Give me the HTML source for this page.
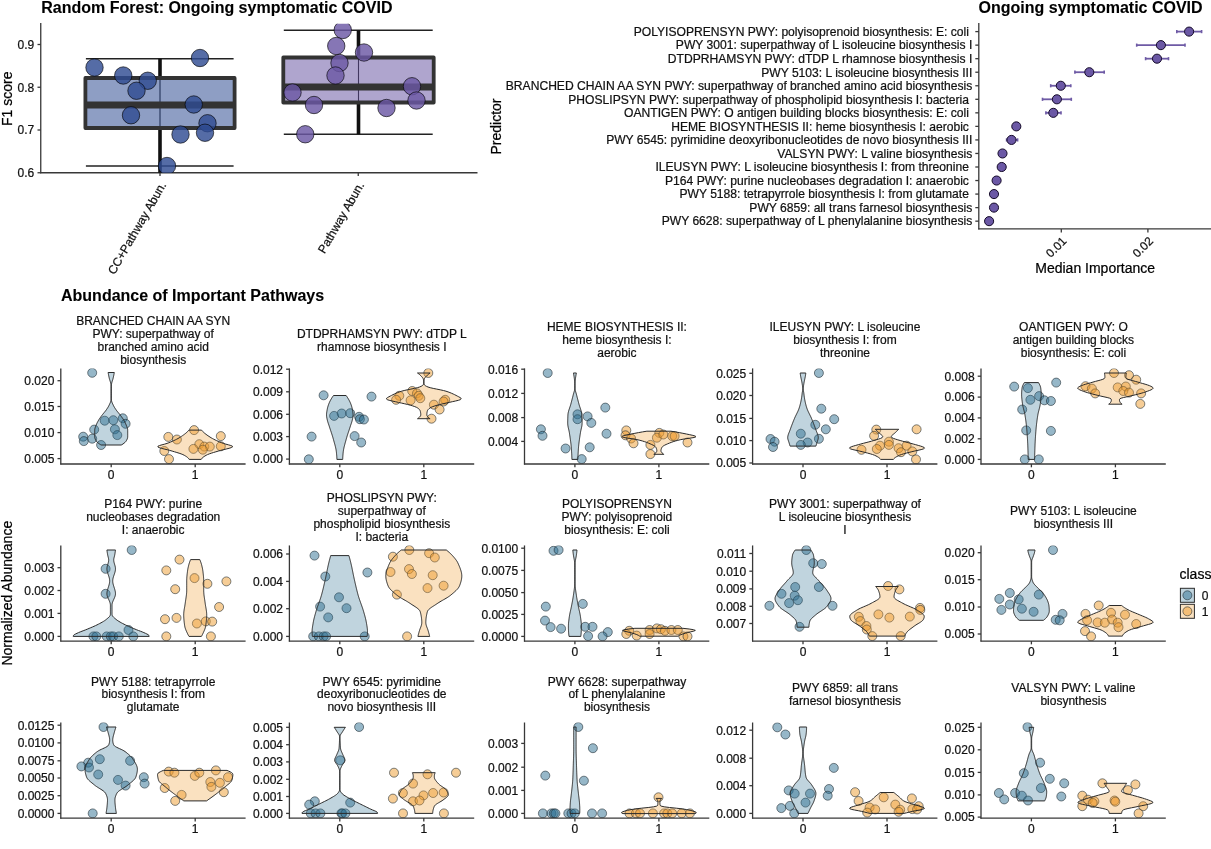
<!DOCTYPE html>
<html><head><meta charset="utf-8"><title>Random Forest: Ongoing symptomatic COVID</title>
<style>html,body{margin:0;padding:0;background:#fff;overflow:hidden}svg{display:block}text{font-family:'Liberation Sans', Arial, sans-serif;stroke:currentColor;stroke-width:0.22px}</style>
</head><body>
<svg width="1211" height="849" viewBox="0 0 1211 849">
<rect width="1211" height="849" fill="#fff"/>
<text x="41.3" y="13.2" font-size="16" font-weight="bold" fill="#000" color="#000" style="stroke-width:0.1px">Random Forest: Ongoing symptomatic COVID</text>
<line x1="40.75" y1="23" x2="40.75" y2="173.3" stroke="#383838" stroke-width="1.3"/>
<line x1="37.5" y1="44.5" x2="40.75" y2="44.5" stroke="#383838" stroke-width="1.3"/>
<text x="34.3" y="48.80" font-size="12" text-anchor="end" fill="#111" color="#111">0.9</text>
<line x1="37.5" y1="87.25" x2="40.75" y2="87.25" stroke="#383838" stroke-width="1.3"/>
<text x="34.3" y="91.55" font-size="12" text-anchor="end" fill="#111" color="#111">0.8</text>
<line x1="37.5" y1="130.0" x2="40.75" y2="130.0" stroke="#383838" stroke-width="1.3"/>
<text x="34.3" y="134.30" font-size="12" text-anchor="end" fill="#111" color="#111">0.7</text>
<line x1="37.5" y1="172.75" x2="40.75" y2="172.75" stroke="#383838" stroke-width="1.3"/>
<text x="34.3" y="177.05" font-size="12" text-anchor="end" fill="#111" color="#111">0.6</text>
<text transform="translate(11.8,98.8) rotate(-90)" font-size="14" text-anchor="middle" fill="#000" color="#000">F1 score</text>
<line x1="40.2" y1="172.75" x2="477.5" y2="172.75" stroke="#383838" stroke-width="1.3"/>
<line x1="160.0" y1="172.75" x2="160.0" y2="176" stroke="#383838" stroke-width="1.3"/>
<line x1="358.25" y1="172.75" x2="358.25" y2="176" stroke="#383838" stroke-width="1.3"/>
<text transform="translate(159,180.5) rotate(-60)" font-size="12" text-anchor="end" dominant-baseline="hanging" fill="#111" color="#111">CC+Pathway Abun.</text>
<text transform="translate(357,180.5) rotate(-60)" font-size="12" text-anchor="end" dominant-baseline="hanging" fill="#111" color="#111">Pathway Abun.</text>
<defs><clipPath id="cpTL"><rect x="40.75" y="23.75" width="440" height="149"/></clipPath></defs>
<g clip-path="url(#cpTL)">
<line x1="160.0" y1="58.7" x2="160.0" y2="166" stroke="#111" stroke-width="1.1"/>
<line x1="85.9" y1="58.7" x2="233.6" y2="58.7" stroke="#222" stroke-width="1.6"/>
<line x1="85.9" y1="166" x2="233.6" y2="166" stroke="#222" stroke-width="1.6"/>
<line x1="160.0" y1="58.7" x2="160.0" y2="78" stroke="#111" stroke-width="3.6"/>
<line x1="160.0" y1="128" x2="160.0" y2="175" stroke="#111" stroke-width="3.6"/>
<rect x="85.4" y="78" width="149.2" height="50" fill="#2F4C92" fill-opacity="0.54" stroke="#333" stroke-width="3.8" stroke-linejoin="round"/>
<line x1="85.4" y1="105" x2="234.6" y2="105" stroke="#333" stroke-width="7.2"/>
<circle cx="94.5" cy="67.5" r="8.7" fill="#2F4C92" fill-opacity="0.82" stroke="#000" stroke-opacity="0.7" stroke-width="0.9"/>
<circle cx="123.25" cy="75.5" r="8.7" fill="#2F4C92" fill-opacity="0.82" stroke="#000" stroke-opacity="0.7" stroke-width="0.9"/>
<circle cx="147.75" cy="80.75" r="8.7" fill="#2F4C92" fill-opacity="0.82" stroke="#000" stroke-opacity="0.7" stroke-width="0.9"/>
<circle cx="136.5" cy="90.75" r="8.7" fill="#2F4C92" fill-opacity="0.82" stroke="#000" stroke-opacity="0.7" stroke-width="0.9"/>
<circle cx="131" cy="115.25" r="8.7" fill="#2F4C92" fill-opacity="0.82" stroke="#000" stroke-opacity="0.7" stroke-width="0.9"/>
<circle cx="200" cy="58" r="8.7" fill="#2F4C92" fill-opacity="0.82" stroke="#000" stroke-opacity="0.7" stroke-width="0.9"/>
<circle cx="193.75" cy="104.5" r="8.7" fill="#2F4C92" fill-opacity="0.82" stroke="#000" stroke-opacity="0.7" stroke-width="0.9"/>
<circle cx="207.5" cy="123.25" r="8.7" fill="#2F4C92" fill-opacity="0.82" stroke="#000" stroke-opacity="0.7" stroke-width="0.9"/>
<circle cx="205" cy="132.75" r="8.7" fill="#2F4C92" fill-opacity="0.82" stroke="#000" stroke-opacity="0.7" stroke-width="0.9"/>
<circle cx="180.5" cy="134.5" r="8.7" fill="#2F4C92" fill-opacity="0.82" stroke="#000" stroke-opacity="0.7" stroke-width="0.9"/>
<circle cx="167" cy="166" r="8.7" fill="#2F4C92" fill-opacity="0.82" stroke="#000" stroke-opacity="0.7" stroke-width="0.9"/>
<line x1="358.5" y1="30.25" x2="358.5" y2="134.25" stroke="#111" stroke-width="1.1"/>
<line x1="283.8" y1="30.25" x2="432.7" y2="30.25" stroke="#222" stroke-width="1.6"/>
<line x1="283.8" y1="134.25" x2="432.7" y2="134.25" stroke="#222" stroke-width="1.6"/>
<line x1="358.5" y1="30.25" x2="358.5" y2="57.5" stroke="#111" stroke-width="3.6"/>
<line x1="358.5" y1="102.5" x2="358.5" y2="134.25" stroke="#111" stroke-width="3.6"/>
<rect x="283.3" y="57.5" width="150.4" height="45.0" fill="#6B58A5" fill-opacity="0.54" stroke="#333" stroke-width="3.8" stroke-linejoin="round"/>
<line x1="283.3" y1="87" x2="433.7" y2="87" stroke="#333" stroke-width="7.2"/>
<circle cx="342.75" cy="30" r="8.7" fill="#6B58A5" fill-opacity="0.82" stroke="#000" stroke-opacity="0.7" stroke-width="0.9"/>
<circle cx="336.25" cy="46" r="8.7" fill="#6B58A5" fill-opacity="0.82" stroke="#000" stroke-opacity="0.7" stroke-width="0.9"/>
<circle cx="364" cy="52.5" r="8.7" fill="#6B58A5" fill-opacity="0.82" stroke="#000" stroke-opacity="0.7" stroke-width="0.9"/>
<circle cx="339.5" cy="63" r="8.7" fill="#6B58A5" fill-opacity="0.82" stroke="#000" stroke-opacity="0.7" stroke-width="0.9"/>
<circle cx="335.5" cy="75.5" r="8.7" fill="#6B58A5" fill-opacity="0.82" stroke="#000" stroke-opacity="0.7" stroke-width="0.9"/>
<circle cx="292.5" cy="92.5" r="8.7" fill="#6B58A5" fill-opacity="0.82" stroke="#000" stroke-opacity="0.7" stroke-width="0.9"/>
<circle cx="314" cy="105" r="8.7" fill="#6B58A5" fill-opacity="0.82" stroke="#000" stroke-opacity="0.7" stroke-width="0.9"/>
<circle cx="412" cy="86.25" r="8.7" fill="#6B58A5" fill-opacity="0.82" stroke="#000" stroke-opacity="0.7" stroke-width="0.9"/>
<circle cx="416.5" cy="100.5" r="8.7" fill="#6B58A5" fill-opacity="0.82" stroke="#000" stroke-opacity="0.7" stroke-width="0.9"/>
<circle cx="386.5" cy="108" r="8.7" fill="#6B58A5" fill-opacity="0.82" stroke="#000" stroke-opacity="0.7" stroke-width="0.9"/>
<circle cx="305.25" cy="134.25" r="8.7" fill="#6B58A5" fill-opacity="0.82" stroke="#000" stroke-opacity="0.7" stroke-width="0.9"/>
</g>
<text x="978.6" y="13.2" font-size="16" font-weight="bold" fill="#000" color="#000" style="stroke-width:0.1px">Ongoing symptomatic COVID</text>
<line x1="978.8" y1="23" x2="978.8" y2="229.4" stroke="#383838" stroke-width="1.3"/>
<line x1="978.3" y1="228.9" x2="1211" y2="228.9" stroke="#383838" stroke-width="1.3"/>
<line x1="975.3" y1="31.60" x2="978.8" y2="31.60" stroke="#383838" stroke-width="1.3"/>
<text x="972.3" y="35.90" font-size="12.1" text-anchor="end" fill="#111" color="#111">POLYISOPRENSYN PWY: polyisoprenoid biosynthesis: E: coli </text>
<line x1="1176.8" y1="31.60" x2="1201.6" y2="31.60" stroke="#6E5AA5" stroke-width="1.8"/>
<line x1="1176.8" y1="30.00" x2="1176.8" y2="33.20" stroke="#6E5AA5" stroke-width="1.6"/>
<line x1="1201.6" y1="30.00" x2="1201.6" y2="33.20" stroke="#6E5AA5" stroke-width="1.6"/>
<circle cx="1189.1" cy="31.60" r="4.55" fill="#6B58A5" stroke="#140a28" stroke-width="1.0"/>
<line x1="975.3" y1="45.14" x2="978.8" y2="45.14" stroke="#383838" stroke-width="1.3"/>
<text x="972.3" y="49.44" font-size="12.1" text-anchor="end" fill="#111" color="#111">PWY 3001: superpathway of L isoleucine biosynthesis I</text>
<line x1="1136.7" y1="45.14" x2="1185.0" y2="45.14" stroke="#6E5AA5" stroke-width="1.8"/>
<line x1="1136.7" y1="43.54" x2="1136.7" y2="46.74" stroke="#6E5AA5" stroke-width="1.6"/>
<line x1="1185.0" y1="43.54" x2="1185.0" y2="46.74" stroke="#6E5AA5" stroke-width="1.6"/>
<circle cx="1160.9" cy="45.14" r="4.55" fill="#6B58A5" stroke="#140a28" stroke-width="1.0"/>
<line x1="975.3" y1="58.68" x2="978.8" y2="58.68" stroke="#383838" stroke-width="1.3"/>
<text x="972.3" y="62.98" font-size="12.1" text-anchor="end" fill="#111" color="#111">DTDPRHAMSYN PWY: dTDP L rhamnose biosynthesis I</text>
<line x1="1145.6" y1="58.68" x2="1168.5" y2="58.68" stroke="#6E5AA5" stroke-width="1.8"/>
<line x1="1145.6" y1="57.08" x2="1145.6" y2="60.28" stroke="#6E5AA5" stroke-width="1.6"/>
<line x1="1168.5" y1="57.08" x2="1168.5" y2="60.28" stroke="#6E5AA5" stroke-width="1.6"/>
<circle cx="1157.0" cy="58.68" r="4.55" fill="#6B58A5" stroke="#140a28" stroke-width="1.0"/>
<line x1="975.3" y1="72.22" x2="978.8" y2="72.22" stroke="#383838" stroke-width="1.3"/>
<text x="972.3" y="76.52" font-size="12.1" text-anchor="end" fill="#111" color="#111">PWY 5103: L isoleucine biosynthesis III</text>
<line x1="1074.9" y1="72.22" x2="1104.2" y2="72.22" stroke="#6E5AA5" stroke-width="1.8"/>
<line x1="1074.9" y1="70.62" x2="1074.9" y2="73.82" stroke="#6E5AA5" stroke-width="1.6"/>
<line x1="1104.2" y1="70.62" x2="1104.2" y2="73.82" stroke="#6E5AA5" stroke-width="1.6"/>
<circle cx="1089.3" cy="72.22" r="4.55" fill="#6B58A5" stroke="#140a28" stroke-width="1.0"/>
<line x1="975.3" y1="85.76" x2="978.8" y2="85.76" stroke="#383838" stroke-width="1.3"/>
<text x="972.3" y="90.06" font-size="12.1" text-anchor="end" fill="#111" color="#111">BRANCHED CHAIN AA SYN PWY: superpathway of branched amino acid biosynthesis</text>
<line x1="1050.7" y1="85.76" x2="1070.8" y2="85.76" stroke="#6E5AA5" stroke-width="1.8"/>
<line x1="1050.7" y1="84.16" x2="1050.7" y2="87.36" stroke="#6E5AA5" stroke-width="1.6"/>
<line x1="1070.8" y1="84.16" x2="1070.8" y2="87.36" stroke="#6E5AA5" stroke-width="1.6"/>
<circle cx="1060.8" cy="85.76" r="4.55" fill="#6B58A5" stroke="#140a28" stroke-width="1.0"/>
<line x1="975.3" y1="99.30" x2="978.8" y2="99.30" stroke="#383838" stroke-width="1.3"/>
<text x="972.3" y="103.60" font-size="12.1" text-anchor="end" fill="#111" color="#111">PHOSLIPSYN PWY: superpathway of phospholipid biosynthesis I: bacteria </text>
<line x1="1042.5" y1="99.30" x2="1071.3" y2="99.30" stroke="#6E5AA5" stroke-width="1.8"/>
<line x1="1042.5" y1="97.70" x2="1042.5" y2="100.90" stroke="#6E5AA5" stroke-width="1.6"/>
<line x1="1071.3" y1="97.70" x2="1071.3" y2="100.90" stroke="#6E5AA5" stroke-width="1.6"/>
<circle cx="1056.9" cy="99.30" r="4.55" fill="#6B58A5" stroke="#140a28" stroke-width="1.0"/>
<line x1="975.3" y1="112.84" x2="978.8" y2="112.84" stroke="#383838" stroke-width="1.3"/>
<text x="972.3" y="117.14" font-size="12.1" text-anchor="end" fill="#111" color="#111">OANTIGEN PWY: O antigen building blocks biosynthesis: E: coli </text>
<line x1="1045.9" y1="112.84" x2="1061.0" y2="112.84" stroke="#6E5AA5" stroke-width="1.8"/>
<line x1="1045.9" y1="111.24" x2="1045.9" y2="114.44" stroke="#6E5AA5" stroke-width="1.6"/>
<line x1="1061.0" y1="111.24" x2="1061.0" y2="114.44" stroke="#6E5AA5" stroke-width="1.6"/>
<circle cx="1053.3" cy="112.84" r="4.55" fill="#6B58A5" stroke="#140a28" stroke-width="1.0"/>
<line x1="975.3" y1="126.38" x2="978.8" y2="126.38" stroke="#383838" stroke-width="1.3"/>
<text x="972.3" y="130.68" font-size="12.1" text-anchor="end" fill="#111" color="#111">HEME BIOSYNTHESIS II: heme biosynthesis I: aerobic </text>
<circle cx="1016.3" cy="126.38" r="4.55" fill="#6B58A5" stroke="#140a28" stroke-width="1.0"/>
<line x1="975.3" y1="139.92" x2="978.8" y2="139.92" stroke="#383838" stroke-width="1.3"/>
<text x="972.3" y="144.22" font-size="12.1" text-anchor="end" fill="#111" color="#111">PWY 6545: pyrimidine deoxyribonucleotides de novo biosynthesis III</text>
<line x1="1006.6" y1="139.92" x2="1017.6" y2="139.92" stroke="#6E5AA5" stroke-width="1.8"/>
<line x1="1006.6" y1="138.32" x2="1006.6" y2="141.52" stroke="#6E5AA5" stroke-width="1.6"/>
<line x1="1017.6" y1="138.32" x2="1017.6" y2="141.52" stroke="#6E5AA5" stroke-width="1.6"/>
<circle cx="1011.5" cy="139.92" r="4.55" fill="#6B58A5" stroke="#140a28" stroke-width="1.0"/>
<line x1="975.3" y1="153.46" x2="978.8" y2="153.46" stroke="#383838" stroke-width="1.3"/>
<text x="972.3" y="157.76" font-size="12.1" text-anchor="end" fill="#111" color="#111">VALSYN PWY: L valine biosynthesis</text>
<circle cx="1002.5" cy="153.46" r="4.55" fill="#6B58A5" stroke="#140a28" stroke-width="1.0"/>
<line x1="975.3" y1="167.00" x2="978.8" y2="167.00" stroke="#383838" stroke-width="1.3"/>
<text x="972.3" y="171.30" font-size="12.1" text-anchor="end" fill="#111" color="#111">ILEUSYN PWY: L isoleucine biosynthesis I: from threonine </text>
<circle cx="1001.7" cy="167.00" r="4.55" fill="#6B58A5" stroke="#140a28" stroke-width="1.0"/>
<line x1="975.3" y1="180.54" x2="978.8" y2="180.54" stroke="#383838" stroke-width="1.3"/>
<text x="972.3" y="184.84" font-size="12.1" text-anchor="end" fill="#111" color="#111">P164 PWY: purine nucleobases degradation I: anaerobic </text>
<circle cx="996.6" cy="180.54" r="4.55" fill="#6B58A5" stroke="#140a28" stroke-width="1.0"/>
<line x1="975.3" y1="194.08" x2="978.8" y2="194.08" stroke="#383838" stroke-width="1.3"/>
<text x="972.3" y="198.38" font-size="12.1" text-anchor="end" fill="#111" color="#111">PWY 5188: tetrapyrrole biosynthesis I: from glutamate </text>
<circle cx="994.0" cy="194.08" r="4.55" fill="#6B58A5" stroke="#140a28" stroke-width="1.0"/>
<line x1="975.3" y1="207.62" x2="978.8" y2="207.62" stroke="#383838" stroke-width="1.3"/>
<text x="972.3" y="211.92" font-size="12.1" text-anchor="end" fill="#111" color="#111">PWY 6859: all trans farnesol biosynthesis</text>
<circle cx="994.0" cy="207.62" r="4.55" fill="#6B58A5" stroke="#140a28" stroke-width="1.0"/>
<line x1="975.3" y1="221.16" x2="978.8" y2="221.16" stroke="#383838" stroke-width="1.3"/>
<text x="972.3" y="225.46" font-size="12.1" text-anchor="end" fill="#111" color="#111">PWY 6628: superpathway of L phenylalanine biosynthesis</text>
<circle cx="989.1" cy="221.16" r="4.55" fill="#6B58A5" stroke="#140a28" stroke-width="1.0"/>
<line x1="1061.3" y1="228.9" x2="1061.3" y2="232.4" stroke="#383838" stroke-width="1.3"/>
<text transform="translate(1061.10,235.5) rotate(-45)" font-size="12" text-anchor="end" dominant-baseline="hanging" fill="#111" color="#111">0.01</text>
<line x1="1147.9" y1="228.9" x2="1147.9" y2="232.4" stroke="#383838" stroke-width="1.3"/>
<text transform="translate(1147.70,235.5) rotate(-45)" font-size="12" text-anchor="end" dominant-baseline="hanging" fill="#111" color="#111">0.02</text>
<text x="1095.2" y="273" font-size="14" text-anchor="middle" fill="#000" color="#000">Median Importance</text>
<text transform="translate(501.3,126.5) rotate(-90)" font-size="14" text-anchor="middle" fill="#000" color="#000">Predictor</text>
<text x="61.0" y="301.3" font-size="16" font-weight="bold" fill="#000" color="#000" style="stroke-width:0.1px">Abundance of Important Pathways</text>
<text transform="translate(11.8,593.2) rotate(-90)" font-size="14" text-anchor="middle" fill="#000" color="#000">Normalized Abundance</text>
<text x="153.20" y="325.00" font-size="12" text-anchor="middle" fill="#111" color="#111">BRANCHED CHAIN AA SYN</text>
<text x="153.20" y="337.83" font-size="12" text-anchor="middle" fill="#111" color="#111">PWY: superpathway of</text>
<text x="153.20" y="350.67" font-size="12" text-anchor="middle" fill="#111" color="#111">branched amino acid</text>
<text x="153.20" y="363.50" font-size="12" text-anchor="middle" fill="#111" color="#111">biosynthesis</text>
<clipPath id="cp0"><rect x="60.80" y="368.40" width="184.80" height="95.60"/></clipPath>
<g clip-path="url(#cp0)">
<circle cx="92.20" cy="372.80" r="4.5" fill="#2D7091" fill-opacity="0.5" stroke="#1c2830" stroke-opacity="0.6" stroke-width="0.95"/>
<circle cx="104.70" cy="420.70" r="4.5" fill="#2D7091" fill-opacity="0.5" stroke="#1c2830" stroke-opacity="0.6" stroke-width="0.95"/>
<circle cx="113.30" cy="420.20" r="4.5" fill="#2D7091" fill-opacity="0.5" stroke="#1c2830" stroke-opacity="0.6" stroke-width="0.95"/>
<circle cx="122.80" cy="418.30" r="4.5" fill="#2D7091" fill-opacity="0.5" stroke="#1c2830" stroke-opacity="0.6" stroke-width="0.95"/>
<circle cx="125.60" cy="423.80" r="4.5" fill="#2D7091" fill-opacity="0.5" stroke="#1c2830" stroke-opacity="0.6" stroke-width="0.95"/>
<circle cx="94.20" cy="429.60" r="4.5" fill="#2D7091" fill-opacity="0.5" stroke="#1c2830" stroke-opacity="0.6" stroke-width="0.95"/>
<circle cx="114.90" cy="429.30" r="4.5" fill="#2D7091" fill-opacity="0.5" stroke="#1c2830" stroke-opacity="0.6" stroke-width="0.95"/>
<circle cx="117.30" cy="435.10" r="4.5" fill="#2D7091" fill-opacity="0.5" stroke="#1c2830" stroke-opacity="0.6" stroke-width="0.95"/>
<circle cx="83.20" cy="436.70" r="4.5" fill="#2D7091" fill-opacity="0.5" stroke="#1c2830" stroke-opacity="0.6" stroke-width="0.95"/>
<circle cx="83.80" cy="441.10" r="4.5" fill="#2D7091" fill-opacity="0.5" stroke="#1c2830" stroke-opacity="0.6" stroke-width="0.95"/>
<circle cx="92.20" cy="438.70" r="4.5" fill="#2D7091" fill-opacity="0.5" stroke="#1c2830" stroke-opacity="0.6" stroke-width="0.95"/>
<circle cx="101.10" cy="445.00" r="4.5" fill="#2D7091" fill-opacity="0.5" stroke="#1c2830" stroke-opacity="0.6" stroke-width="0.95"/>
<circle cx="194.10" cy="430.10" r="4.5" fill="#ED9B2D" fill-opacity="0.5" stroke="#1c2830" stroke-opacity="0.6" stroke-width="0.95"/>
<circle cx="168.30" cy="436.90" r="4.5" fill="#ED9B2D" fill-opacity="0.5" stroke="#1c2830" stroke-opacity="0.6" stroke-width="0.95"/>
<circle cx="176.90" cy="439.50" r="4.5" fill="#ED9B2D" fill-opacity="0.5" stroke="#1c2830" stroke-opacity="0.6" stroke-width="0.95"/>
<circle cx="220.80" cy="436.10" r="4.5" fill="#ED9B2D" fill-opacity="0.5" stroke="#1c2830" stroke-opacity="0.6" stroke-width="0.95"/>
<circle cx="199.30" cy="444.20" r="4.5" fill="#ED9B2D" fill-opacity="0.5" stroke="#1c2830" stroke-opacity="0.6" stroke-width="0.95"/>
<circle cx="193.40" cy="448.90" r="4.5" fill="#ED9B2D" fill-opacity="0.5" stroke="#1c2830" stroke-opacity="0.6" stroke-width="0.95"/>
<circle cx="204.30" cy="446.60" r="4.5" fill="#ED9B2D" fill-opacity="0.5" stroke="#1c2830" stroke-opacity="0.6" stroke-width="0.95"/>
<circle cx="209.80" cy="446.60" r="4.5" fill="#ED9B2D" fill-opacity="0.5" stroke="#1c2830" stroke-opacity="0.6" stroke-width="0.95"/>
<circle cx="220.80" cy="446.30" r="4.5" fill="#ED9B2D" fill-opacity="0.5" stroke="#1c2830" stroke-opacity="0.6" stroke-width="0.95"/>
<circle cx="164.30" cy="451.00" r="4.5" fill="#ED9B2D" fill-opacity="0.5" stroke="#1c2830" stroke-opacity="0.6" stroke-width="0.95"/>
<circle cx="169.00" cy="459.10" r="4.5" fill="#ED9B2D" fill-opacity="0.5" stroke="#1c2830" stroke-opacity="0.6" stroke-width="0.95"/>
<circle cx="202.80" cy="449.70" r="4.5" fill="#ED9B2D" fill-opacity="0.5" stroke="#1c2830" stroke-opacity="0.6" stroke-width="0.95"/>
<path d="M108.10,372.50 L108.23,373.20 L108.36,373.90 L108.49,374.60 L108.63,375.30 L108.77,376.00 L108.92,376.70 L109.07,377.40 L109.23,378.10 L109.41,378.80 L109.62,379.50 L109.84,380.20 L110.07,380.90 L110.29,381.60 L110.50,382.30 L110.68,383.00 L110.82,383.70 L110.91,384.40 L110.94,385.10 L110.95,385.80 L110.95,386.50 L110.95,387.20 L110.95,387.90 L110.95,388.60 L110.95,389.30 L110.95,390.00 L110.95,390.70 L110.95,391.40 L110.95,392.10 L110.95,392.80 L110.95,393.50 L110.95,394.20 L110.95,394.90 L110.95,395.60 L110.95,396.30 L110.95,397.00 L110.95,397.70 L110.95,398.40 L110.95,399.10 L110.94,399.80 L110.89,400.50 L110.77,401.20 L110.56,401.90 L110.30,402.60 L109.99,403.30 L109.67,404.00 L109.34,404.70 L109.01,405.40 L108.65,406.10 L108.26,406.80 L107.84,407.50 L107.40,408.20 L106.94,408.90 L106.47,409.60 L105.98,410.30 L105.45,411.00 L104.90,411.70 L104.32,412.40 L103.73,413.10 L103.15,413.80 L102.59,414.50 L102.05,415.20 L101.53,415.90 L101.01,416.60 L100.50,417.30 L100.00,418.00 L99.52,418.70 L99.07,419.40 L98.65,420.10 L98.24,420.80 L97.85,421.50 L97.48,422.20 L97.13,422.90 L96.79,423.60 L96.49,424.30 L96.20,425.00 L95.92,425.70 L95.64,426.40 L95.37,427.10 L95.13,427.80 L94.93,428.50 L94.79,429.20 L94.72,429.90 L94.70,430.60 L94.70,431.30 L94.70,432.00 L94.70,432.70 L94.70,433.40 L94.70,434.10 L94.70,434.80 L94.70,435.50 L94.70,436.20 L94.72,436.90 L94.78,437.60 L94.94,438.30 L95.19,439.00 L95.51,439.70 L95.88,440.40 L96.30,441.10 L96.84,441.80 L97.54,442.50 L98.36,443.20 L99.33,443.90 L100.35,444.60 L101.20,445.00 L121.20,445.00 L122.05,444.60 L123.07,443.90 L124.04,443.20 L124.86,442.50 L125.56,441.80 L126.10,441.10 L126.52,440.40 L126.89,439.70 L127.21,439.00 L127.46,438.30 L127.62,437.60 L127.68,436.90 L127.70,436.20 L127.70,435.50 L127.70,434.80 L127.70,434.10 L127.70,433.40 L127.70,432.70 L127.70,432.00 L127.70,431.30 L127.70,430.60 L127.68,429.90 L127.61,429.20 L127.47,428.50 L127.27,427.80 L127.03,427.10 L126.76,426.40 L126.48,425.70 L126.20,425.00 L125.91,424.30 L125.61,423.60 L125.27,422.90 L124.92,422.20 L124.55,421.50 L124.16,420.80 L123.75,420.10 L123.33,419.40 L122.88,418.70 L122.40,418.00 L121.90,417.30 L121.39,416.60 L120.87,415.90 L120.35,415.20 L119.81,414.50 L119.25,413.80 L118.67,413.10 L118.08,412.40 L117.50,411.70 L116.95,411.00 L116.42,410.30 L115.93,409.60 L115.46,408.90 L115.00,408.20 L114.56,407.50 L114.14,406.80 L113.75,406.10 L113.39,405.40 L113.06,404.70 L112.73,404.00 L112.41,403.30 L112.10,402.60 L111.84,401.90 L111.63,401.20 L111.51,400.50 L111.46,399.80 L111.45,399.10 L111.45,398.40 L111.45,397.70 L111.45,397.00 L111.45,396.30 L111.45,395.60 L111.45,394.90 L111.45,394.20 L111.45,393.50 L111.45,392.80 L111.45,392.10 L111.45,391.40 L111.45,390.70 L111.45,390.00 L111.45,389.30 L111.45,388.60 L111.45,387.90 L111.45,387.20 L111.45,386.50 L111.45,385.80 L111.46,385.10 L111.49,384.40 L111.58,383.70 L111.72,383.00 L111.90,382.30 L112.11,381.60 L112.33,380.90 L112.56,380.20 L112.78,379.50 L112.99,378.80 L113.17,378.10 L113.33,377.40 L113.48,376.70 L113.63,376.00 L113.77,375.30 L113.91,374.60 L114.04,373.90 L114.17,373.20 L114.30,372.50 Z" fill="#2D7091" fill-opacity="0.3" stroke="#2a2a2a" stroke-width="1.0" stroke-linejoin="round"/>
<path d="M188.90,430.10 L188.28,430.80 L187.65,431.50 L186.93,432.20 L186.15,432.90 L185.30,433.60 L184.40,434.30 L183.45,435.00 L182.45,435.70 L181.41,436.40 L180.34,437.10 L179.20,437.80 L177.99,438.50 L176.68,439.20 L175.29,439.90 L173.81,440.60 L172.26,441.30 L170.64,442.00 L168.93,442.70 L167.03,443.40 L164.72,444.10 L162.06,444.80 L159.59,445.50 L158.01,446.20 L157.83,446.90 L159.06,447.60 L161.32,448.30 L164.15,449.00 L167.08,449.70 L169.75,450.40 L172.17,451.10 L174.53,451.80 L176.87,452.50 L179.11,453.20 L181.15,453.90 L182.89,454.60 L184.30,455.30 L185.49,456.00 L186.55,456.70 L187.48,457.40 L188.25,458.10 L188.81,458.80 L189.20,459.40 L201.20,459.40 L201.59,458.80 L202.15,458.10 L202.92,457.40 L203.85,456.70 L204.91,456.00 L206.10,455.30 L207.51,454.60 L209.25,453.90 L211.29,453.20 L213.53,452.50 L215.87,451.80 L218.23,451.10 L220.65,450.40 L223.32,449.70 L226.25,449.00 L229.08,448.30 L231.34,447.60 L232.57,446.90 L232.39,446.20 L230.81,445.50 L228.34,444.80 L225.68,444.10 L223.37,443.40 L221.47,442.70 L219.76,442.00 L218.14,441.30 L216.59,440.60 L215.11,439.90 L213.72,439.20 L212.41,438.50 L211.20,437.80 L210.06,437.10 L208.99,436.40 L207.95,435.70 L206.95,435.00 L206.00,434.30 L205.10,433.60 L204.25,432.90 L203.47,432.20 L202.75,431.50 L202.12,430.80 L201.50,430.10 Z" fill="#ED9B2D" fill-opacity="0.3" stroke="#2a2a2a" stroke-width="1.0" stroke-linejoin="round"/>
</g>
<line x1="60.80" y1="368.40" x2="60.80" y2="464.55" stroke="#383838" stroke-width="1.3"/>
<line x1="60.25" y1="464.00" x2="245.60" y2="464.00" stroke="#383838" stroke-width="1.3"/>
<line x1="57.50" y1="380.70" x2="60.80" y2="380.70" stroke="#383838" stroke-width="1.3"/>
<text x="54.40" y="385.00" font-size="12" text-anchor="end" fill="#111" color="#111">0.020</text>
<line x1="57.50" y1="406.50" x2="60.80" y2="406.50" stroke="#383838" stroke-width="1.3"/>
<text x="54.40" y="410.80" font-size="12" text-anchor="end" fill="#111" color="#111">0.015</text>
<line x1="57.50" y1="432.60" x2="60.80" y2="432.60" stroke="#383838" stroke-width="1.3"/>
<text x="54.40" y="436.90" font-size="12" text-anchor="end" fill="#111" color="#111">0.010</text>
<line x1="57.50" y1="458.60" x2="60.80" y2="458.60" stroke="#383838" stroke-width="1.3"/>
<text x="54.40" y="462.90" font-size="12" text-anchor="end" fill="#111" color="#111">0.005</text>
<line x1="111.20" y1="464.00" x2="111.20" y2="467.30" stroke="#383838" stroke-width="1.3"/>
<text x="111.20" y="478.60" font-size="12" text-anchor="middle" fill="#111" color="#111">0</text>
<line x1="195.20" y1="464.00" x2="195.20" y2="467.30" stroke="#383838" stroke-width="1.3"/>
<text x="195.20" y="478.60" font-size="12" text-anchor="middle" fill="#111" color="#111">1</text>
<text x="381.80" y="337.83" font-size="12" text-anchor="middle" fill="#111" color="#111">DTDPRHAMSYN PWY: dTDP L</text>
<text x="381.80" y="350.67" font-size="12" text-anchor="middle" fill="#111" color="#111">rhamnose biosynthesis I</text>
<clipPath id="cp1"><rect x="289.40" y="368.40" width="184.80" height="95.60"/></clipPath>
<g clip-path="url(#cp1)">
<circle cx="323.60" cy="395.30" r="4.5" fill="#2D7091" fill-opacity="0.5" stroke="#1c2830" stroke-opacity="0.6" stroke-width="0.95"/>
<circle cx="371.50" cy="396.60" r="4.5" fill="#2D7091" fill-opacity="0.5" stroke="#1c2830" stroke-opacity="0.6" stroke-width="0.95"/>
<circle cx="334.10" cy="415.90" r="4.5" fill="#2D7091" fill-opacity="0.5" stroke="#1c2830" stroke-opacity="0.6" stroke-width="0.95"/>
<circle cx="341.70" cy="413.50" r="4.5" fill="#2D7091" fill-opacity="0.5" stroke="#1c2830" stroke-opacity="0.6" stroke-width="0.95"/>
<circle cx="350.20" cy="413.20" r="4.5" fill="#2D7091" fill-opacity="0.5" stroke="#1c2830" stroke-opacity="0.6" stroke-width="0.95"/>
<circle cx="359.10" cy="416.80" r="4.5" fill="#2D7091" fill-opacity="0.5" stroke="#1c2830" stroke-opacity="0.6" stroke-width="0.95"/>
<circle cx="359.90" cy="419.20" r="4.5" fill="#2D7091" fill-opacity="0.5" stroke="#1c2830" stroke-opacity="0.6" stroke-width="0.95"/>
<circle cx="363.90" cy="419.50" r="4.5" fill="#2D7091" fill-opacity="0.5" stroke="#1c2830" stroke-opacity="0.6" stroke-width="0.95"/>
<circle cx="311.60" cy="436.60" r="4.5" fill="#2D7091" fill-opacity="0.5" stroke="#1c2830" stroke-opacity="0.6" stroke-width="0.95"/>
<circle cx="354.60" cy="436.10" r="4.5" fill="#2D7091" fill-opacity="0.5" stroke="#1c2830" stroke-opacity="0.6" stroke-width="0.95"/>
<circle cx="361.20" cy="442.50" r="4.5" fill="#2D7091" fill-opacity="0.5" stroke="#1c2830" stroke-opacity="0.6" stroke-width="0.95"/>
<circle cx="308.80" cy="459.30" r="4.5" fill="#2D7091" fill-opacity="0.5" stroke="#1c2830" stroke-opacity="0.6" stroke-width="0.95"/>
<circle cx="428.30" cy="373.00" r="4.5" fill="#ED9B2D" fill-opacity="0.5" stroke="#1c2830" stroke-opacity="0.6" stroke-width="0.95"/>
<circle cx="399.30" cy="395.80" r="4.5" fill="#ED9B2D" fill-opacity="0.5" stroke="#1c2830" stroke-opacity="0.6" stroke-width="0.95"/>
<circle cx="396.10" cy="399.80" r="4.5" fill="#ED9B2D" fill-opacity="0.5" stroke="#1c2830" stroke-opacity="0.6" stroke-width="0.95"/>
<circle cx="412.20" cy="391.00" r="4.5" fill="#ED9B2D" fill-opacity="0.5" stroke="#1c2830" stroke-opacity="0.6" stroke-width="0.95"/>
<circle cx="417.00" cy="393.40" r="4.5" fill="#ED9B2D" fill-opacity="0.5" stroke="#1c2830" stroke-opacity="0.6" stroke-width="0.95"/>
<circle cx="418.70" cy="395.80" r="4.5" fill="#ED9B2D" fill-opacity="0.5" stroke="#1c2830" stroke-opacity="0.6" stroke-width="0.95"/>
<circle cx="420.30" cy="398.20" r="4.5" fill="#ED9B2D" fill-opacity="0.5" stroke="#1c2830" stroke-opacity="0.6" stroke-width="0.95"/>
<circle cx="410.60" cy="400.30" r="4.5" fill="#ED9B2D" fill-opacity="0.5" stroke="#1c2830" stroke-opacity="0.6" stroke-width="0.95"/>
<circle cx="445.20" cy="399.80" r="4.5" fill="#ED9B2D" fill-opacity="0.5" stroke="#1c2830" stroke-opacity="0.6" stroke-width="0.95"/>
<circle cx="443.60" cy="401.50" r="4.5" fill="#ED9B2D" fill-opacity="0.5" stroke="#1c2830" stroke-opacity="0.6" stroke-width="0.95"/>
<circle cx="433.90" cy="404.70" r="4.5" fill="#ED9B2D" fill-opacity="0.5" stroke="#1c2830" stroke-opacity="0.6" stroke-width="0.95"/>
<circle cx="439.60" cy="409.50" r="4.5" fill="#ED9B2D" fill-opacity="0.5" stroke="#1c2830" stroke-opacity="0.6" stroke-width="0.95"/>
<circle cx="431.50" cy="418.70" r="4.5" fill="#ED9B2D" fill-opacity="0.5" stroke="#1c2830" stroke-opacity="0.6" stroke-width="0.95"/>
<path d="M333.50,395.50 L332.99,396.20 L332.53,396.90 L332.06,397.60 L331.62,398.30 L331.20,399.00 L330.79,399.70 L330.41,400.40 L330.04,401.10 L329.70,401.80 L329.38,402.50 L329.08,403.20 L328.81,403.90 L328.55,404.60 L328.30,405.30 L328.07,406.00 L327.86,406.70 L327.67,407.40 L327.49,408.10 L327.34,408.80 L327.21,409.50 L327.08,410.20 L326.95,410.90 L326.83,411.60 L326.73,412.30 L326.64,413.00 L326.57,413.70 L326.53,414.40 L326.51,415.10 L326.54,415.80 L326.61,416.50 L326.71,417.20 L326.85,417.90 L326.99,418.60 L327.15,419.30 L327.30,420.00 L327.47,420.70 L327.66,421.40 L327.86,422.10 L328.09,422.80 L328.32,423.50 L328.56,424.20 L328.80,424.90 L329.04,425.60 L329.27,426.30 L329.49,427.00 L329.72,427.70 L329.95,428.40 L330.18,429.10 L330.41,429.80 L330.64,430.50 L330.88,431.20 L331.11,431.90 L331.34,432.60 L331.57,433.30 L331.80,434.00 L332.03,434.70 L332.25,435.40 L332.47,436.10 L332.68,436.80 L332.89,437.50 L333.09,438.20 L333.29,438.90 L333.48,439.60 L333.67,440.30 L333.87,441.00 L334.06,441.70 L334.26,442.40 L334.45,443.10 L334.65,443.80 L334.84,444.50 L335.02,445.20 L335.21,445.90 L335.38,446.60 L335.55,447.30 L335.70,448.00 L335.85,448.70 L335.99,449.40 L336.11,450.10 L336.22,450.80 L336.32,451.50 L336.40,452.20 L336.47,452.90 L336.54,453.60 L336.60,454.30 L336.67,455.00 L336.72,455.70 L336.77,456.40 L336.82,457.10 L336.85,457.80 L336.88,458.50 L336.89,459.20 L336.90,459.40 L342.70,459.40 L342.71,459.20 L342.72,458.50 L342.75,457.80 L342.78,457.10 L342.83,456.40 L342.88,455.70 L342.93,455.00 L343.00,454.30 L343.06,453.60 L343.13,452.90 L343.20,452.20 L343.28,451.50 L343.38,450.80 L343.49,450.10 L343.61,449.40 L343.75,448.70 L343.90,448.00 L344.05,447.30 L344.22,446.60 L344.39,445.90 L344.58,445.20 L344.76,444.50 L344.95,443.80 L345.15,443.10 L345.34,442.40 L345.54,441.70 L345.73,441.00 L345.93,440.30 L346.12,439.60 L346.31,438.90 L346.51,438.20 L346.71,437.50 L346.92,436.80 L347.13,436.10 L347.35,435.40 L347.57,434.70 L347.80,434.00 L348.03,433.30 L348.26,432.60 L348.49,431.90 L348.72,431.20 L348.96,430.50 L349.19,429.80 L349.42,429.10 L349.65,428.40 L349.88,427.70 L350.11,427.00 L350.33,426.30 L350.56,425.60 L350.80,424.90 L351.04,424.20 L351.28,423.50 L351.51,422.80 L351.74,422.10 L351.94,421.40 L352.13,420.70 L352.30,420.00 L352.45,419.30 L352.61,418.60 L352.75,417.90 L352.89,417.20 L352.99,416.50 L353.06,415.80 L353.09,415.10 L353.07,414.40 L353.03,413.70 L352.96,413.00 L352.87,412.30 L352.77,411.60 L352.65,410.90 L352.52,410.20 L352.39,409.50 L352.26,408.80 L352.11,408.10 L351.93,407.40 L351.74,406.70 L351.53,406.00 L351.30,405.30 L351.05,404.60 L350.79,403.90 L350.52,403.20 L350.22,402.50 L349.90,401.80 L349.56,401.10 L349.19,400.40 L348.81,399.70 L348.40,399.00 L347.98,398.30 L347.54,397.60 L347.07,396.90 L346.61,396.20 L346.10,395.50 Z" fill="#2D7091" fill-opacity="0.3" stroke="#2a2a2a" stroke-width="1.0" stroke-linejoin="round"/>
<path d="M417.50,373.00 L418.50,373.70 L419.37,374.40 L420.17,375.10 L420.88,375.80 L421.53,376.50 L422.15,377.20 L422.71,377.90 L423.14,378.60 L423.39,379.30 L423.48,380.00 L423.50,380.70 L423.50,381.40 L423.50,382.10 L423.50,382.80 L423.50,383.50 L423.45,384.20 L423.17,384.90 L422.41,385.60 L421.20,386.30 L419.59,387.00 L417.37,387.70 L414.37,388.40 L410.88,389.10 L407.34,389.80 L404.18,390.50 L401.62,391.20 L399.52,391.90 L397.66,392.60 L395.95,393.30 L394.37,394.00 L392.92,394.70 L391.55,395.40 L390.21,396.10 L388.86,396.80 L387.60,397.50 L386.66,398.20 L386.37,398.90 L387.15,399.60 L389.17,400.30 L392.07,401.00 L395.28,401.70 L398.42,402.40 L401.57,403.10 L404.76,403.80 L407.77,404.50 L410.39,405.20 L412.69,405.90 L414.74,406.60 L416.43,407.30 L417.68,408.00 L418.59,408.70 L419.30,409.40 L419.84,410.10 L420.19,410.80 L420.39,411.50 L420.53,412.20 L420.64,412.90 L420.72,413.60 L420.77,414.30 L420.75,415.00 L420.58,415.70 L420.16,416.40 L419.51,417.10 L418.71,417.80 L417.97,418.50 L417.50,418.70 L430.10,418.70 L429.63,418.50 L428.89,417.80 L428.09,417.10 L427.44,416.40 L427.02,415.70 L426.85,415.00 L426.83,414.30 L426.88,413.60 L426.96,412.90 L427.07,412.20 L427.21,411.50 L427.41,410.80 L427.76,410.10 L428.30,409.40 L429.01,408.70 L429.92,408.00 L431.17,407.30 L432.86,406.60 L434.91,405.90 L437.21,405.20 L439.83,404.50 L442.84,403.80 L446.03,403.10 L449.18,402.40 L452.32,401.70 L455.53,401.00 L458.43,400.30 L460.45,399.60 L461.23,398.90 L460.94,398.20 L460.00,397.50 L458.74,396.80 L457.39,396.10 L456.05,395.40 L454.68,394.70 L453.23,394.00 L451.65,393.30 L449.94,392.60 L448.08,391.90 L445.98,391.20 L443.42,390.50 L440.26,389.80 L436.72,389.10 L433.23,388.40 L430.23,387.70 L428.01,387.00 L426.40,386.30 L425.19,385.60 L424.43,384.90 L424.15,384.20 L424.10,383.50 L424.10,382.80 L424.10,382.10 L424.10,381.40 L424.10,380.70 L424.12,380.00 L424.21,379.30 L424.46,378.60 L424.89,377.90 L425.45,377.20 L426.07,376.50 L426.72,375.80 L427.43,375.10 L428.23,374.40 L429.10,373.70 L430.10,373.00 Z" fill="#ED9B2D" fill-opacity="0.3" stroke="#2a2a2a" stroke-width="1.0" stroke-linejoin="round"/>
</g>
<line x1="289.40" y1="368.40" x2="289.40" y2="464.55" stroke="#383838" stroke-width="1.3"/>
<line x1="288.85" y1="464.00" x2="474.20" y2="464.00" stroke="#383838" stroke-width="1.3"/>
<line x1="286.10" y1="369.20" x2="289.40" y2="369.20" stroke="#383838" stroke-width="1.3"/>
<text x="283.00" y="373.50" font-size="12" text-anchor="end" fill="#111" color="#111">0.012</text>
<line x1="286.10" y1="391.80" x2="289.40" y2="391.80" stroke="#383838" stroke-width="1.3"/>
<text x="283.00" y="396.10" font-size="12" text-anchor="end" fill="#111" color="#111">0.009</text>
<line x1="286.10" y1="414.30" x2="289.40" y2="414.30" stroke="#383838" stroke-width="1.3"/>
<text x="283.00" y="418.60" font-size="12" text-anchor="end" fill="#111" color="#111">0.006</text>
<line x1="286.10" y1="436.60" x2="289.40" y2="436.60" stroke="#383838" stroke-width="1.3"/>
<text x="283.00" y="440.90" font-size="12" text-anchor="end" fill="#111" color="#111">0.003</text>
<line x1="286.10" y1="459.10" x2="289.40" y2="459.10" stroke="#383838" stroke-width="1.3"/>
<text x="283.00" y="463.40" font-size="12" text-anchor="end" fill="#111" color="#111">0.000</text>
<line x1="339.80" y1="464.00" x2="339.80" y2="467.30" stroke="#383838" stroke-width="1.3"/>
<text x="339.80" y="478.60" font-size="12" text-anchor="middle" fill="#111" color="#111">0</text>
<line x1="423.80" y1="464.00" x2="423.80" y2="467.30" stroke="#383838" stroke-width="1.3"/>
<text x="423.80" y="478.60" font-size="12" text-anchor="middle" fill="#111" color="#111">1</text>
<text x="616.90" y="331.42" font-size="12" text-anchor="middle" fill="#111" color="#111">HEME BIOSYNTHESIS II:</text>
<text x="616.90" y="344.25" font-size="12" text-anchor="middle" fill="#111" color="#111">heme biosynthesis I:</text>
<text x="616.90" y="357.08" font-size="12" text-anchor="middle" fill="#111" color="#111">aerobic</text>
<clipPath id="cp2"><rect x="524.50" y="368.40" width="184.80" height="95.60"/></clipPath>
<g clip-path="url(#cp2)">
<circle cx="547.70" cy="373.00" r="4.5" fill="#2D7091" fill-opacity="0.5" stroke="#1c2830" stroke-opacity="0.6" stroke-width="0.95"/>
<circle cx="577.50" cy="414.30" r="4.5" fill="#2D7091" fill-opacity="0.5" stroke="#1c2830" stroke-opacity="0.6" stroke-width="0.95"/>
<circle cx="577.50" cy="419.20" r="4.5" fill="#2D7091" fill-opacity="0.5" stroke="#1c2830" stroke-opacity="0.6" stroke-width="0.95"/>
<circle cx="587.60" cy="416.40" r="4.5" fill="#2D7091" fill-opacity="0.5" stroke="#1c2830" stroke-opacity="0.6" stroke-width="0.95"/>
<circle cx="591.30" cy="422.90" r="4.5" fill="#2D7091" fill-opacity="0.5" stroke="#1c2830" stroke-opacity="0.6" stroke-width="0.95"/>
<circle cx="605.30" cy="407.60" r="4.5" fill="#2D7091" fill-opacity="0.5" stroke="#1c2830" stroke-opacity="0.6" stroke-width="0.95"/>
<circle cx="540.90" cy="429.30" r="4.5" fill="#2D7091" fill-opacity="0.5" stroke="#1c2830" stroke-opacity="0.6" stroke-width="0.95"/>
<circle cx="542.50" cy="435.80" r="4.5" fill="#2D7091" fill-opacity="0.5" stroke="#1c2830" stroke-opacity="0.6" stroke-width="0.95"/>
<circle cx="606.50" cy="433.70" r="4.5" fill="#2D7091" fill-opacity="0.5" stroke="#1c2830" stroke-opacity="0.6" stroke-width="0.95"/>
<circle cx="565.60" cy="448.50" r="4.5" fill="#2D7091" fill-opacity="0.5" stroke="#1c2830" stroke-opacity="0.6" stroke-width="0.95"/>
<circle cx="589.70" cy="447.30" r="4.5" fill="#2D7091" fill-opacity="0.5" stroke="#1c2830" stroke-opacity="0.6" stroke-width="0.95"/>
<circle cx="581.70" cy="459.10" r="4.5" fill="#2D7091" fill-opacity="0.5" stroke="#1c2830" stroke-opacity="0.6" stroke-width="0.95"/>
<circle cx="626.30" cy="430.40" r="4.5" fill="#ED9B2D" fill-opacity="0.5" stroke="#1c2830" stroke-opacity="0.6" stroke-width="0.95"/>
<circle cx="625.50" cy="435.30" r="4.5" fill="#ED9B2D" fill-opacity="0.5" stroke="#1c2830" stroke-opacity="0.6" stroke-width="0.95"/>
<circle cx="631.10" cy="438.50" r="4.5" fill="#ED9B2D" fill-opacity="0.5" stroke="#1c2830" stroke-opacity="0.6" stroke-width="0.95"/>
<circle cx="633.50" cy="443.30" r="4.5" fill="#ED9B2D" fill-opacity="0.5" stroke="#1c2830" stroke-opacity="0.6" stroke-width="0.95"/>
<circle cx="659.30" cy="432.90" r="4.5" fill="#ED9B2D" fill-opacity="0.5" stroke="#1c2830" stroke-opacity="0.6" stroke-width="0.95"/>
<circle cx="656.90" cy="437.70" r="4.5" fill="#ED9B2D" fill-opacity="0.5" stroke="#1c2830" stroke-opacity="0.6" stroke-width="0.95"/>
<circle cx="663.30" cy="434.50" r="4.5" fill="#ED9B2D" fill-opacity="0.5" stroke="#1c2830" stroke-opacity="0.6" stroke-width="0.95"/>
<circle cx="672.20" cy="436.10" r="4.5" fill="#ED9B2D" fill-opacity="0.5" stroke="#1c2830" stroke-opacity="0.6" stroke-width="0.95"/>
<circle cx="674.60" cy="436.10" r="4.5" fill="#ED9B2D" fill-opacity="0.5" stroke="#1c2830" stroke-opacity="0.6" stroke-width="0.95"/>
<circle cx="687.50" cy="442.50" r="4.5" fill="#ED9B2D" fill-opacity="0.5" stroke="#1c2830" stroke-opacity="0.6" stroke-width="0.95"/>
<circle cx="650.40" cy="444.90" r="4.5" fill="#ED9B2D" fill-opacity="0.5" stroke="#1c2830" stroke-opacity="0.6" stroke-width="0.95"/>
<circle cx="650.40" cy="454.10" r="4.5" fill="#ED9B2D" fill-opacity="0.5" stroke="#1c2830" stroke-opacity="0.6" stroke-width="0.95"/>
<path d="M573.40,373.00 L573.54,373.70 L573.68,374.40 L573.81,375.10 L573.93,375.80 L574.05,376.50 L574.16,377.20 L574.26,377.90 L574.35,378.60 L574.43,379.30 L574.50,380.00 L574.56,380.70 L574.60,381.40 L574.63,382.10 L574.65,382.80 L574.65,383.50 L574.65,384.20 L574.65,384.90 L574.65,385.60 L574.65,386.30 L574.65,387.00 L574.65,387.70 L574.65,388.40 L574.63,389.10 L574.57,389.80 L574.46,390.50 L574.29,391.20 L574.09,391.90 L573.87,392.60 L573.66,393.30 L573.46,394.00 L573.28,394.70 L573.10,395.40 L572.92,396.10 L572.75,396.80 L572.57,397.50 L572.39,398.20 L572.21,398.90 L572.02,399.60 L571.84,400.30 L571.66,401.00 L571.48,401.70 L571.29,402.40 L571.11,403.10 L570.92,403.80 L570.73,404.50 L570.52,405.20 L570.30,405.90 L570.07,406.60 L569.84,407.30 L569.60,408.00 L569.36,408.70 L569.13,409.40 L568.91,410.10 L568.70,410.80 L568.50,411.50 L568.33,412.20 L568.18,412.90 L568.06,413.60 L567.97,414.30 L567.91,415.00 L567.88,415.70 L567.85,416.40 L567.82,417.10 L567.80,417.80 L567.78,418.50 L567.76,419.20 L567.74,419.90 L567.73,420.60 L567.71,421.30 L567.71,422.00 L567.70,422.70 L567.71,423.40 L567.74,424.10 L567.80,424.80 L567.89,425.50 L568.00,426.20 L568.13,426.90 L568.27,427.60 L568.43,428.30 L568.59,429.00 L568.75,429.70 L568.91,430.40 L569.07,431.10 L569.21,431.80 L569.33,432.50 L569.44,433.20 L569.55,433.90 L569.65,434.60 L569.76,435.30 L569.86,436.00 L569.97,436.70 L570.07,437.40 L570.17,438.10 L570.27,438.80 L570.37,439.50 L570.47,440.20 L570.56,440.90 L570.65,441.60 L570.74,442.30 L570.83,443.00 L570.91,443.70 L570.99,444.40 L571.07,445.10 L571.14,445.80 L571.21,446.50 L571.27,447.20 L571.33,447.90 L571.38,448.60 L571.43,449.30 L571.47,450.00 L571.52,450.70 L571.56,451.40 L571.60,452.10 L571.64,452.80 L571.68,453.50 L571.72,454.20 L571.75,454.90 L571.78,455.60 L571.81,456.30 L571.84,457.00 L571.86,457.70 L571.88,458.40 L571.89,459.10 L571.90,459.40 L577.90,459.40 L577.91,459.10 L577.92,458.40 L577.94,457.70 L577.96,457.00 L577.99,456.30 L578.02,455.60 L578.05,454.90 L578.08,454.20 L578.12,453.50 L578.16,452.80 L578.20,452.10 L578.24,451.40 L578.28,450.70 L578.33,450.00 L578.37,449.30 L578.42,448.60 L578.47,447.90 L578.53,447.20 L578.59,446.50 L578.66,445.80 L578.73,445.10 L578.81,444.40 L578.89,443.70 L578.97,443.00 L579.06,442.30 L579.15,441.60 L579.24,440.90 L579.33,440.20 L579.43,439.50 L579.53,438.80 L579.63,438.10 L579.73,437.40 L579.83,436.70 L579.94,436.00 L580.04,435.30 L580.15,434.60 L580.25,433.90 L580.36,433.20 L580.47,432.50 L580.59,431.80 L580.73,431.10 L580.89,430.40 L581.05,429.70 L581.21,429.00 L581.37,428.30 L581.53,427.60 L581.67,426.90 L581.80,426.20 L581.91,425.50 L582.00,424.80 L582.06,424.10 L582.09,423.40 L582.10,422.70 L582.09,422.00 L582.09,421.30 L582.07,420.60 L582.06,419.90 L582.04,419.20 L582.02,418.50 L582.00,417.80 L581.98,417.10 L581.95,416.40 L581.92,415.70 L581.89,415.00 L581.83,414.30 L581.74,413.60 L581.62,412.90 L581.47,412.20 L581.30,411.50 L581.10,410.80 L580.89,410.10 L580.67,409.40 L580.44,408.70 L580.20,408.00 L579.96,407.30 L579.73,406.60 L579.50,405.90 L579.28,405.20 L579.07,404.50 L578.88,403.80 L578.69,403.10 L578.51,402.40 L578.32,401.70 L578.14,401.00 L577.96,400.30 L577.78,399.60 L577.59,398.90 L577.41,398.20 L577.23,397.50 L577.05,396.80 L576.88,396.10 L576.70,395.40 L576.52,394.70 L576.34,394.00 L576.14,393.30 L575.93,392.60 L575.71,391.90 L575.51,391.20 L575.34,390.50 L575.23,389.80 L575.17,389.10 L575.15,388.40 L575.15,387.70 L575.15,387.00 L575.15,386.30 L575.15,385.60 L575.15,384.90 L575.15,384.20 L575.15,383.50 L575.15,382.80 L575.17,382.10 L575.20,381.40 L575.24,380.70 L575.30,380.00 L575.37,379.30 L575.45,378.60 L575.54,377.90 L575.64,377.20 L575.75,376.50 L575.87,375.80 L575.99,375.10 L576.12,374.40 L576.26,373.70 L576.40,373.00 Z" fill="#2D7091" fill-opacity="0.3" stroke="#2a2a2a" stroke-width="1.0" stroke-linejoin="round"/>
<path d="M646.90,431.20 L642.47,431.90 L638.59,432.60 L634.90,433.30 L631.44,434.00 L628.04,434.70 L624.90,435.40 L622.56,436.10 L621.84,436.80 L623.72,437.50 L628.05,438.20 L632.99,438.90 L636.95,439.60 L639.93,440.30 L642.45,441.00 L644.65,441.70 L646.60,442.40 L648.38,443.10 L650.09,443.80 L651.69,444.50 L653.14,445.20 L654.35,445.90 L655.25,446.60 L655.83,447.30 L656.19,448.00 L656.45,448.70 L656.66,449.40 L656.80,450.10 L656.85,450.80 L656.71,451.50 L656.32,452.20 L655.68,452.90 L654.88,453.60 L654.20,454.30 L653.90,454.30 L663.90,454.30 L663.60,454.30 L662.92,453.60 L662.12,452.90 L661.48,452.20 L661.09,451.50 L660.95,450.80 L661.00,450.10 L661.14,449.40 L661.35,448.70 L661.61,448.00 L661.97,447.30 L662.55,446.60 L663.45,445.90 L664.66,445.20 L666.11,444.50 L667.71,443.80 L669.42,443.10 L671.20,442.40 L673.15,441.70 L675.35,441.00 L677.87,440.30 L680.85,439.60 L684.81,438.90 L689.75,438.20 L694.08,437.50 L695.96,436.80 L695.24,436.10 L692.90,435.40 L689.76,434.70 L686.36,434.00 L682.90,433.30 L679.21,432.60 L675.33,431.90 L670.90,431.20 Z" fill="#ED9B2D" fill-opacity="0.3" stroke="#2a2a2a" stroke-width="1.0" stroke-linejoin="round"/>
</g>
<line x1="524.50" y1="368.40" x2="524.50" y2="464.55" stroke="#383838" stroke-width="1.3"/>
<line x1="523.95" y1="464.00" x2="709.30" y2="464.00" stroke="#383838" stroke-width="1.3"/>
<line x1="521.20" y1="369.20" x2="524.50" y2="369.20" stroke="#383838" stroke-width="1.3"/>
<text x="518.10" y="373.50" font-size="12" text-anchor="end" fill="#111" color="#111">0.016</text>
<line x1="521.20" y1="393.40" x2="524.50" y2="393.40" stroke="#383838" stroke-width="1.3"/>
<text x="518.10" y="397.70" font-size="12" text-anchor="end" fill="#111" color="#111">0.012</text>
<line x1="521.20" y1="417.60" x2="524.50" y2="417.60" stroke="#383838" stroke-width="1.3"/>
<text x="518.10" y="421.90" font-size="12" text-anchor="end" fill="#111" color="#111">0.008</text>
<line x1="521.20" y1="441.40" x2="524.50" y2="441.40" stroke="#383838" stroke-width="1.3"/>
<text x="518.10" y="445.70" font-size="12" text-anchor="end" fill="#111" color="#111">0.004</text>
<line x1="574.90" y1="464.00" x2="574.90" y2="467.30" stroke="#383838" stroke-width="1.3"/>
<text x="574.90" y="478.60" font-size="12" text-anchor="middle" fill="#111" color="#111">0</text>
<line x1="658.90" y1="464.00" x2="658.90" y2="467.30" stroke="#383838" stroke-width="1.3"/>
<text x="658.90" y="478.60" font-size="12" text-anchor="middle" fill="#111" color="#111">1</text>
<text x="845.00" y="331.42" font-size="12" text-anchor="middle" fill="#111" color="#111">ILEUSYN PWY: L isoleucine</text>
<text x="845.00" y="344.25" font-size="12" text-anchor="middle" fill="#111" color="#111">biosynthesis I: from</text>
<text x="845.00" y="357.08" font-size="12" text-anchor="middle" fill="#111" color="#111">threonine</text>
<clipPath id="cp3"><rect x="752.60" y="368.40" width="184.80" height="95.60"/></clipPath>
<g clip-path="url(#cp3)">
<circle cx="818.90" cy="373.00" r="4.5" fill="#2D7091" fill-opacity="0.5" stroke="#1c2830" stroke-opacity="0.6" stroke-width="0.95"/>
<circle cx="821.30" cy="408.70" r="4.5" fill="#2D7091" fill-opacity="0.5" stroke="#1c2830" stroke-opacity="0.6" stroke-width="0.95"/>
<circle cx="834.20" cy="419.20" r="4.5" fill="#2D7091" fill-opacity="0.5" stroke="#1c2830" stroke-opacity="0.6" stroke-width="0.95"/>
<circle cx="815.30" cy="424.80" r="4.5" fill="#2D7091" fill-opacity="0.5" stroke="#1c2830" stroke-opacity="0.6" stroke-width="0.95"/>
<circle cx="825.80" cy="429.30" r="4.5" fill="#2D7091" fill-opacity="0.5" stroke="#1c2830" stroke-opacity="0.6" stroke-width="0.95"/>
<circle cx="800.80" cy="433.70" r="4.5" fill="#2D7091" fill-opacity="0.5" stroke="#1c2830" stroke-opacity="0.6" stroke-width="0.95"/>
<circle cx="818.90" cy="438.80" r="4.5" fill="#2D7091" fill-opacity="0.5" stroke="#1c2830" stroke-opacity="0.6" stroke-width="0.95"/>
<circle cx="807.60" cy="442.50" r="4.5" fill="#2D7091" fill-opacity="0.5" stroke="#1c2830" stroke-opacity="0.6" stroke-width="0.95"/>
<circle cx="800.80" cy="444.90" r="4.5" fill="#2D7091" fill-opacity="0.5" stroke="#1c2830" stroke-opacity="0.6" stroke-width="0.95"/>
<circle cx="770.50" cy="439.00" r="4.5" fill="#2D7091" fill-opacity="0.5" stroke="#1c2830" stroke-opacity="0.6" stroke-width="0.95"/>
<circle cx="774.60" cy="441.70" r="4.5" fill="#2D7091" fill-opacity="0.5" stroke="#1c2830" stroke-opacity="0.6" stroke-width="0.95"/>
<circle cx="773.00" cy="447.00" r="4.5" fill="#2D7091" fill-opacity="0.5" stroke="#1c2830" stroke-opacity="0.6" stroke-width="0.95"/>
<circle cx="876.30" cy="429.60" r="4.5" fill="#ED9B2D" fill-opacity="0.5" stroke="#1c2830" stroke-opacity="0.6" stroke-width="0.95"/>
<circle cx="874.10" cy="435.80" r="4.5" fill="#ED9B2D" fill-opacity="0.5" stroke="#1c2830" stroke-opacity="0.6" stroke-width="0.95"/>
<circle cx="916.60" cy="429.30" r="4.5" fill="#ED9B2D" fill-opacity="0.5" stroke="#1c2830" stroke-opacity="0.6" stroke-width="0.95"/>
<circle cx="888.90" cy="441.70" r="4.5" fill="#ED9B2D" fill-opacity="0.5" stroke="#1c2830" stroke-opacity="0.6" stroke-width="0.95"/>
<circle cx="888.90" cy="444.90" r="4.5" fill="#ED9B2D" fill-opacity="0.5" stroke="#1c2830" stroke-opacity="0.6" stroke-width="0.95"/>
<circle cx="880.00" cy="445.70" r="4.5" fill="#ED9B2D" fill-opacity="0.5" stroke="#1c2830" stroke-opacity="0.6" stroke-width="0.95"/>
<circle cx="876.80" cy="449.00" r="4.5" fill="#ED9B2D" fill-opacity="0.5" stroke="#1c2830" stroke-opacity="0.6" stroke-width="0.95"/>
<circle cx="861.50" cy="449.80" r="4.5" fill="#ED9B2D" fill-opacity="0.5" stroke="#1c2830" stroke-opacity="0.6" stroke-width="0.95"/>
<circle cx="898.60" cy="448.20" r="4.5" fill="#ED9B2D" fill-opacity="0.5" stroke="#1c2830" stroke-opacity="0.6" stroke-width="0.95"/>
<circle cx="901.00" cy="452.20" r="4.5" fill="#ED9B2D" fill-opacity="0.5" stroke="#1c2830" stroke-opacity="0.6" stroke-width="0.95"/>
<circle cx="906.60" cy="445.70" r="4.5" fill="#ED9B2D" fill-opacity="0.5" stroke="#1c2830" stroke-opacity="0.6" stroke-width="0.95"/>
<circle cx="912.30" cy="451.40" r="4.5" fill="#ED9B2D" fill-opacity="0.5" stroke="#1c2830" stroke-opacity="0.6" stroke-width="0.95"/>
<circle cx="916.00" cy="459.40" r="4.5" fill="#ED9B2D" fill-opacity="0.5" stroke="#1c2830" stroke-opacity="0.6" stroke-width="0.95"/>
<path d="M800.20,373.00 L800.28,373.70 L800.37,374.40 L800.46,375.10 L800.57,375.80 L800.69,376.50 L800.83,377.20 L800.98,377.90 L801.14,378.60 L801.29,379.30 L801.44,380.00 L801.58,380.70 L801.73,381.40 L801.87,382.10 L802.00,382.80 L802.12,383.50 L802.23,384.20 L802.33,384.90 L802.44,385.60 L802.53,386.30 L802.62,387.00 L802.68,387.70 L802.73,388.40 L802.73,389.10 L802.69,389.80 L802.61,390.50 L802.50,391.20 L802.38,391.90 L802.26,392.60 L802.17,393.30 L802.08,394.00 L802.00,394.70 L801.91,395.40 L801.82,396.10 L801.73,396.80 L801.62,397.50 L801.51,398.20 L801.39,398.90 L801.27,399.60 L801.14,400.30 L801.00,401.00 L800.85,401.70 L800.70,402.40 L800.54,403.10 L800.38,403.80 L800.20,404.50 L800.02,405.20 L799.83,405.90 L799.63,406.60 L799.42,407.30 L799.19,408.00 L798.95,408.70 L798.69,409.40 L798.41,410.10 L798.10,410.80 L797.79,411.50 L797.46,412.20 L797.12,412.90 L796.77,413.60 L796.43,414.30 L796.08,415.00 L795.74,415.70 L795.40,416.40 L795.07,417.10 L794.76,417.80 L794.46,418.50 L794.17,419.20 L793.88,419.90 L793.60,420.60 L793.31,421.30 L793.03,422.00 L792.75,422.70 L792.48,423.40 L792.21,424.10 L791.94,424.80 L791.67,425.50 L791.41,426.20 L791.15,426.90 L790.90,427.60 L790.65,428.30 L790.41,429.00 L790.16,429.70 L789.90,430.40 L789.63,431.10 L789.35,431.80 L789.06,432.50 L788.78,433.20 L788.52,433.90 L788.28,434.60 L788.07,435.30 L787.90,436.00 L787.79,436.70 L787.73,437.40 L787.74,438.10 L787.84,438.80 L788.01,439.50 L788.22,440.20 L788.46,440.90 L788.70,441.60 L788.93,442.30 L789.15,443.00 L789.35,443.70 L789.57,444.40 L789.78,445.10 L789.97,445.80 L790.10,446.10 L815.90,446.10 L816.03,445.80 L816.22,445.10 L816.43,444.40 L816.65,443.70 L816.85,443.00 L817.07,442.30 L817.30,441.60 L817.54,440.90 L817.78,440.20 L817.99,439.50 L818.16,438.80 L818.26,438.10 L818.27,437.40 L818.21,436.70 L818.10,436.00 L817.93,435.30 L817.72,434.60 L817.48,433.90 L817.22,433.20 L816.94,432.50 L816.65,431.80 L816.37,431.10 L816.10,430.40 L815.84,429.70 L815.59,429.00 L815.35,428.30 L815.10,427.60 L814.85,426.90 L814.59,426.20 L814.33,425.50 L814.06,424.80 L813.79,424.10 L813.52,423.40 L813.25,422.70 L812.97,422.00 L812.69,421.30 L812.40,420.60 L812.12,419.90 L811.83,419.20 L811.54,418.50 L811.24,417.80 L810.93,417.10 L810.60,416.40 L810.26,415.70 L809.92,415.00 L809.57,414.30 L809.23,413.60 L808.88,412.90 L808.54,412.20 L808.21,411.50 L807.90,410.80 L807.59,410.10 L807.31,409.40 L807.05,408.70 L806.81,408.00 L806.58,407.30 L806.37,406.60 L806.17,405.90 L805.98,405.20 L805.80,404.50 L805.62,403.80 L805.46,403.10 L805.30,402.40 L805.15,401.70 L805.00,401.00 L804.86,400.30 L804.73,399.60 L804.61,398.90 L804.49,398.20 L804.38,397.50 L804.27,396.80 L804.18,396.10 L804.09,395.40 L804.00,394.70 L803.92,394.00 L803.83,393.30 L803.74,392.60 L803.62,391.90 L803.50,391.20 L803.39,390.50 L803.31,389.80 L803.27,389.10 L803.27,388.40 L803.32,387.70 L803.38,387.00 L803.47,386.30 L803.56,385.60 L803.67,384.90 L803.77,384.20 L803.88,383.50 L804.00,382.80 L804.13,382.10 L804.27,381.40 L804.42,380.70 L804.56,380.00 L804.71,379.30 L804.86,378.60 L805.02,377.90 L805.17,377.20 L805.31,376.50 L805.43,375.80 L805.54,375.10 L805.63,374.40 L805.72,373.70 L805.80,373.00 Z" fill="#2D7091" fill-opacity="0.3" stroke="#2a2a2a" stroke-width="1.0" stroke-linejoin="round"/>
<path d="M875.30,429.30 L876.05,430.00 L876.75,430.70 L877.47,431.40 L878.19,432.10 L878.92,432.80 L879.72,433.50 L880.59,434.20 L881.47,434.90 L882.22,435.60 L882.70,436.30 L882.73,437.00 L882.04,437.70 L880.59,438.40 L878.57,439.10 L876.24,439.80 L873.84,440.50 L871.42,441.20 L868.84,441.90 L866.09,442.60 L863.35,443.30 L860.77,444.00 L858.28,444.70 L855.76,445.40 L853.33,446.10 L851.27,446.80 L849.87,447.50 L849.50,448.20 L850.52,448.90 L852.88,449.60 L856.01,450.30 L859.20,451.00 L862.11,451.70 L864.86,452.40 L867.60,453.10 L870.22,453.80 L872.53,454.50 L874.42,455.20 L875.94,455.90 L877.25,456.60 L878.41,457.30 L879.37,458.00 L880.08,458.70 L880.60,459.40 L893.40,459.40 L893.92,458.70 L894.63,458.00 L895.59,457.30 L896.75,456.60 L898.06,455.90 L899.58,455.20 L901.47,454.50 L903.78,453.80 L906.40,453.10 L909.14,452.40 L911.89,451.70 L914.80,451.00 L917.99,450.30 L921.12,449.60 L923.48,448.90 L924.50,448.20 L924.13,447.50 L922.73,446.80 L920.67,446.10 L918.24,445.40 L915.72,444.70 L913.23,444.00 L910.65,443.30 L907.91,442.60 L905.16,441.90 L902.58,441.20 L900.16,440.50 L897.76,439.80 L895.43,439.10 L893.41,438.40 L891.96,437.70 L891.27,437.00 L891.30,436.30 L891.78,435.60 L892.53,434.90 L893.41,434.20 L894.28,433.50 L895.08,432.80 L895.81,432.10 L896.53,431.40 L897.25,430.70 L897.95,430.00 L898.70,429.30 Z" fill="#ED9B2D" fill-opacity="0.3" stroke="#2a2a2a" stroke-width="1.0" stroke-linejoin="round"/>
</g>
<line x1="752.60" y1="368.40" x2="752.60" y2="464.55" stroke="#383838" stroke-width="1.3"/>
<line x1="752.05" y1="464.00" x2="937.40" y2="464.00" stroke="#383838" stroke-width="1.3"/>
<line x1="749.30" y1="373.30" x2="752.60" y2="373.30" stroke="#383838" stroke-width="1.3"/>
<text x="746.20" y="377.60" font-size="12" text-anchor="end" fill="#111" color="#111">0.025</text>
<line x1="749.30" y1="395.50" x2="752.60" y2="395.50" stroke="#383838" stroke-width="1.3"/>
<text x="746.20" y="399.80" font-size="12" text-anchor="end" fill="#111" color="#111">0.020</text>
<line x1="749.30" y1="418.40" x2="752.60" y2="418.40" stroke="#383838" stroke-width="1.3"/>
<text x="746.20" y="422.70" font-size="12" text-anchor="end" fill="#111" color="#111">0.015</text>
<line x1="749.30" y1="440.60" x2="752.60" y2="440.60" stroke="#383838" stroke-width="1.3"/>
<text x="746.20" y="444.90" font-size="12" text-anchor="end" fill="#111" color="#111">0.010</text>
<line x1="749.30" y1="463.00" x2="752.60" y2="463.00" stroke="#383838" stroke-width="1.3"/>
<text x="746.20" y="467.30" font-size="12" text-anchor="end" fill="#111" color="#111">0.005</text>
<line x1="803.00" y1="464.00" x2="803.00" y2="467.30" stroke="#383838" stroke-width="1.3"/>
<text x="803.00" y="478.60" font-size="12" text-anchor="middle" fill="#111" color="#111">0</text>
<line x1="887.00" y1="464.00" x2="887.00" y2="467.30" stroke="#383838" stroke-width="1.3"/>
<text x="887.00" y="478.60" font-size="12" text-anchor="middle" fill="#111" color="#111">1</text>
<text x="1073.40" y="331.42" font-size="12" text-anchor="middle" fill="#111" color="#111">OANTIGEN PWY: O</text>
<text x="1073.40" y="344.25" font-size="12" text-anchor="middle" fill="#111" color="#111">antigen building blocks</text>
<text x="1073.40" y="357.08" font-size="12" text-anchor="middle" fill="#111" color="#111">biosynthesis: E: coli</text>
<clipPath id="cp4"><rect x="981.00" y="368.40" width="184.80" height="95.60"/></clipPath>
<g clip-path="url(#cp4)">
<circle cx="1014.20" cy="386.60" r="4.5" fill="#2D7091" fill-opacity="0.5" stroke="#1c2830" stroke-opacity="0.6" stroke-width="0.95"/>
<circle cx="1056.20" cy="382.60" r="4.5" fill="#2D7091" fill-opacity="0.5" stroke="#1c2830" stroke-opacity="0.6" stroke-width="0.95"/>
<circle cx="1027.90" cy="388.10" r="4.5" fill="#2D7091" fill-opacity="0.5" stroke="#1c2830" stroke-opacity="0.6" stroke-width="0.95"/>
<circle cx="1039.10" cy="396.10" r="4.5" fill="#2D7091" fill-opacity="0.5" stroke="#1c2830" stroke-opacity="0.6" stroke-width="0.95"/>
<circle cx="1030.40" cy="399.80" r="4.5" fill="#2D7091" fill-opacity="0.5" stroke="#1c2830" stroke-opacity="0.6" stroke-width="0.95"/>
<circle cx="1044.40" cy="400.30" r="4.5" fill="#2D7091" fill-opacity="0.5" stroke="#1c2830" stroke-opacity="0.6" stroke-width="0.95"/>
<circle cx="1050.90" cy="401.00" r="4.5" fill="#2D7091" fill-opacity="0.5" stroke="#1c2830" stroke-opacity="0.6" stroke-width="0.95"/>
<circle cx="1022.20" cy="409.50" r="4.5" fill="#2D7091" fill-opacity="0.5" stroke="#1c2830" stroke-opacity="0.6" stroke-width="0.95"/>
<circle cx="1026.20" cy="430.40" r="4.5" fill="#2D7091" fill-opacity="0.5" stroke="#1c2830" stroke-opacity="0.6" stroke-width="0.95"/>
<circle cx="1050.90" cy="430.90" r="4.5" fill="#2D7091" fill-opacity="0.5" stroke="#1c2830" stroke-opacity="0.6" stroke-width="0.95"/>
<circle cx="1024.80" cy="459.40" r="4.5" fill="#2D7091" fill-opacity="0.5" stroke="#1c2830" stroke-opacity="0.6" stroke-width="0.95"/>
<circle cx="1038.80" cy="459.40" r="4.5" fill="#2D7091" fill-opacity="0.5" stroke="#1c2830" stroke-opacity="0.6" stroke-width="0.95"/>
<circle cx="1114.00" cy="373.00" r="4.5" fill="#ED9B2D" fill-opacity="0.5" stroke="#1c2830" stroke-opacity="0.6" stroke-width="0.95"/>
<circle cx="1129.00" cy="375.20" r="4.5" fill="#ED9B2D" fill-opacity="0.5" stroke="#1c2830" stroke-opacity="0.6" stroke-width="0.95"/>
<circle cx="1136.20" cy="379.70" r="4.5" fill="#ED9B2D" fill-opacity="0.5" stroke="#1c2830" stroke-opacity="0.6" stroke-width="0.95"/>
<circle cx="1085.50" cy="386.20" r="4.5" fill="#ED9B2D" fill-opacity="0.5" stroke="#1c2830" stroke-opacity="0.6" stroke-width="0.95"/>
<circle cx="1091.90" cy="388.60" r="4.5" fill="#ED9B2D" fill-opacity="0.5" stroke="#1c2830" stroke-opacity="0.6" stroke-width="0.95"/>
<circle cx="1095.20" cy="393.40" r="4.5" fill="#ED9B2D" fill-opacity="0.5" stroke="#1c2830" stroke-opacity="0.6" stroke-width="0.95"/>
<circle cx="1117.70" cy="387.40" r="4.5" fill="#ED9B2D" fill-opacity="0.5" stroke="#1c2830" stroke-opacity="0.6" stroke-width="0.95"/>
<circle cx="1125.80" cy="386.50" r="4.5" fill="#ED9B2D" fill-opacity="0.5" stroke="#1c2830" stroke-opacity="0.6" stroke-width="0.95"/>
<circle cx="1123.30" cy="391.00" r="4.5" fill="#ED9B2D" fill-opacity="0.5" stroke="#1c2830" stroke-opacity="0.6" stroke-width="0.95"/>
<circle cx="1129.00" cy="392.60" r="4.5" fill="#ED9B2D" fill-opacity="0.5" stroke="#1c2830" stroke-opacity="0.6" stroke-width="0.95"/>
<circle cx="1141.10" cy="393.40" r="4.5" fill="#ED9B2D" fill-opacity="0.5" stroke="#1c2830" stroke-opacity="0.6" stroke-width="0.95"/>
<circle cx="1140.30" cy="403.90" r="4.5" fill="#ED9B2D" fill-opacity="0.5" stroke="#1c2830" stroke-opacity="0.6" stroke-width="0.95"/>
<path d="M1024.30,382.60 L1023.89,383.30 L1023.52,384.00 L1023.16,384.70 L1022.84,385.40 L1022.56,386.10 L1022.33,386.80 L1022.17,387.50 L1022.05,388.20 L1021.96,388.90 L1021.88,389.60 L1021.81,390.30 L1021.75,391.00 L1021.69,391.70 L1021.65,392.40 L1021.62,393.10 L1021.61,393.80 L1021.61,394.50 L1021.62,395.20 L1021.65,395.90 L1021.68,396.60 L1021.73,397.30 L1021.79,398.00 L1021.86,398.70 L1021.93,399.40 L1022.01,400.10 L1022.10,400.80 L1022.19,401.50 L1022.28,402.20 L1022.37,402.90 L1022.46,403.60 L1022.56,404.30 L1022.67,405.00 L1022.80,405.70 L1022.95,406.40 L1023.11,407.10 L1023.27,407.80 L1023.45,408.50 L1023.63,409.20 L1023.81,409.90 L1023.99,410.60 L1024.17,411.30 L1024.35,412.00 L1024.51,412.70 L1024.67,413.40 L1024.82,414.10 L1024.95,414.80 L1025.06,415.50 L1025.17,416.20 L1025.28,416.90 L1025.39,417.60 L1025.49,418.30 L1025.59,419.00 L1025.69,419.70 L1025.79,420.40 L1025.88,421.10 L1025.97,421.80 L1026.06,422.50 L1026.15,423.20 L1026.23,423.90 L1026.31,424.60 L1026.39,425.30 L1026.46,426.00 L1026.53,426.70 L1026.60,427.40 L1026.67,428.10 L1026.73,428.80 L1026.79,429.50 L1026.85,430.20 L1026.91,430.90 L1026.96,431.60 L1027.02,432.30 L1027.07,433.00 L1027.12,433.70 L1027.17,434.40 L1027.22,435.10 L1027.27,435.80 L1027.31,436.50 L1027.36,437.20 L1027.40,437.90 L1027.45,438.60 L1027.49,439.30 L1027.53,440.00 L1027.57,440.70 L1027.60,441.40 L1027.64,442.10 L1027.67,442.80 L1027.71,443.50 L1027.74,444.20 L1027.77,444.90 L1027.80,445.60 L1027.82,446.30 L1027.85,447.00 L1027.88,447.70 L1027.90,448.40 L1027.93,449.10 L1027.95,449.80 L1027.98,450.50 L1028.00,451.20 L1028.02,451.90 L1028.04,452.60 L1028.07,453.30 L1028.09,454.00 L1028.10,454.70 L1028.12,455.40 L1028.14,456.10 L1028.15,456.80 L1028.17,457.50 L1028.18,458.20 L1028.19,458.90 L1028.20,459.40 L1034.60,459.40 L1034.61,458.90 L1034.62,458.20 L1034.63,457.50 L1034.65,456.80 L1034.66,456.10 L1034.68,455.40 L1034.70,454.70 L1034.71,454.00 L1034.73,453.30 L1034.76,452.60 L1034.78,451.90 L1034.80,451.20 L1034.82,450.50 L1034.85,449.80 L1034.87,449.10 L1034.90,448.40 L1034.92,447.70 L1034.95,447.00 L1034.98,446.30 L1035.00,445.60 L1035.03,444.90 L1035.06,444.20 L1035.09,443.50 L1035.13,442.80 L1035.16,442.10 L1035.20,441.40 L1035.23,440.70 L1035.27,440.00 L1035.31,439.30 L1035.35,438.60 L1035.40,437.90 L1035.44,437.20 L1035.49,436.50 L1035.53,435.80 L1035.58,435.10 L1035.63,434.40 L1035.68,433.70 L1035.73,433.00 L1035.78,432.30 L1035.84,431.60 L1035.89,430.90 L1035.95,430.20 L1036.01,429.50 L1036.07,428.80 L1036.13,428.10 L1036.20,427.40 L1036.27,426.70 L1036.34,426.00 L1036.41,425.30 L1036.49,424.60 L1036.57,423.90 L1036.65,423.20 L1036.74,422.50 L1036.83,421.80 L1036.92,421.10 L1037.01,420.40 L1037.11,419.70 L1037.21,419.00 L1037.31,418.30 L1037.41,417.60 L1037.52,416.90 L1037.63,416.20 L1037.74,415.50 L1037.85,414.80 L1037.98,414.10 L1038.13,413.40 L1038.29,412.70 L1038.45,412.00 L1038.63,411.30 L1038.81,410.60 L1038.99,409.90 L1039.17,409.20 L1039.35,408.50 L1039.53,407.80 L1039.69,407.10 L1039.85,406.40 L1040.00,405.70 L1040.13,405.00 L1040.24,404.30 L1040.34,403.60 L1040.43,402.90 L1040.52,402.20 L1040.61,401.50 L1040.70,400.80 L1040.79,400.10 L1040.87,399.40 L1040.94,398.70 L1041.01,398.00 L1041.07,397.30 L1041.12,396.60 L1041.15,395.90 L1041.18,395.20 L1041.19,394.50 L1041.19,393.80 L1041.18,393.10 L1041.15,392.40 L1041.11,391.70 L1041.05,391.00 L1040.99,390.30 L1040.92,389.60 L1040.84,388.90 L1040.75,388.20 L1040.63,387.50 L1040.47,386.80 L1040.24,386.10 L1039.96,385.40 L1039.64,384.70 L1039.28,384.00 L1038.91,383.30 L1038.50,382.60 Z" fill="#2D7091" fill-opacity="0.3" stroke="#2a2a2a" stroke-width="1.0" stroke-linejoin="round"/>
<path d="M1104.40,373.00 L1104.57,373.70 L1104.70,374.40 L1104.79,375.10 L1104.85,375.80 L1104.88,376.50 L1104.89,377.20 L1104.79,377.90 L1104.22,378.60 L1102.83,379.30 L1100.67,380.00 L1098.08,380.70 L1095.43,381.40 L1092.94,382.10 L1090.56,382.80 L1088.12,383.50 L1085.69,384.20 L1083.41,384.90 L1081.46,385.60 L1079.89,386.30 L1078.64,387.00 L1077.83,387.70 L1077.74,388.40 L1078.41,389.10 L1079.69,389.80 L1081.35,390.50 L1083.20,391.20 L1085.14,391.90 L1087.27,392.60 L1089.70,393.30 L1092.36,394.00 L1095.11,394.70 L1097.89,395.40 L1100.78,396.10 L1103.96,396.80 L1107.13,397.50 L1109.64,398.20 L1110.98,398.90 L1111.34,399.60 L1111.33,400.30 L1111.21,401.00 L1110.97,401.70 L1110.58,402.40 L1110.01,403.10 L1109.32,403.80 L1108.70,404.20 L1122.10,404.20 L1121.48,403.80 L1120.79,403.10 L1120.22,402.40 L1119.83,401.70 L1119.59,401.00 L1119.47,400.30 L1119.46,399.60 L1119.82,398.90 L1121.16,398.20 L1123.67,397.50 L1126.84,396.80 L1130.02,396.10 L1132.91,395.40 L1135.69,394.70 L1138.44,394.00 L1141.10,393.30 L1143.53,392.60 L1145.66,391.90 L1147.60,391.20 L1149.45,390.50 L1151.11,389.80 L1152.39,389.10 L1153.06,388.40 L1152.97,387.70 L1152.16,387.00 L1150.91,386.30 L1149.34,385.60 L1147.39,384.90 L1145.11,384.20 L1142.68,383.50 L1140.24,382.80 L1137.86,382.10 L1135.37,381.40 L1132.72,380.70 L1130.13,380.00 L1127.97,379.30 L1126.58,378.60 L1126.01,377.90 L1125.91,377.20 L1125.92,376.50 L1125.95,375.80 L1126.01,375.10 L1126.10,374.40 L1126.23,373.70 L1126.40,373.00 Z" fill="#ED9B2D" fill-opacity="0.3" stroke="#2a2a2a" stroke-width="1.0" stroke-linejoin="round"/>
</g>
<line x1="981.00" y1="368.40" x2="981.00" y2="464.55" stroke="#383838" stroke-width="1.3"/>
<line x1="980.45" y1="464.00" x2="1165.80" y2="464.00" stroke="#383838" stroke-width="1.3"/>
<line x1="977.70" y1="376.20" x2="981.00" y2="376.20" stroke="#383838" stroke-width="1.3"/>
<text x="974.60" y="380.50" font-size="12" text-anchor="end" fill="#111" color="#111">0.008</text>
<line x1="977.70" y1="397.10" x2="981.00" y2="397.10" stroke="#383838" stroke-width="1.3"/>
<text x="974.60" y="401.40" font-size="12" text-anchor="end" fill="#111" color="#111">0.006</text>
<line x1="977.70" y1="417.90" x2="981.00" y2="417.90" stroke="#383838" stroke-width="1.3"/>
<text x="974.60" y="422.20" font-size="12" text-anchor="end" fill="#111" color="#111">0.004</text>
<line x1="977.70" y1="438.80" x2="981.00" y2="438.80" stroke="#383838" stroke-width="1.3"/>
<text x="974.60" y="443.10" font-size="12" text-anchor="end" fill="#111" color="#111">0.002</text>
<line x1="977.70" y1="459.40" x2="981.00" y2="459.40" stroke="#383838" stroke-width="1.3"/>
<text x="974.60" y="463.70" font-size="12" text-anchor="end" fill="#111" color="#111">0.000</text>
<line x1="1031.40" y1="464.00" x2="1031.40" y2="467.30" stroke="#383838" stroke-width="1.3"/>
<text x="1031.40" y="478.60" font-size="12" text-anchor="middle" fill="#111" color="#111">0</text>
<line x1="1115.40" y1="464.00" x2="1115.40" y2="467.30" stroke="#383838" stroke-width="1.3"/>
<text x="1115.40" y="478.60" font-size="12" text-anchor="middle" fill="#111" color="#111">1</text>
<text x="153.20" y="508.47" font-size="12" text-anchor="middle" fill="#111" color="#111">P164 PWY: purine</text>
<text x="153.20" y="521.30" font-size="12" text-anchor="middle" fill="#111" color="#111">nucleobases degradation</text>
<text x="153.20" y="534.13" font-size="12" text-anchor="middle" fill="#111" color="#111">I: anaerobic</text>
<clipPath id="cp5"><rect x="60.80" y="545.45" width="184.80" height="95.60"/></clipPath>
<g clip-path="url(#cp5)">
<circle cx="131.70" cy="550.00" r="4.5" fill="#2D7091" fill-opacity="0.5" stroke="#1c2830" stroke-opacity="0.6" stroke-width="0.95"/>
<circle cx="105.60" cy="568.80" r="4.5" fill="#2D7091" fill-opacity="0.5" stroke="#1c2830" stroke-opacity="0.6" stroke-width="0.95"/>
<circle cx="105.60" cy="593.80" r="4.5" fill="#2D7091" fill-opacity="0.5" stroke="#1c2830" stroke-opacity="0.6" stroke-width="0.95"/>
<circle cx="128.50" cy="630.00" r="4.5" fill="#2D7091" fill-opacity="0.5" stroke="#1c2830" stroke-opacity="0.6" stroke-width="0.95"/>
<circle cx="93.40" cy="636.40" r="4.5" fill="#2D7091" fill-opacity="0.5" stroke="#1c2830" stroke-opacity="0.6" stroke-width="0.95"/>
<circle cx="96.30" cy="636.40" r="4.5" fill="#2D7091" fill-opacity="0.5" stroke="#1c2830" stroke-opacity="0.6" stroke-width="0.95"/>
<circle cx="106.70" cy="636.40" r="4.5" fill="#2D7091" fill-opacity="0.5" stroke="#1c2830" stroke-opacity="0.6" stroke-width="0.95"/>
<circle cx="110.80" cy="636.40" r="4.5" fill="#2D7091" fill-opacity="0.5" stroke="#1c2830" stroke-opacity="0.6" stroke-width="0.95"/>
<circle cx="113.20" cy="636.40" r="4.5" fill="#2D7091" fill-opacity="0.5" stroke="#1c2830" stroke-opacity="0.6" stroke-width="0.95"/>
<circle cx="118.80" cy="636.40" r="4.5" fill="#2D7091" fill-opacity="0.5" stroke="#1c2830" stroke-opacity="0.6" stroke-width="0.95"/>
<circle cx="133.30" cy="636.40" r="4.5" fill="#2D7091" fill-opacity="0.5" stroke="#1c2830" stroke-opacity="0.6" stroke-width="0.95"/>
<circle cx="179.50" cy="559.60" r="4.5" fill="#ED9B2D" fill-opacity="0.5" stroke="#1c2830" stroke-opacity="0.6" stroke-width="0.95"/>
<circle cx="166.30" cy="570.40" r="4.5" fill="#ED9B2D" fill-opacity="0.5" stroke="#1c2830" stroke-opacity="0.6" stroke-width="0.95"/>
<circle cx="194.50" cy="578.10" r="4.5" fill="#ED9B2D" fill-opacity="0.5" stroke="#1c2830" stroke-opacity="0.6" stroke-width="0.95"/>
<circle cx="207.40" cy="583.80" r="4.5" fill="#ED9B2D" fill-opacity="0.5" stroke="#1c2830" stroke-opacity="0.6" stroke-width="0.95"/>
<circle cx="226.40" cy="581.40" r="4.5" fill="#ED9B2D" fill-opacity="0.5" stroke="#1c2830" stroke-opacity="0.6" stroke-width="0.95"/>
<circle cx="175.20" cy="589.20" r="4.5" fill="#ED9B2D" fill-opacity="0.5" stroke="#1c2830" stroke-opacity="0.6" stroke-width="0.95"/>
<circle cx="219.10" cy="607.00" r="4.5" fill="#ED9B2D" fill-opacity="0.5" stroke="#1c2830" stroke-opacity="0.6" stroke-width="0.95"/>
<circle cx="165.00" cy="619.20" r="4.5" fill="#ED9B2D" fill-opacity="0.5" stroke="#1c2830" stroke-opacity="0.6" stroke-width="0.95"/>
<circle cx="176.50" cy="617.90" r="4.5" fill="#ED9B2D" fill-opacity="0.5" stroke="#1c2830" stroke-opacity="0.6" stroke-width="0.95"/>
<circle cx="196.90" cy="623.50" r="4.5" fill="#ED9B2D" fill-opacity="0.5" stroke="#1c2830" stroke-opacity="0.6" stroke-width="0.95"/>
<circle cx="205.80" cy="621.40" r="4.5" fill="#ED9B2D" fill-opacity="0.5" stroke="#1c2830" stroke-opacity="0.6" stroke-width="0.95"/>
<circle cx="212.20" cy="621.60" r="4.5" fill="#ED9B2D" fill-opacity="0.5" stroke="#1c2830" stroke-opacity="0.6" stroke-width="0.95"/>
<circle cx="166.30" cy="636.40" r="4.5" fill="#ED9B2D" fill-opacity="0.5" stroke="#1c2830" stroke-opacity="0.6" stroke-width="0.95"/>
<circle cx="210.90" cy="636.40" r="4.5" fill="#ED9B2D" fill-opacity="0.5" stroke="#1c2830" stroke-opacity="0.6" stroke-width="0.95"/>
<path d="M106.90,550.00 L107.00,550.70 L107.10,551.40 L107.20,552.10 L107.31,552.80 L107.42,553.50 L107.54,554.20 L107.67,554.90 L107.81,555.60 L107.98,556.30 L108.17,557.00 L108.35,557.70 L108.51,558.40 L108.62,559.10 L108.68,559.80 L108.66,560.50 L108.58,561.20 L108.46,561.90 L108.30,562.60 L108.11,563.30 L107.90,564.00 L107.70,564.70 L107.49,565.40 L107.30,566.10 L107.14,566.80 L107.02,567.50 L106.94,568.20 L106.92,568.90 L106.95,569.60 L107.03,570.30 L107.16,571.00 L107.31,571.70 L107.50,572.40 L107.71,573.10 L107.94,573.80 L108.18,574.50 L108.42,575.20 L108.66,575.90 L108.89,576.60 L109.10,577.30 L109.29,578.00 L109.44,578.70 L109.57,579.40 L109.65,580.10 L109.68,580.80 L109.67,581.50 L109.61,582.20 L109.51,582.90 L109.37,583.60 L109.21,584.30 L109.03,585.00 L108.82,585.70 L108.60,586.40 L108.38,587.10 L108.15,587.80 L107.93,588.50 L107.72,589.20 L107.52,589.90 L107.34,590.60 L107.18,591.30 L107.06,592.00 L106.97,592.70 L106.92,593.40 L106.93,594.10 L107.00,594.80 L107.14,595.50 L107.33,596.20 L107.57,596.90 L107.84,597.60 L108.15,598.30 L108.46,599.00 L108.79,599.70 L109.11,600.40 L109.41,601.10 L109.69,601.80 L109.94,602.50 L110.14,603.20 L110.28,603.90 L110.37,604.60 L110.40,605.30 L110.40,606.00 L110.40,606.70 L110.40,607.40 L110.40,608.10 L110.40,608.80 L110.40,609.50 L110.40,610.20 L110.40,610.90 L110.40,611.60 L110.40,612.30 L110.40,613.00 L110.40,613.70 L110.38,614.40 L110.28,615.10 L109.99,615.80 L109.50,616.50 L108.85,617.20 L108.09,617.90 L107.27,618.60 L106.43,619.30 L105.55,620.00 L104.57,620.70 L103.47,621.40 L102.29,622.10 L101.03,622.80 L99.72,623.50 L98.38,624.20 L96.99,624.90 L95.52,625.60 L93.99,626.30 L92.39,627.00 L90.76,627.70 L89.10,628.40 L87.42,629.10 L85.68,629.80 L83.86,630.50 L82.01,631.20 L80.21,631.90 L78.54,632.60 L76.99,633.30 L75.51,634.00 L74.24,634.70 L73.48,635.40 L73.23,636.10 L73.20,636.40 L149.20,636.40 L149.17,636.10 L148.92,635.40 L148.16,634.70 L146.89,634.00 L145.41,633.30 L143.86,632.60 L142.19,631.90 L140.39,631.20 L138.54,630.50 L136.72,629.80 L134.98,629.10 L133.30,628.40 L131.64,627.70 L130.01,627.00 L128.41,626.30 L126.88,625.60 L125.41,624.90 L124.02,624.20 L122.68,623.50 L121.37,622.80 L120.11,622.10 L118.93,621.40 L117.83,620.70 L116.85,620.00 L115.97,619.30 L115.13,618.60 L114.31,617.90 L113.55,617.20 L112.90,616.50 L112.41,615.80 L112.12,615.10 L112.02,614.40 L112.00,613.70 L112.00,613.00 L112.00,612.30 L112.00,611.60 L112.00,610.90 L112.00,610.20 L112.00,609.50 L112.00,608.80 L112.00,608.10 L112.00,607.40 L112.00,606.70 L112.00,606.00 L112.00,605.30 L112.03,604.60 L112.12,603.90 L112.26,603.20 L112.46,602.50 L112.71,601.80 L112.99,601.10 L113.29,600.40 L113.61,599.70 L113.94,599.00 L114.25,598.30 L114.56,597.60 L114.83,596.90 L115.07,596.20 L115.26,595.50 L115.40,594.80 L115.47,594.10 L115.48,593.40 L115.43,592.70 L115.34,592.00 L115.22,591.30 L115.06,590.60 L114.88,589.90 L114.68,589.20 L114.47,588.50 L114.25,587.80 L114.02,587.10 L113.80,586.40 L113.58,585.70 L113.37,585.00 L113.19,584.30 L113.03,583.60 L112.89,582.90 L112.79,582.20 L112.73,581.50 L112.72,580.80 L112.75,580.10 L112.83,579.40 L112.96,578.70 L113.11,578.00 L113.30,577.30 L113.51,576.60 L113.74,575.90 L113.98,575.20 L114.22,574.50 L114.46,573.80 L114.69,573.10 L114.90,572.40 L115.09,571.70 L115.24,571.00 L115.37,570.30 L115.45,569.60 L115.48,568.90 L115.46,568.20 L115.38,567.50 L115.26,566.80 L115.10,566.10 L114.91,565.40 L114.70,564.70 L114.50,564.00 L114.29,563.30 L114.10,562.60 L113.94,561.90 L113.82,561.20 L113.74,560.50 L113.72,559.80 L113.78,559.10 L113.89,558.40 L114.05,557.70 L114.23,557.00 L114.42,556.30 L114.59,555.60 L114.73,554.90 L114.86,554.20 L114.98,553.50 L115.09,552.80 L115.20,552.10 L115.30,551.40 L115.40,550.70 L115.50,550.00 Z" fill="#2D7091" fill-opacity="0.3" stroke="#2a2a2a" stroke-width="1.0" stroke-linejoin="round"/>
<path d="M190.60,559.60 L190.31,560.30 L190.05,561.00 L189.78,561.70 L189.54,562.40 L189.30,563.10 L189.08,563.80 L188.88,564.50 L188.70,565.20 L188.52,565.90 L188.36,566.60 L188.19,567.30 L188.04,568.00 L187.90,568.70 L187.77,569.40 L187.66,570.10 L187.56,570.80 L187.46,571.50 L187.38,572.20 L187.30,572.90 L187.21,573.60 L187.13,574.30 L187.06,575.00 L186.99,575.70 L186.92,576.40 L186.87,577.10 L186.81,577.80 L186.77,578.50 L186.74,579.20 L186.72,579.90 L186.70,580.60 L186.70,581.30 L186.70,582.00 L186.70,582.70 L186.70,583.40 L186.70,584.10 L186.70,584.80 L186.70,585.50 L186.70,586.20 L186.70,586.90 L186.70,587.60 L186.70,588.30 L186.70,589.00 L186.70,589.70 L186.70,590.40 L186.69,591.10 L186.67,591.80 L186.63,592.50 L186.58,593.20 L186.52,593.90 L186.45,594.60 L186.37,595.30 L186.28,596.00 L186.18,596.70 L186.08,597.40 L185.98,598.10 L185.87,598.80 L185.76,599.50 L185.66,600.20 L185.55,600.90 L185.45,601.60 L185.35,602.30 L185.25,603.00 L185.16,603.70 L185.06,604.40 L184.95,605.10 L184.84,605.80 L184.72,606.50 L184.60,607.20 L184.47,607.90 L184.35,608.60 L184.23,609.30 L184.12,610.00 L184.02,610.70 L183.93,611.40 L183.85,612.10 L183.79,612.80 L183.74,613.50 L183.71,614.20 L183.70,614.90 L183.71,615.60 L183.73,616.30 L183.75,617.00 L183.79,617.70 L183.83,618.40 L183.88,619.10 L183.94,619.80 L184.01,620.50 L184.08,621.20 L184.16,621.90 L184.24,622.60 L184.33,623.30 L184.42,624.00 L184.51,624.70 L184.61,625.40 L184.72,626.10 L184.86,626.80 L185.03,627.50 L185.24,628.20 L185.47,628.90 L185.74,629.60 L186.02,630.30 L186.32,631.00 L186.64,631.70 L186.96,632.40 L187.28,633.10 L187.61,633.80 L187.95,634.50 L188.32,635.20 L188.68,635.90 L189.00,636.40 L201.40,636.40 L201.72,635.90 L202.08,635.20 L202.45,634.50 L202.79,633.80 L203.12,633.10 L203.44,632.40 L203.76,631.70 L204.08,631.00 L204.38,630.30 L204.66,629.60 L204.93,628.90 L205.16,628.20 L205.37,627.50 L205.54,626.80 L205.68,626.10 L205.79,625.40 L205.89,624.70 L205.98,624.00 L206.07,623.30 L206.16,622.60 L206.24,621.90 L206.32,621.20 L206.39,620.50 L206.46,619.80 L206.52,619.10 L206.57,618.40 L206.61,617.70 L206.65,617.00 L206.67,616.30 L206.69,615.60 L206.70,614.90 L206.69,614.20 L206.66,613.50 L206.61,612.80 L206.55,612.10 L206.47,611.40 L206.38,610.70 L206.28,610.00 L206.17,609.30 L206.05,608.60 L205.93,607.90 L205.80,607.20 L205.68,606.50 L205.56,605.80 L205.45,605.10 L205.34,604.40 L205.24,603.70 L205.15,603.00 L205.05,602.30 L204.95,601.60 L204.85,600.90 L204.74,600.20 L204.64,599.50 L204.53,598.80 L204.42,598.10 L204.32,597.40 L204.22,596.70 L204.12,596.00 L204.03,595.30 L203.95,594.60 L203.88,593.90 L203.82,593.20 L203.77,592.50 L203.73,591.80 L203.71,591.10 L203.70,590.40 L203.70,589.70 L203.70,589.00 L203.70,588.30 L203.70,587.60 L203.70,586.90 L203.70,586.20 L203.70,585.50 L203.70,584.80 L203.70,584.10 L203.70,583.40 L203.70,582.70 L203.70,582.00 L203.70,581.30 L203.70,580.60 L203.68,579.90 L203.66,579.20 L203.63,578.50 L203.59,577.80 L203.53,577.10 L203.48,576.40 L203.41,575.70 L203.34,575.00 L203.27,574.30 L203.19,573.60 L203.10,572.90 L203.02,572.20 L202.94,571.50 L202.84,570.80 L202.74,570.10 L202.63,569.40 L202.50,568.70 L202.36,568.00 L202.21,567.30 L202.04,566.60 L201.88,565.90 L201.70,565.20 L201.52,564.50 L201.32,563.80 L201.10,563.10 L200.86,562.40 L200.62,561.70 L200.35,561.00 L200.09,560.30 L199.80,559.60 Z" fill="#ED9B2D" fill-opacity="0.3" stroke="#2a2a2a" stroke-width="1.0" stroke-linejoin="round"/>
</g>
<line x1="60.80" y1="545.45" x2="60.80" y2="641.60" stroke="#383838" stroke-width="1.3"/>
<line x1="60.25" y1="641.05" x2="245.60" y2="641.05" stroke="#383838" stroke-width="1.3"/>
<line x1="57.50" y1="567.70" x2="60.80" y2="567.70" stroke="#383838" stroke-width="1.3"/>
<text x="54.40" y="572.00" font-size="12" text-anchor="end" fill="#111" color="#111">0.003</text>
<line x1="57.50" y1="590.50" x2="60.80" y2="590.50" stroke="#383838" stroke-width="1.3"/>
<text x="54.40" y="594.80" font-size="12" text-anchor="end" fill="#111" color="#111">0.002</text>
<line x1="57.50" y1="613.40" x2="60.80" y2="613.40" stroke="#383838" stroke-width="1.3"/>
<text x="54.40" y="617.70" font-size="12" text-anchor="end" fill="#111" color="#111">0.001</text>
<line x1="57.50" y1="636.40" x2="60.80" y2="636.40" stroke="#383838" stroke-width="1.3"/>
<text x="54.40" y="640.70" font-size="12" text-anchor="end" fill="#111" color="#111">0.000</text>
<line x1="111.20" y1="641.05" x2="111.20" y2="644.35" stroke="#383838" stroke-width="1.3"/>
<text x="111.20" y="655.65" font-size="12" text-anchor="middle" fill="#111" color="#111">0</text>
<line x1="195.20" y1="641.05" x2="195.20" y2="644.35" stroke="#383838" stroke-width="1.3"/>
<text x="195.20" y="655.65" font-size="12" text-anchor="middle" fill="#111" color="#111">1</text>
<text x="381.80" y="502.06" font-size="12" text-anchor="middle" fill="#111" color="#111">PHOSLIPSYN PWY:</text>
<text x="381.80" y="514.89" font-size="12" text-anchor="middle" fill="#111" color="#111">superpathway of</text>
<text x="381.80" y="527.72" font-size="12" text-anchor="middle" fill="#111" color="#111">phospholipid biosynthesis</text>
<text x="381.80" y="540.55" font-size="12" text-anchor="middle" fill="#111" color="#111">I: bacteria</text>
<clipPath id="cp6"><rect x="289.40" y="545.45" width="184.80" height="95.60"/></clipPath>
<g clip-path="url(#cp6)">
<circle cx="314.50" cy="555.60" r="4.5" fill="#2D7091" fill-opacity="0.5" stroke="#1c2830" stroke-opacity="0.6" stroke-width="0.95"/>
<circle cx="367.40" cy="572.50" r="4.5" fill="#2D7091" fill-opacity="0.5" stroke="#1c2830" stroke-opacity="0.6" stroke-width="0.95"/>
<circle cx="325.30" cy="576.50" r="4.5" fill="#2D7091" fill-opacity="0.5" stroke="#1c2830" stroke-opacity="0.6" stroke-width="0.95"/>
<circle cx="339.00" cy="597.30" r="4.5" fill="#2D7091" fill-opacity="0.5" stroke="#1c2830" stroke-opacity="0.6" stroke-width="0.95"/>
<circle cx="320.10" cy="606.60" r="4.5" fill="#2D7091" fill-opacity="0.5" stroke="#1c2830" stroke-opacity="0.6" stroke-width="0.95"/>
<circle cx="346.50" cy="608.20" r="4.5" fill="#2D7091" fill-opacity="0.5" stroke="#1c2830" stroke-opacity="0.6" stroke-width="0.95"/>
<circle cx="328.20" cy="617.40" r="4.5" fill="#2D7091" fill-opacity="0.5" stroke="#1c2830" stroke-opacity="0.6" stroke-width="0.95"/>
<circle cx="313.20" cy="636.40" r="4.5" fill="#2D7091" fill-opacity="0.5" stroke="#1c2830" stroke-opacity="0.6" stroke-width="0.95"/>
<circle cx="318.80" cy="636.40" r="4.5" fill="#2D7091" fill-opacity="0.5" stroke="#1c2830" stroke-opacity="0.6" stroke-width="0.95"/>
<circle cx="323.60" cy="636.40" r="4.5" fill="#2D7091" fill-opacity="0.5" stroke="#1c2830" stroke-opacity="0.6" stroke-width="0.95"/>
<circle cx="326.10" cy="636.40" r="4.5" fill="#2D7091" fill-opacity="0.5" stroke="#1c2830" stroke-opacity="0.6" stroke-width="0.95"/>
<circle cx="364.70" cy="636.40" r="4.5" fill="#2D7091" fill-opacity="0.5" stroke="#1c2830" stroke-opacity="0.6" stroke-width="0.95"/>
<circle cx="409.30" cy="550.00" r="4.5" fill="#ED9B2D" fill-opacity="0.5" stroke="#1c2830" stroke-opacity="0.6" stroke-width="0.95"/>
<circle cx="429.10" cy="553.20" r="4.5" fill="#ED9B2D" fill-opacity="0.5" stroke="#1c2830" stroke-opacity="0.6" stroke-width="0.95"/>
<circle cx="434.80" cy="557.50" r="4.5" fill="#ED9B2D" fill-opacity="0.5" stroke="#1c2830" stroke-opacity="0.6" stroke-width="0.95"/>
<circle cx="392.90" cy="556.70" r="4.5" fill="#ED9B2D" fill-opacity="0.5" stroke="#1c2830" stroke-opacity="0.6" stroke-width="0.95"/>
<circle cx="390.50" cy="572.00" r="4.5" fill="#ED9B2D" fill-opacity="0.5" stroke="#1c2830" stroke-opacity="0.6" stroke-width="0.95"/>
<circle cx="409.00" cy="569.10" r="4.5" fill="#ED9B2D" fill-opacity="0.5" stroke="#1c2830" stroke-opacity="0.6" stroke-width="0.95"/>
<circle cx="411.90" cy="574.00" r="4.5" fill="#ED9B2D" fill-opacity="0.5" stroke="#1c2830" stroke-opacity="0.6" stroke-width="0.95"/>
<circle cx="432.70" cy="575.20" r="4.5" fill="#ED9B2D" fill-opacity="0.5" stroke="#1c2830" stroke-opacity="0.6" stroke-width="0.95"/>
<circle cx="427.50" cy="588.10" r="4.5" fill="#ED9B2D" fill-opacity="0.5" stroke="#1c2830" stroke-opacity="0.6" stroke-width="0.95"/>
<circle cx="443.60" cy="585.70" r="4.5" fill="#ED9B2D" fill-opacity="0.5" stroke="#1c2830" stroke-opacity="0.6" stroke-width="0.95"/>
<circle cx="396.90" cy="594.60" r="4.5" fill="#ED9B2D" fill-opacity="0.5" stroke="#1c2830" stroke-opacity="0.6" stroke-width="0.95"/>
<circle cx="407.10" cy="636.40" r="4.5" fill="#ED9B2D" fill-opacity="0.5" stroke="#1c2830" stroke-opacity="0.6" stroke-width="0.95"/>
<path d="M330.70,555.60 L330.50,556.30 L330.31,557.00 L330.12,557.70 L329.93,558.40 L329.74,559.10 L329.55,559.80 L329.37,560.50 L329.19,561.20 L329.02,561.90 L328.85,562.60 L328.68,563.30 L328.51,564.00 L328.35,564.70 L328.20,565.40 L328.04,566.10 L327.89,566.80 L327.74,567.50 L327.60,568.20 L327.45,568.90 L327.31,569.60 L327.17,570.30 L327.03,571.00 L326.89,571.70 L326.75,572.40 L326.60,573.10 L326.46,573.80 L326.32,574.50 L326.18,575.20 L326.03,575.90 L325.89,576.60 L325.74,577.30 L325.59,578.00 L325.43,578.70 L325.28,579.40 L325.12,580.10 L324.96,580.80 L324.80,581.50 L324.65,582.20 L324.49,582.90 L324.33,583.60 L324.17,584.30 L324.01,585.00 L323.85,585.70 L323.68,586.40 L323.52,587.10 L323.35,587.80 L323.19,588.50 L323.02,589.20 L322.85,589.90 L322.67,590.60 L322.49,591.30 L322.31,592.00 L322.13,592.70 L321.95,593.40 L321.76,594.10 L321.57,594.80 L321.37,595.50 L321.17,596.20 L320.95,596.90 L320.74,597.60 L320.51,598.30 L320.28,599.00 L320.04,599.70 L319.80,600.40 L319.55,601.10 L319.30,601.80 L319.05,602.50 L318.80,603.20 L318.54,603.90 L318.29,604.60 L318.04,605.30 L317.79,606.00 L317.54,606.70 L317.30,607.40 L317.06,608.10 L316.83,608.80 L316.61,609.50 L316.39,610.20 L316.18,610.90 L315.97,611.60 L315.77,612.30 L315.57,613.00 L315.37,613.70 L315.17,614.40 L314.98,615.10 L314.78,615.80 L314.59,616.50 L314.41,617.20 L314.23,617.90 L314.05,618.60 L313.89,619.30 L313.73,620.00 L313.58,620.70 L313.44,621.40 L313.31,622.10 L313.18,622.80 L313.07,623.50 L312.95,624.20 L312.83,624.90 L312.71,625.60 L312.60,626.30 L312.49,627.00 L312.40,627.70 L312.31,628.40 L312.23,629.10 L312.17,629.80 L312.13,630.50 L312.11,631.20 L312.11,631.90 L312.12,632.60 L312.14,633.30 L312.18,634.00 L312.23,634.70 L312.29,635.40 L312.35,636.10 L312.40,636.40 L367.20,636.40 L367.25,636.10 L367.31,635.40 L367.37,634.70 L367.42,634.00 L367.46,633.30 L367.48,632.60 L367.49,631.90 L367.49,631.20 L367.47,630.50 L367.43,629.80 L367.37,629.10 L367.29,628.40 L367.20,627.70 L367.11,627.00 L367.00,626.30 L366.89,625.60 L366.77,624.90 L366.65,624.20 L366.53,623.50 L366.42,622.80 L366.29,622.10 L366.16,621.40 L366.02,620.70 L365.87,620.00 L365.71,619.30 L365.55,618.60 L365.37,617.90 L365.19,617.20 L365.01,616.50 L364.82,615.80 L364.62,615.10 L364.43,614.40 L364.23,613.70 L364.03,613.00 L363.83,612.30 L363.63,611.60 L363.42,610.90 L363.21,610.20 L362.99,609.50 L362.77,608.80 L362.54,608.10 L362.30,607.40 L362.06,606.70 L361.81,606.00 L361.56,605.30 L361.31,604.60 L361.06,603.90 L360.80,603.20 L360.55,602.50 L360.30,601.80 L360.05,601.10 L359.80,600.40 L359.56,599.70 L359.32,599.00 L359.09,598.30 L358.86,597.60 L358.65,596.90 L358.43,596.20 L358.23,595.50 L358.03,594.80 L357.84,594.10 L357.65,593.40 L357.47,592.70 L357.29,592.00 L357.11,591.30 L356.93,590.60 L356.75,589.90 L356.58,589.20 L356.41,588.50 L356.25,587.80 L356.08,587.10 L355.92,586.40 L355.75,585.70 L355.59,585.00 L355.43,584.30 L355.27,583.60 L355.11,582.90 L354.95,582.20 L354.80,581.50 L354.64,580.80 L354.48,580.10 L354.32,579.40 L354.17,578.70 L354.01,578.00 L353.86,577.30 L353.71,576.60 L353.57,575.90 L353.42,575.20 L353.28,574.50 L353.14,573.80 L353.00,573.10 L352.85,572.40 L352.71,571.70 L352.57,571.00 L352.43,570.30 L352.29,569.60 L352.15,568.90 L352.00,568.20 L351.86,567.50 L351.71,566.80 L351.56,566.10 L351.40,565.40 L351.25,564.70 L351.09,564.00 L350.92,563.30 L350.75,562.60 L350.58,561.90 L350.41,561.20 L350.23,560.50 L350.05,559.80 L349.86,559.10 L349.67,558.40 L349.48,557.70 L349.29,557.00 L349.10,556.30 L348.90,555.60 Z" fill="#2D7091" fill-opacity="0.3" stroke="#2a2a2a" stroke-width="1.0" stroke-linejoin="round"/>
<path d="M401.30,550.00 L400.40,550.70 L399.58,551.40 L398.75,552.10 L397.95,552.80 L397.19,553.50 L396.47,554.20 L395.80,554.90 L395.15,555.60 L394.53,556.30 L393.91,557.00 L393.31,557.70 L392.73,558.40 L392.17,559.10 L391.65,559.80 L391.15,560.50 L390.69,561.20 L390.27,561.90 L389.90,562.60 L389.56,563.30 L389.25,564.00 L388.94,564.70 L388.64,565.40 L388.35,566.10 L388.06,566.80 L387.77,567.50 L387.50,568.20 L387.25,568.90 L387.00,569.60 L386.78,570.30 L386.57,571.00 L386.39,571.70 L386.22,572.40 L386.08,573.10 L385.97,573.80 L385.89,574.50 L385.83,575.20 L385.81,575.90 L385.82,576.60 L385.86,577.30 L385.93,578.00 L386.03,578.70 L386.15,579.40 L386.29,580.10 L386.45,580.80 L386.63,581.50 L386.83,582.20 L387.04,582.90 L387.27,583.60 L387.50,584.30 L387.75,585.00 L388.02,585.70 L388.33,586.40 L388.71,587.10 L389.17,587.80 L389.70,588.50 L390.30,589.20 L390.95,589.90 L391.65,590.60 L392.39,591.30 L393.17,592.00 L393.97,592.70 L394.79,593.40 L395.63,594.10 L396.48,594.80 L397.34,595.50 L398.27,596.20 L399.29,596.90 L400.39,597.60 L401.55,598.30 L402.75,599.00 L403.98,599.70 L405.21,600.40 L406.43,601.10 L407.61,601.80 L408.73,602.50 L409.80,603.20 L410.84,603.90 L411.89,604.60 L412.98,605.30 L414.08,606.00 L415.17,606.70 L416.21,607.40 L417.18,608.10 L418.07,608.80 L418.83,609.50 L419.45,610.20 L419.90,610.90 L420.20,611.60 L420.40,612.30 L420.58,613.00 L420.74,613.70 L420.89,614.40 L421.03,615.10 L421.16,615.80 L421.28,616.50 L421.39,617.20 L421.48,617.90 L421.56,618.60 L421.64,619.30 L421.69,620.00 L421.74,620.70 L421.77,621.40 L421.79,622.10 L421.78,622.80 L421.73,623.50 L421.63,624.20 L421.47,624.90 L421.27,625.60 L421.04,626.30 L420.79,627.00 L420.52,627.70 L420.24,628.40 L419.98,629.10 L419.72,629.80 L419.50,630.50 L419.29,631.20 L419.10,631.90 L418.90,632.60 L418.71,633.30 L418.53,634.00 L418.34,634.70 L418.16,635.40 L418.00,636.10 L417.90,636.40 L429.70,636.40 L429.60,636.10 L429.44,635.40 L429.26,634.70 L429.07,634.00 L428.89,633.30 L428.70,632.60 L428.50,631.90 L428.31,631.20 L428.10,630.50 L427.88,629.80 L427.62,629.10 L427.36,628.40 L427.08,627.70 L426.81,627.00 L426.56,626.30 L426.33,625.60 L426.13,624.90 L425.97,624.20 L425.87,623.50 L425.82,622.80 L425.81,622.10 L425.83,621.40 L425.86,620.70 L425.91,620.00 L425.96,619.30 L426.04,618.60 L426.12,617.90 L426.21,617.20 L426.32,616.50 L426.44,615.80 L426.57,615.10 L426.71,614.40 L426.86,613.70 L427.02,613.00 L427.20,612.30 L427.40,611.60 L427.70,610.90 L428.15,610.20 L428.77,609.50 L429.53,608.80 L430.42,608.10 L431.39,607.40 L432.43,606.70 L433.52,606.00 L434.62,605.30 L435.71,604.60 L436.76,603.90 L437.80,603.20 L438.87,602.50 L439.99,601.80 L441.17,601.10 L442.39,600.40 L443.62,599.70 L444.85,599.00 L446.05,598.30 L447.21,597.60 L448.31,596.90 L449.33,596.20 L450.26,595.50 L451.12,594.80 L451.97,594.10 L452.81,593.40 L453.63,592.70 L454.43,592.00 L455.21,591.30 L455.95,590.60 L456.65,589.90 L457.30,589.20 L457.90,588.50 L458.43,587.80 L458.89,587.10 L459.27,586.40 L459.58,585.70 L459.85,585.00 L460.10,584.30 L460.33,583.60 L460.56,582.90 L460.77,582.20 L460.97,581.50 L461.15,580.80 L461.31,580.10 L461.45,579.40 L461.57,578.70 L461.67,578.00 L461.74,577.30 L461.78,576.60 L461.79,575.90 L461.77,575.20 L461.71,574.50 L461.63,573.80 L461.52,573.10 L461.38,572.40 L461.21,571.70 L461.03,571.00 L460.82,570.30 L460.60,569.60 L460.35,568.90 L460.10,568.20 L459.83,567.50 L459.54,566.80 L459.25,566.10 L458.96,565.40 L458.66,564.70 L458.35,564.00 L458.04,563.30 L457.70,562.60 L457.33,561.90 L456.91,561.20 L456.45,560.50 L455.95,559.80 L455.43,559.10 L454.87,558.40 L454.29,557.70 L453.69,557.00 L453.07,556.30 L452.45,555.60 L451.80,554.90 L451.13,554.20 L450.41,553.50 L449.65,552.80 L448.85,552.10 L448.02,551.40 L447.20,550.70 L446.30,550.00 Z" fill="#ED9B2D" fill-opacity="0.3" stroke="#2a2a2a" stroke-width="1.0" stroke-linejoin="round"/>
</g>
<line x1="289.40" y1="545.45" x2="289.40" y2="641.60" stroke="#383838" stroke-width="1.3"/>
<line x1="288.85" y1="641.05" x2="474.20" y2="641.05" stroke="#383838" stroke-width="1.3"/>
<line x1="286.10" y1="554.00" x2="289.40" y2="554.00" stroke="#383838" stroke-width="1.3"/>
<text x="283.00" y="558.30" font-size="12" text-anchor="end" fill="#111" color="#111">0.006</text>
<line x1="286.10" y1="581.40" x2="289.40" y2="581.40" stroke="#383838" stroke-width="1.3"/>
<text x="283.00" y="585.70" font-size="12" text-anchor="end" fill="#111" color="#111">0.004</text>
<line x1="286.10" y1="608.70" x2="289.40" y2="608.70" stroke="#383838" stroke-width="1.3"/>
<text x="283.00" y="613.00" font-size="12" text-anchor="end" fill="#111" color="#111">0.002</text>
<line x1="286.10" y1="636.40" x2="289.40" y2="636.40" stroke="#383838" stroke-width="1.3"/>
<text x="283.00" y="640.70" font-size="12" text-anchor="end" fill="#111" color="#111">0.000</text>
<line x1="339.80" y1="641.05" x2="339.80" y2="644.35" stroke="#383838" stroke-width="1.3"/>
<text x="339.80" y="655.65" font-size="12" text-anchor="middle" fill="#111" color="#111">0</text>
<line x1="423.80" y1="641.05" x2="423.80" y2="644.35" stroke="#383838" stroke-width="1.3"/>
<text x="423.80" y="655.65" font-size="12" text-anchor="middle" fill="#111" color="#111">1</text>
<text x="616.90" y="508.47" font-size="12" text-anchor="middle" fill="#111" color="#111">POLYISOPRENSYN</text>
<text x="616.90" y="521.30" font-size="12" text-anchor="middle" fill="#111" color="#111">PWY: polyisoprenoid</text>
<text x="616.90" y="534.13" font-size="12" text-anchor="middle" fill="#111" color="#111">biosynthesis: E: coli</text>
<clipPath id="cp7"><rect x="524.50" y="545.45" width="184.80" height="95.60"/></clipPath>
<g clip-path="url(#cp7)">
<circle cx="553.50" cy="550.80" r="4.5" fill="#2D7091" fill-opacity="0.5" stroke="#1c2830" stroke-opacity="0.6" stroke-width="0.95"/>
<circle cx="558.60" cy="550.00" r="4.5" fill="#2D7091" fill-opacity="0.5" stroke="#1c2830" stroke-opacity="0.6" stroke-width="0.95"/>
<circle cx="545.80" cy="606.60" r="4.5" fill="#2D7091" fill-opacity="0.5" stroke="#1c2830" stroke-opacity="0.6" stroke-width="0.95"/>
<circle cx="582.80" cy="603.90" r="4.5" fill="#2D7091" fill-opacity="0.5" stroke="#1c2830" stroke-opacity="0.6" stroke-width="0.95"/>
<circle cx="545.00" cy="620.60" r="4.5" fill="#2D7091" fill-opacity="0.5" stroke="#1c2830" stroke-opacity="0.6" stroke-width="0.95"/>
<circle cx="550.60" cy="627.10" r="4.5" fill="#2D7091" fill-opacity="0.5" stroke="#1c2830" stroke-opacity="0.6" stroke-width="0.95"/>
<circle cx="561.10" cy="628.70" r="4.5" fill="#2D7091" fill-opacity="0.5" stroke="#1c2830" stroke-opacity="0.6" stroke-width="0.95"/>
<circle cx="585.20" cy="626.80" r="4.5" fill="#2D7091" fill-opacity="0.5" stroke="#1c2830" stroke-opacity="0.6" stroke-width="0.95"/>
<circle cx="592.50" cy="626.80" r="4.5" fill="#2D7091" fill-opacity="0.5" stroke="#1c2830" stroke-opacity="0.6" stroke-width="0.95"/>
<circle cx="588.10" cy="636.10" r="4.5" fill="#2D7091" fill-opacity="0.5" stroke="#1c2830" stroke-opacity="0.6" stroke-width="0.95"/>
<circle cx="607.80" cy="632.10" r="4.5" fill="#2D7091" fill-opacity="0.5" stroke="#1c2830" stroke-opacity="0.6" stroke-width="0.95"/>
<circle cx="602.60" cy="636.40" r="4.5" fill="#2D7091" fill-opacity="0.5" stroke="#1c2830" stroke-opacity="0.6" stroke-width="0.95"/>
<circle cx="629.20" cy="630.80" r="4.5" fill="#ED9B2D" fill-opacity="0.5" stroke="#1c2830" stroke-opacity="0.6" stroke-width="0.95"/>
<circle cx="626.30" cy="634.00" r="4.5" fill="#ED9B2D" fill-opacity="0.5" stroke="#1c2830" stroke-opacity="0.6" stroke-width="0.95"/>
<circle cx="636.70" cy="635.60" r="4.5" fill="#ED9B2D" fill-opacity="0.5" stroke="#1c2830" stroke-opacity="0.6" stroke-width="0.95"/>
<circle cx="649.60" cy="630.00" r="4.5" fill="#ED9B2D" fill-opacity="0.5" stroke="#1c2830" stroke-opacity="0.6" stroke-width="0.95"/>
<circle cx="649.60" cy="634.00" r="4.5" fill="#ED9B2D" fill-opacity="0.5" stroke="#1c2830" stroke-opacity="0.6" stroke-width="0.95"/>
<circle cx="656.90" cy="628.40" r="4.5" fill="#ED9B2D" fill-opacity="0.5" stroke="#1c2830" stroke-opacity="0.6" stroke-width="0.95"/>
<circle cx="660.90" cy="629.20" r="4.5" fill="#ED9B2D" fill-opacity="0.5" stroke="#1c2830" stroke-opacity="0.6" stroke-width="0.95"/>
<circle cx="664.90" cy="630.80" r="4.5" fill="#ED9B2D" fill-opacity="0.5" stroke="#1c2830" stroke-opacity="0.6" stroke-width="0.95"/>
<circle cx="671.40" cy="630.00" r="4.5" fill="#ED9B2D" fill-opacity="0.5" stroke="#1c2830" stroke-opacity="0.6" stroke-width="0.95"/>
<circle cx="677.80" cy="630.00" r="4.5" fill="#ED9B2D" fill-opacity="0.5" stroke="#1c2830" stroke-opacity="0.6" stroke-width="0.95"/>
<circle cx="683.40" cy="636.40" r="4.5" fill="#ED9B2D" fill-opacity="0.5" stroke="#1c2830" stroke-opacity="0.6" stroke-width="0.95"/>
<circle cx="687.50" cy="636.40" r="4.5" fill="#ED9B2D" fill-opacity="0.5" stroke="#1c2830" stroke-opacity="0.6" stroke-width="0.95"/>
<path d="M572.80,550.00 L572.88,550.70 L572.95,551.40 L573.03,552.10 L573.11,552.80 L573.20,553.50 L573.28,554.20 L573.38,554.90 L573.48,555.60 L573.59,556.30 L573.72,557.00 L573.86,557.70 L574.01,558.40 L574.15,559.10 L574.28,559.80 L574.40,560.50 L574.50,561.20 L574.58,561.90 L574.63,562.60 L574.65,563.30 L574.65,564.00 L574.65,564.70 L574.65,565.40 L574.65,566.10 L574.65,566.80 L574.65,567.50 L574.65,568.20 L574.65,568.90 L574.65,569.60 L574.65,570.30 L574.65,571.00 L574.65,571.70 L574.65,572.40 L574.65,573.10 L574.65,573.80 L574.65,574.50 L574.65,575.20 L574.65,575.90 L574.65,576.60 L574.65,577.30 L574.65,578.00 L574.65,578.70 L574.65,579.40 L574.65,580.10 L574.65,580.80 L574.65,581.50 L574.65,582.20 L574.65,582.90 L574.65,583.60 L574.65,584.30 L574.63,585.00 L574.60,585.70 L574.56,586.40 L574.51,587.10 L574.44,587.80 L574.37,588.50 L574.29,589.20 L574.20,589.90 L574.10,590.60 L574.00,591.30 L573.90,592.00 L573.79,592.70 L573.69,593.40 L573.59,594.10 L573.48,594.80 L573.39,595.50 L573.29,596.20 L573.18,596.90 L573.07,597.60 L572.95,598.30 L572.84,599.00 L572.71,599.70 L572.59,600.40 L572.46,601.10 L572.33,601.80 L572.19,602.50 L572.06,603.20 L571.92,603.90 L571.79,604.60 L571.65,605.30 L571.52,606.00 L571.38,606.70 L571.24,607.40 L571.09,608.10 L570.94,608.80 L570.78,609.50 L570.62,610.20 L570.46,610.90 L570.30,611.60 L570.15,612.30 L569.99,613.00 L569.85,613.70 L569.71,614.40 L569.59,615.10 L569.48,615.80 L569.37,616.50 L569.27,617.20 L569.17,617.90 L569.07,618.60 L568.98,619.30 L568.88,620.00 L568.79,620.70 L568.71,621.40 L568.63,622.10 L568.56,622.80 L568.50,623.50 L568.46,624.20 L568.43,624.90 L568.41,625.60 L568.40,626.30 L568.40,627.00 L568.41,627.70 L568.42,628.40 L568.44,629.10 L568.46,629.80 L568.49,630.50 L568.52,631.20 L568.56,631.90 L568.61,632.60 L568.66,633.30 L568.72,634.00 L568.79,634.70 L568.87,635.40 L568.95,636.10 L569.00,636.40 L580.80,636.40 L580.85,636.10 L580.93,635.40 L581.01,634.70 L581.08,634.00 L581.14,633.30 L581.19,632.60 L581.24,631.90 L581.28,631.20 L581.31,630.50 L581.34,629.80 L581.36,629.10 L581.38,628.40 L581.39,627.70 L581.40,627.00 L581.40,626.30 L581.39,625.60 L581.37,624.90 L581.34,624.20 L581.30,623.50 L581.24,622.80 L581.17,622.10 L581.09,621.40 L581.01,620.70 L580.92,620.00 L580.82,619.30 L580.73,618.60 L580.63,617.90 L580.53,617.20 L580.43,616.50 L580.32,615.80 L580.21,615.10 L580.09,614.40 L579.95,613.70 L579.81,613.00 L579.65,612.30 L579.50,611.60 L579.34,610.90 L579.18,610.20 L579.02,609.50 L578.86,608.80 L578.71,608.10 L578.56,607.40 L578.42,606.70 L578.28,606.00 L578.15,605.30 L578.01,604.60 L577.88,603.90 L577.74,603.20 L577.61,602.50 L577.47,601.80 L577.34,601.10 L577.21,600.40 L577.09,599.70 L576.96,599.00 L576.85,598.30 L576.73,597.60 L576.62,596.90 L576.51,596.20 L576.41,595.50 L576.32,594.80 L576.21,594.10 L576.11,593.40 L576.01,592.70 L575.90,592.00 L575.80,591.30 L575.70,590.60 L575.60,589.90 L575.51,589.20 L575.43,588.50 L575.36,587.80 L575.29,587.10 L575.24,586.40 L575.20,585.70 L575.17,585.00 L575.15,584.30 L575.15,583.60 L575.15,582.90 L575.15,582.20 L575.15,581.50 L575.15,580.80 L575.15,580.10 L575.15,579.40 L575.15,578.70 L575.15,578.00 L575.15,577.30 L575.15,576.60 L575.15,575.90 L575.15,575.20 L575.15,574.50 L575.15,573.80 L575.15,573.10 L575.15,572.40 L575.15,571.70 L575.15,571.00 L575.15,570.30 L575.15,569.60 L575.15,568.90 L575.15,568.20 L575.15,567.50 L575.15,566.80 L575.15,566.10 L575.15,565.40 L575.15,564.70 L575.15,564.00 L575.15,563.30 L575.17,562.60 L575.22,561.90 L575.30,561.20 L575.40,560.50 L575.52,559.80 L575.65,559.10 L575.79,558.40 L575.94,557.70 L576.08,557.00 L576.21,556.30 L576.32,555.60 L576.42,554.90 L576.52,554.20 L576.60,553.50 L576.69,552.80 L576.77,552.10 L576.85,551.40 L576.92,550.70 L577.00,550.00 Z" fill="#2D7091" fill-opacity="0.3" stroke="#2a2a2a" stroke-width="1.0" stroke-linejoin="round"/>
<path d="M634.90,628.30 L628.64,629.00 L624.30,629.70 L622.47,630.40 L624.00,631.10 L627.04,631.80 L629.94,632.50 L632.52,633.20 L634.82,633.90 L636.78,634.60 L638.32,635.30 L639.37,636.00 L639.90,636.20 L677.90,636.20 L678.43,636.00 L679.48,635.30 L681.02,634.60 L682.98,633.90 L685.28,633.20 L687.86,632.50 L690.76,631.80 L693.80,631.10 L695.33,630.40 L693.50,629.70 L689.16,629.00 L682.90,628.30 Z" fill="#ED9B2D" fill-opacity="0.3" stroke="#2a2a2a" stroke-width="1.0" stroke-linejoin="round"/>
</g>
<line x1="524.50" y1="545.45" x2="524.50" y2="641.60" stroke="#383838" stroke-width="1.3"/>
<line x1="523.95" y1="641.05" x2="709.30" y2="641.05" stroke="#383838" stroke-width="1.3"/>
<line x1="521.20" y1="548.20" x2="524.50" y2="548.20" stroke="#383838" stroke-width="1.3"/>
<text x="518.10" y="552.50" font-size="12" text-anchor="end" fill="#111" color="#111">0.0100</text>
<line x1="521.20" y1="570.40" x2="524.50" y2="570.40" stroke="#383838" stroke-width="1.3"/>
<text x="518.10" y="574.70" font-size="12" text-anchor="end" fill="#111" color="#111">0.0075</text>
<line x1="521.20" y1="592.60" x2="524.50" y2="592.60" stroke="#383838" stroke-width="1.3"/>
<text x="518.10" y="596.90" font-size="12" text-anchor="end" fill="#111" color="#111">0.0050</text>
<line x1="521.20" y1="614.40" x2="524.50" y2="614.40" stroke="#383838" stroke-width="1.3"/>
<text x="518.10" y="618.70" font-size="12" text-anchor="end" fill="#111" color="#111">0.0025</text>
<line x1="521.20" y1="636.40" x2="524.50" y2="636.40" stroke="#383838" stroke-width="1.3"/>
<text x="518.10" y="640.70" font-size="12" text-anchor="end" fill="#111" color="#111">0.0000</text>
<line x1="574.90" y1="641.05" x2="574.90" y2="644.35" stroke="#383838" stroke-width="1.3"/>
<text x="574.90" y="655.65" font-size="12" text-anchor="middle" fill="#111" color="#111">0</text>
<line x1="658.90" y1="641.05" x2="658.90" y2="644.35" stroke="#383838" stroke-width="1.3"/>
<text x="658.90" y="655.65" font-size="12" text-anchor="middle" fill="#111" color="#111">1</text>
<text x="845.00" y="508.47" font-size="12" text-anchor="middle" fill="#111" color="#111">PWY 3001: superpathway of</text>
<text x="845.00" y="521.30" font-size="12" text-anchor="middle" fill="#111" color="#111">L isoleucine biosynthesis</text>
<text x="845.00" y="534.13" font-size="12" text-anchor="middle" fill="#111" color="#111">I</text>
<clipPath id="cp8"><rect x="752.60" y="545.45" width="184.80" height="95.60"/></clipPath>
<g clip-path="url(#cp8)">
<circle cx="806.30" cy="550.00" r="4.5" fill="#2D7091" fill-opacity="0.5" stroke="#1c2830" stroke-opacity="0.6" stroke-width="0.95"/>
<circle cx="813.20" cy="563.20" r="4.5" fill="#2D7091" fill-opacity="0.5" stroke="#1c2830" stroke-opacity="0.6" stroke-width="0.95"/>
<circle cx="821.80" cy="564.00" r="4.5" fill="#2D7091" fill-opacity="0.5" stroke="#1c2830" stroke-opacity="0.6" stroke-width="0.95"/>
<circle cx="795.20" cy="587.00" r="4.5" fill="#2D7091" fill-opacity="0.5" stroke="#1c2830" stroke-opacity="0.6" stroke-width="0.95"/>
<circle cx="818.90" cy="587.00" r="4.5" fill="#2D7091" fill-opacity="0.5" stroke="#1c2830" stroke-opacity="0.6" stroke-width="0.95"/>
<circle cx="781.50" cy="593.80" r="4.5" fill="#2D7091" fill-opacity="0.5" stroke="#1c2830" stroke-opacity="0.6" stroke-width="0.95"/>
<circle cx="794.70" cy="595.70" r="4.5" fill="#2D7091" fill-opacity="0.5" stroke="#1c2830" stroke-opacity="0.6" stroke-width="0.95"/>
<circle cx="797.90" cy="600.20" r="4.5" fill="#2D7091" fill-opacity="0.5" stroke="#1c2830" stroke-opacity="0.6" stroke-width="0.95"/>
<circle cx="789.10" cy="603.10" r="4.5" fill="#2D7091" fill-opacity="0.5" stroke="#1c2830" stroke-opacity="0.6" stroke-width="0.95"/>
<circle cx="769.40" cy="605.80" r="4.5" fill="#2D7091" fill-opacity="0.5" stroke="#1c2830" stroke-opacity="0.6" stroke-width="0.95"/>
<circle cx="832.50" cy="605.80" r="4.5" fill="#2D7091" fill-opacity="0.5" stroke="#1c2830" stroke-opacity="0.6" stroke-width="0.95"/>
<circle cx="799.50" cy="626.80" r="4.5" fill="#2D7091" fill-opacity="0.5" stroke="#1c2830" stroke-opacity="0.6" stroke-width="0.95"/>
<circle cx="888.10" cy="586.00" r="4.5" fill="#ED9B2D" fill-opacity="0.5" stroke="#1c2830" stroke-opacity="0.6" stroke-width="0.95"/>
<circle cx="899.40" cy="589.40" r="4.5" fill="#ED9B2D" fill-opacity="0.5" stroke="#1c2830" stroke-opacity="0.6" stroke-width="0.95"/>
<circle cx="920.00" cy="607.90" r="4.5" fill="#ED9B2D" fill-opacity="0.5" stroke="#1c2830" stroke-opacity="0.6" stroke-width="0.95"/>
<circle cx="920.30" cy="609.90" r="4.5" fill="#ED9B2D" fill-opacity="0.5" stroke="#1c2830" stroke-opacity="0.6" stroke-width="0.95"/>
<circle cx="878.40" cy="614.40" r="4.5" fill="#ED9B2D" fill-opacity="0.5" stroke="#1c2830" stroke-opacity="0.6" stroke-width="0.95"/>
<circle cx="889.40" cy="617.60" r="4.5" fill="#ED9B2D" fill-opacity="0.5" stroke="#1c2830" stroke-opacity="0.6" stroke-width="0.95"/>
<circle cx="909.80" cy="616.60" r="4.5" fill="#ED9B2D" fill-opacity="0.5" stroke="#1c2830" stroke-opacity="0.6" stroke-width="0.95"/>
<circle cx="858.80" cy="616.80" r="4.5" fill="#ED9B2D" fill-opacity="0.5" stroke="#1c2830" stroke-opacity="0.6" stroke-width="0.95"/>
<circle cx="860.40" cy="621.10" r="4.5" fill="#ED9B2D" fill-opacity="0.5" stroke="#1c2830" stroke-opacity="0.6" stroke-width="0.95"/>
<circle cx="866.40" cy="626.00" r="4.5" fill="#ED9B2D" fill-opacity="0.5" stroke="#1c2830" stroke-opacity="0.6" stroke-width="0.95"/>
<circle cx="866.80" cy="629.50" r="4.5" fill="#ED9B2D" fill-opacity="0.5" stroke="#1c2830" stroke-opacity="0.6" stroke-width="0.95"/>
<circle cx="872.30" cy="636.10" r="4.5" fill="#ED9B2D" fill-opacity="0.5" stroke="#1c2830" stroke-opacity="0.6" stroke-width="0.95"/>
<circle cx="900.70" cy="636.10" r="4.5" fill="#ED9B2D" fill-opacity="0.5" stroke="#1c2830" stroke-opacity="0.6" stroke-width="0.95"/>
<path d="M795.20,550.00 L794.70,550.70 L794.25,551.40 L793.80,552.10 L793.40,552.80 L793.05,553.50 L792.77,554.20 L792.56,554.90 L792.42,555.60 L792.30,556.30 L792.20,557.00 L792.10,557.70 L792.01,558.40 L791.93,559.10 L791.86,559.80 L791.81,560.50 L791.76,561.20 L791.73,561.90 L791.71,562.60 L791.71,563.30 L791.74,564.00 L791.82,564.70 L791.92,565.40 L792.06,566.10 L792.21,566.80 L792.38,567.50 L792.55,568.20 L792.72,568.90 L792.88,569.60 L793.02,570.30 L793.14,571.00 L793.23,571.70 L793.27,572.40 L793.24,573.10 L793.07,573.80 L792.77,574.50 L792.34,575.20 L791.80,575.90 L791.18,576.60 L790.51,577.30 L789.80,578.00 L789.08,578.70 L788.38,579.40 L787.71,580.10 L787.09,580.80 L786.50,581.50 L785.91,582.20 L785.29,582.90 L784.67,583.60 L784.04,584.30 L783.41,585.00 L782.78,585.70 L782.16,586.40 L781.55,587.10 L780.97,587.80 L780.41,588.50 L779.89,589.20 L779.40,589.90 L778.94,590.60 L778.49,591.30 L778.02,592.00 L777.56,592.70 L777.10,593.40 L776.66,594.10 L776.25,594.80 L775.88,595.50 L775.56,596.20 L775.31,596.90 L775.13,597.60 L775.04,598.30 L775.05,599.00 L775.15,599.70 L775.33,600.40 L775.59,601.10 L775.92,601.80 L776.30,602.50 L776.73,603.20 L777.20,603.90 L777.70,604.60 L778.22,605.30 L778.75,606.00 L779.31,606.70 L779.95,607.40 L780.72,608.10 L781.60,608.80 L782.57,609.50 L783.61,610.20 L784.68,610.90 L785.77,611.60 L786.84,612.30 L787.88,613.00 L788.84,613.70 L789.73,614.40 L790.56,615.10 L791.38,615.80 L792.21,616.50 L793.03,617.20 L793.81,617.90 L794.53,618.60 L795.15,619.30 L795.66,620.00 L796.02,620.70 L796.26,621.40 L796.44,622.10 L796.59,622.80 L796.73,623.50 L796.84,624.20 L796.94,624.90 L797.02,625.60 L797.07,626.30 L797.09,627.00 L797.10,627.20 L808.90,627.20 L808.91,627.00 L808.93,626.30 L808.98,625.60 L809.06,624.90 L809.16,624.20 L809.27,623.50 L809.41,622.80 L809.56,622.10 L809.74,621.40 L809.98,620.70 L810.34,620.00 L810.85,619.30 L811.47,618.60 L812.19,617.90 L812.97,617.20 L813.79,616.50 L814.62,615.80 L815.44,615.10 L816.27,614.40 L817.16,613.70 L818.12,613.00 L819.16,612.30 L820.23,611.60 L821.32,610.90 L822.39,610.20 L823.43,609.50 L824.40,608.80 L825.28,608.10 L826.05,607.40 L826.69,606.70 L827.25,606.00 L827.78,605.30 L828.30,604.60 L828.80,603.90 L829.27,603.20 L829.70,602.50 L830.08,601.80 L830.41,601.10 L830.67,600.40 L830.85,599.70 L830.95,599.00 L830.96,598.30 L830.87,597.60 L830.69,596.90 L830.44,596.20 L830.12,595.50 L829.75,594.80 L829.34,594.10 L828.90,593.40 L828.44,592.70 L827.98,592.00 L827.51,591.30 L827.06,590.60 L826.60,589.90 L826.11,589.20 L825.59,588.50 L825.03,587.80 L824.45,587.10 L823.84,586.40 L823.22,585.70 L822.59,585.00 L821.96,584.30 L821.33,583.60 L820.71,582.90 L820.09,582.20 L819.50,581.50 L818.91,580.80 L818.29,580.10 L817.62,579.40 L816.92,578.70 L816.20,578.00 L815.49,577.30 L814.82,576.60 L814.20,575.90 L813.66,575.20 L813.23,574.50 L812.93,573.80 L812.76,573.10 L812.73,572.40 L812.77,571.70 L812.86,571.00 L812.98,570.30 L813.12,569.60 L813.28,568.90 L813.45,568.20 L813.62,567.50 L813.79,566.80 L813.94,566.10 L814.08,565.40 L814.18,564.70 L814.26,564.00 L814.29,563.30 L814.29,562.60 L814.27,561.90 L814.24,561.20 L814.19,560.50 L814.14,559.80 L814.07,559.10 L813.99,558.40 L813.90,557.70 L813.80,557.00 L813.70,556.30 L813.58,555.60 L813.44,554.90 L813.23,554.20 L812.95,553.50 L812.60,552.80 L812.20,552.10 L811.75,551.40 L811.30,550.70 L810.80,550.00 Z" fill="#2D7091" fill-opacity="0.3" stroke="#2a2a2a" stroke-width="1.0" stroke-linejoin="round"/>
<path d="M875.70,586.50 L876.32,587.20 L876.88,587.90 L877.41,588.60 L877.88,589.30 L878.26,590.00 L878.56,590.70 L878.82,591.40 L879.05,592.10 L879.27,592.80 L879.47,593.50 L879.64,594.20 L879.79,594.90 L879.89,595.60 L879.96,596.30 L879.93,597.00 L879.71,597.70 L879.21,598.40 L878.44,599.10 L877.45,599.80 L876.30,600.50 L875.05,601.20 L873.74,601.90 L872.44,602.60 L871.17,603.30 L869.86,604.00 L868.43,604.70 L866.88,605.40 L865.26,606.10 L863.60,606.80 L861.97,607.50 L860.42,608.20 L859.00,608.90 L857.73,609.60 L856.58,610.30 L855.47,611.00 L854.36,611.70 L853.28,612.40 L852.28,613.10 L851.39,613.80 L850.66,614.50 L850.13,615.20 L849.83,615.90 L849.76,616.60 L849.84,617.30 L850.03,618.00 L850.28,618.70 L850.59,619.40 L851.04,620.10 L851.70,620.80 L852.55,621.50 L853.56,622.20 L854.67,622.90 L855.84,623.60 L857.01,624.30 L858.13,625.00 L859.16,625.70 L860.12,626.40 L861.07,627.10 L862.02,627.80 L862.97,628.50 L863.89,629.20 L864.77,629.90 L865.59,630.60 L866.32,631.30 L866.96,632.00 L867.50,632.70 L867.97,633.40 L868.39,634.10 L868.76,634.80 L869.06,635.50 L869.30,636.10 L904.70,636.10 L904.94,635.50 L905.24,634.80 L905.61,634.10 L906.03,633.40 L906.50,632.70 L907.04,632.00 L907.68,631.30 L908.41,630.60 L909.23,629.90 L910.11,629.20 L911.03,628.50 L911.98,627.80 L912.93,627.10 L913.88,626.40 L914.84,625.70 L915.87,625.00 L916.99,624.30 L918.16,623.60 L919.33,622.90 L920.44,622.20 L921.45,621.50 L922.30,620.80 L922.96,620.10 L923.41,619.40 L923.72,618.70 L923.97,618.00 L924.16,617.30 L924.24,616.60 L924.17,615.90 L923.87,615.20 L923.34,614.50 L922.61,613.80 L921.72,613.10 L920.72,612.40 L919.64,611.70 L918.53,611.00 L917.42,610.30 L916.27,609.60 L915.00,608.90 L913.58,608.20 L912.03,607.50 L910.40,606.80 L908.74,606.10 L907.12,605.40 L905.57,604.70 L904.14,604.00 L902.83,603.30 L901.56,602.60 L900.26,601.90 L898.95,601.20 L897.70,600.50 L896.55,599.80 L895.56,599.10 L894.79,598.40 L894.29,597.70 L894.07,597.00 L894.04,596.30 L894.11,595.60 L894.21,594.90 L894.36,594.20 L894.53,593.50 L894.73,592.80 L894.95,592.10 L895.18,591.40 L895.44,590.70 L895.74,590.00 L896.12,589.30 L896.59,588.60 L897.12,587.90 L897.68,587.20 L898.30,586.50 Z" fill="#ED9B2D" fill-opacity="0.3" stroke="#2a2a2a" stroke-width="1.0" stroke-linejoin="round"/>
</g>
<line x1="752.60" y1="545.45" x2="752.60" y2="641.60" stroke="#383838" stroke-width="1.3"/>
<line x1="752.05" y1="641.05" x2="937.40" y2="641.05" stroke="#383838" stroke-width="1.3"/>
<line x1="749.30" y1="553.50" x2="752.60" y2="553.50" stroke="#383838" stroke-width="1.3"/>
<text x="746.20" y="557.80" font-size="12" text-anchor="end" fill="#111" color="#111">0.011</text>
<line x1="749.30" y1="571.20" x2="752.60" y2="571.20" stroke="#383838" stroke-width="1.3"/>
<text x="746.20" y="575.50" font-size="12" text-anchor="end" fill="#111" color="#111">0.010</text>
<line x1="749.30" y1="588.90" x2="752.60" y2="588.90" stroke="#383838" stroke-width="1.3"/>
<text x="746.20" y="593.20" font-size="12" text-anchor="end" fill="#111" color="#111">0.009</text>
<line x1="749.30" y1="606.30" x2="752.60" y2="606.30" stroke="#383838" stroke-width="1.3"/>
<text x="746.20" y="610.60" font-size="12" text-anchor="end" fill="#111" color="#111">0.008</text>
<line x1="749.30" y1="623.50" x2="752.60" y2="623.50" stroke="#383838" stroke-width="1.3"/>
<text x="746.20" y="627.80" font-size="12" text-anchor="end" fill="#111" color="#111">0.007</text>
<line x1="803.00" y1="641.05" x2="803.00" y2="644.35" stroke="#383838" stroke-width="1.3"/>
<text x="803.00" y="655.65" font-size="12" text-anchor="middle" fill="#111" color="#111">0</text>
<line x1="887.00" y1="641.05" x2="887.00" y2="644.35" stroke="#383838" stroke-width="1.3"/>
<text x="887.00" y="655.65" font-size="12" text-anchor="middle" fill="#111" color="#111">1</text>
<text x="1073.40" y="514.89" font-size="12" text-anchor="middle" fill="#111" color="#111">PWY 5103: L isoleucine</text>
<text x="1073.40" y="527.72" font-size="12" text-anchor="middle" fill="#111" color="#111">biosynthesis III</text>
<clipPath id="cp9"><rect x="981.00" y="545.45" width="184.80" height="95.60"/></clipPath>
<g clip-path="url(#cp9)">
<circle cx="1053.00" cy="550.00" r="4.5" fill="#2D7091" fill-opacity="0.5" stroke="#1c2830" stroke-opacity="0.6" stroke-width="0.95"/>
<circle cx="1009.80" cy="593.00" r="4.5" fill="#2D7091" fill-opacity="0.5" stroke="#1c2830" stroke-opacity="0.6" stroke-width="0.95"/>
<circle cx="999.30" cy="598.90" r="4.5" fill="#2D7091" fill-opacity="0.5" stroke="#1c2830" stroke-opacity="0.6" stroke-width="0.95"/>
<circle cx="1018.70" cy="599.40" r="4.5" fill="#2D7091" fill-opacity="0.5" stroke="#1c2830" stroke-opacity="0.6" stroke-width="0.95"/>
<circle cx="1038.80" cy="594.60" r="4.5" fill="#2D7091" fill-opacity="0.5" stroke="#1c2830" stroke-opacity="0.6" stroke-width="0.95"/>
<circle cx="1009.80" cy="604.50" r="4.5" fill="#2D7091" fill-opacity="0.5" stroke="#1c2830" stroke-opacity="0.6" stroke-width="0.95"/>
<circle cx="1001.40" cy="609.90" r="4.5" fill="#2D7091" fill-opacity="0.5" stroke="#1c2830" stroke-opacity="0.6" stroke-width="0.95"/>
<circle cx="1021.90" cy="608.70" r="4.5" fill="#2D7091" fill-opacity="0.5" stroke="#1c2830" stroke-opacity="0.6" stroke-width="0.95"/>
<circle cx="1033.60" cy="611.80" r="4.5" fill="#2D7091" fill-opacity="0.5" stroke="#1c2830" stroke-opacity="0.6" stroke-width="0.95"/>
<circle cx="1062.50" cy="613.90" r="4.5" fill="#2D7091" fill-opacity="0.5" stroke="#1c2830" stroke-opacity="0.6" stroke-width="0.95"/>
<circle cx="1055.70" cy="619.80" r="4.5" fill="#2D7091" fill-opacity="0.5" stroke="#1c2830" stroke-opacity="0.6" stroke-width="0.95"/>
<circle cx="1059.70" cy="620.30" r="4.5" fill="#2D7091" fill-opacity="0.5" stroke="#1c2830" stroke-opacity="0.6" stroke-width="0.95"/>
<circle cx="1098.70" cy="605.50" r="4.5" fill="#ED9B2D" fill-opacity="0.5" stroke="#1c2830" stroke-opacity="0.6" stroke-width="0.95"/>
<circle cx="1085.50" cy="613.90" r="4.5" fill="#ED9B2D" fill-opacity="0.5" stroke="#1c2830" stroke-opacity="0.6" stroke-width="0.95"/>
<circle cx="1087.10" cy="620.30" r="4.5" fill="#ED9B2D" fill-opacity="0.5" stroke="#1c2830" stroke-opacity="0.6" stroke-width="0.95"/>
<circle cx="1097.60" cy="622.40" r="4.5" fill="#ED9B2D" fill-opacity="0.5" stroke="#1c2830" stroke-opacity="0.6" stroke-width="0.95"/>
<circle cx="1104.80" cy="622.70" r="4.5" fill="#ED9B2D" fill-opacity="0.5" stroke="#1c2830" stroke-opacity="0.6" stroke-width="0.95"/>
<circle cx="1111.00" cy="612.80" r="4.5" fill="#ED9B2D" fill-opacity="0.5" stroke="#1c2830" stroke-opacity="0.6" stroke-width="0.95"/>
<circle cx="1112.10" cy="619.50" r="4.5" fill="#ED9B2D" fill-opacity="0.5" stroke="#1c2830" stroke-opacity="0.6" stroke-width="0.95"/>
<circle cx="1117.70" cy="622.70" r="4.5" fill="#ED9B2D" fill-opacity="0.5" stroke="#1c2830" stroke-opacity="0.6" stroke-width="0.95"/>
<circle cx="1118.50" cy="627.20" r="4.5" fill="#ED9B2D" fill-opacity="0.5" stroke="#1c2830" stroke-opacity="0.6" stroke-width="0.95"/>
<circle cx="1125.00" cy="614.70" r="4.5" fill="#ED9B2D" fill-opacity="0.5" stroke="#1c2830" stroke-opacity="0.6" stroke-width="0.95"/>
<circle cx="1136.20" cy="624.00" r="4.5" fill="#ED9B2D" fill-opacity="0.5" stroke="#1c2830" stroke-opacity="0.6" stroke-width="0.95"/>
<circle cx="1085.00" cy="631.10" r="4.5" fill="#ED9B2D" fill-opacity="0.5" stroke="#1c2830" stroke-opacity="0.6" stroke-width="0.95"/>
<circle cx="1091.10" cy="636.40" r="4.5" fill="#ED9B2D" fill-opacity="0.5" stroke="#1c2830" stroke-opacity="0.6" stroke-width="0.95"/>
<path d="M1027.80,550.00 L1027.92,550.70 L1028.04,551.40 L1028.19,552.10 L1028.36,552.80 L1028.55,553.50 L1028.77,554.20 L1029.02,554.90 L1029.26,555.60 L1029.51,556.30 L1029.78,557.00 L1030.06,557.70 L1030.35,558.40 L1030.62,559.10 L1030.85,559.80 L1031.02,560.50 L1031.11,561.20 L1031.15,561.90 L1031.15,562.60 L1031.15,563.30 L1031.15,564.00 L1031.15,564.70 L1031.15,565.40 L1031.15,566.10 L1031.15,566.80 L1031.15,567.50 L1031.15,568.20 L1031.15,568.90 L1031.15,569.60 L1031.15,570.30 L1031.15,571.00 L1031.15,571.70 L1031.15,572.40 L1031.15,573.10 L1031.15,573.80 L1031.15,574.50 L1031.15,575.20 L1031.15,575.90 L1031.15,576.60 L1031.14,577.30 L1031.09,578.00 L1030.97,578.70 L1030.78,579.40 L1030.57,580.10 L1030.35,580.80 L1030.11,581.50 L1029.82,582.20 L1029.46,582.90 L1029.01,583.60 L1028.46,584.30 L1027.84,585.00 L1027.17,585.70 L1026.48,586.40 L1025.79,587.10 L1025.10,587.80 L1024.39,588.50 L1023.64,589.20 L1022.89,589.90 L1022.15,590.60 L1021.44,591.30 L1020.79,592.00 L1020.19,592.70 L1019.63,593.40 L1019.09,594.10 L1018.57,594.80 L1018.09,595.50 L1017.63,596.20 L1017.21,596.90 L1016.80,597.60 L1016.41,598.30 L1016.04,599.00 L1015.69,599.70 L1015.37,600.40 L1015.09,601.10 L1014.84,601.80 L1014.61,602.50 L1014.40,603.20 L1014.20,603.90 L1014.04,604.60 L1013.91,605.30 L1013.81,606.00 L1013.74,606.70 L1013.67,607.40 L1013.62,608.10 L1013.57,608.80 L1013.54,609.50 L1013.52,610.20 L1013.51,610.90 L1013.56,611.60 L1013.67,612.30 L1013.86,613.00 L1014.10,613.70 L1014.40,614.40 L1014.74,615.10 L1015.10,615.80 L1015.51,616.50 L1015.98,617.20 L1016.58,617.90 L1017.30,618.60 L1018.12,619.30 L1018.88,620.00 L1019.40,620.30 L1043.40,620.30 L1043.92,620.00 L1044.68,619.30 L1045.50,618.60 L1046.22,617.90 L1046.82,617.20 L1047.29,616.50 L1047.70,615.80 L1048.06,615.10 L1048.40,614.40 L1048.70,613.70 L1048.94,613.00 L1049.13,612.30 L1049.24,611.60 L1049.29,610.90 L1049.28,610.20 L1049.26,609.50 L1049.23,608.80 L1049.18,608.10 L1049.13,607.40 L1049.06,606.70 L1048.99,606.00 L1048.89,605.30 L1048.76,604.60 L1048.60,603.90 L1048.40,603.20 L1048.19,602.50 L1047.96,601.80 L1047.71,601.10 L1047.43,600.40 L1047.11,599.70 L1046.76,599.00 L1046.39,598.30 L1046.00,597.60 L1045.59,596.90 L1045.17,596.20 L1044.71,595.50 L1044.23,594.80 L1043.71,594.10 L1043.17,593.40 L1042.61,592.70 L1042.01,592.00 L1041.36,591.30 L1040.65,590.60 L1039.91,589.90 L1039.16,589.20 L1038.41,588.50 L1037.70,587.80 L1037.01,587.10 L1036.32,586.40 L1035.63,585.70 L1034.96,585.00 L1034.34,584.30 L1033.79,583.60 L1033.34,582.90 L1032.98,582.20 L1032.69,581.50 L1032.45,580.80 L1032.23,580.10 L1032.02,579.40 L1031.83,578.70 L1031.71,578.00 L1031.66,577.30 L1031.65,576.60 L1031.65,575.90 L1031.65,575.20 L1031.65,574.50 L1031.65,573.80 L1031.65,573.10 L1031.65,572.40 L1031.65,571.70 L1031.65,571.00 L1031.65,570.30 L1031.65,569.60 L1031.65,568.90 L1031.65,568.20 L1031.65,567.50 L1031.65,566.80 L1031.65,566.10 L1031.65,565.40 L1031.65,564.70 L1031.65,564.00 L1031.65,563.30 L1031.65,562.60 L1031.65,561.90 L1031.69,561.20 L1031.78,560.50 L1031.95,559.80 L1032.18,559.10 L1032.45,558.40 L1032.74,557.70 L1033.02,557.00 L1033.29,556.30 L1033.54,555.60 L1033.78,554.90 L1034.03,554.20 L1034.25,553.50 L1034.44,552.80 L1034.61,552.10 L1034.76,551.40 L1034.88,550.70 L1035.00,550.00 Z" fill="#2D7091" fill-opacity="0.3" stroke="#2a2a2a" stroke-width="1.0" stroke-linejoin="round"/>
<path d="M1109.20,605.50 L1108.29,606.20 L1107.38,606.90 L1106.36,607.60 L1105.25,608.30 L1104.08,609.00 L1102.83,609.70 L1101.49,610.40 L1100.00,611.10 L1098.40,611.80 L1096.72,612.50 L1095.01,613.20 L1093.30,613.90 L1091.64,614.60 L1089.98,615.30 L1088.30,616.00 L1086.62,616.70 L1085.03,617.40 L1083.56,618.10 L1082.24,618.80 L1080.97,619.50 L1079.76,620.20 L1078.69,620.90 L1077.92,621.60 L1077.69,622.30 L1078.29,623.00 L1079.88,623.70 L1082.18,624.40 L1084.77,625.10 L1087.27,625.80 L1089.64,626.50 L1092.04,627.20 L1094.52,627.90 L1096.95,628.60 L1099.20,629.30 L1101.11,630.00 L1102.62,630.70 L1103.81,631.40 L1104.87,632.10 L1105.84,632.80 L1106.70,633.50 L1107.41,634.20 L1107.94,634.90 L1108.26,635.60 L1108.40,636.10 L1122.40,636.10 L1122.54,635.60 L1122.86,634.90 L1123.39,634.20 L1124.10,633.50 L1124.96,632.80 L1125.93,632.10 L1126.99,631.40 L1128.18,630.70 L1129.69,630.00 L1131.60,629.30 L1133.85,628.60 L1136.28,627.90 L1138.76,627.20 L1141.16,626.50 L1143.53,625.80 L1146.03,625.10 L1148.62,624.40 L1150.92,623.70 L1152.51,623.00 L1153.11,622.30 L1152.88,621.60 L1152.11,620.90 L1151.04,620.20 L1149.83,619.50 L1148.56,618.80 L1147.24,618.10 L1145.77,617.40 L1144.18,616.70 L1142.50,616.00 L1140.82,615.30 L1139.16,614.60 L1137.50,613.90 L1135.79,613.20 L1134.08,612.50 L1132.40,611.80 L1130.80,611.10 L1129.31,610.40 L1127.97,609.70 L1126.72,609.00 L1125.55,608.30 L1124.44,607.60 L1123.42,606.90 L1122.51,606.20 L1121.60,605.50 Z" fill="#ED9B2D" fill-opacity="0.3" stroke="#2a2a2a" stroke-width="1.0" stroke-linejoin="round"/>
</g>
<line x1="981.00" y1="545.45" x2="981.00" y2="641.60" stroke="#383838" stroke-width="1.3"/>
<line x1="980.45" y1="641.05" x2="1165.80" y2="641.05" stroke="#383838" stroke-width="1.3"/>
<line x1="977.70" y1="552.70" x2="981.00" y2="552.70" stroke="#383838" stroke-width="1.3"/>
<text x="974.60" y="557.00" font-size="12" text-anchor="end" fill="#111" color="#111">0.020</text>
<line x1="977.70" y1="579.70" x2="981.00" y2="579.70" stroke="#383838" stroke-width="1.3"/>
<text x="974.60" y="584.00" font-size="12" text-anchor="end" fill="#111" color="#111">0.015</text>
<line x1="977.70" y1="607.00" x2="981.00" y2="607.00" stroke="#383838" stroke-width="1.3"/>
<text x="974.60" y="611.30" font-size="12" text-anchor="end" fill="#111" color="#111">0.010</text>
<line x1="977.70" y1="634.00" x2="981.00" y2="634.00" stroke="#383838" stroke-width="1.3"/>
<text x="974.60" y="638.30" font-size="12" text-anchor="end" fill="#111" color="#111">0.005</text>
<line x1="1031.40" y1="641.05" x2="1031.40" y2="644.35" stroke="#383838" stroke-width="1.3"/>
<text x="1031.40" y="655.65" font-size="12" text-anchor="middle" fill="#111" color="#111">0</text>
<line x1="1115.40" y1="641.05" x2="1115.40" y2="644.35" stroke="#383838" stroke-width="1.3"/>
<text x="1115.40" y="655.65" font-size="12" text-anchor="middle" fill="#111" color="#111">1</text>
<text x="153.20" y="685.52" font-size="12" text-anchor="middle" fill="#111" color="#111">PWY 5188: tetrapyrrole</text>
<text x="153.20" y="698.35" font-size="12" text-anchor="middle" fill="#111" color="#111">biosynthesis I: from</text>
<text x="153.20" y="711.18" font-size="12" text-anchor="middle" fill="#111" color="#111">glutamate</text>
<clipPath id="cp10"><rect x="60.80" y="722.50" width="184.80" height="95.60"/></clipPath>
<g clip-path="url(#cp10)">
<circle cx="103.50" cy="727.00" r="4.5" fill="#2D7091" fill-opacity="0.5" stroke="#1c2830" stroke-opacity="0.6" stroke-width="0.95"/>
<circle cx="99.80" cy="759.20" r="4.5" fill="#2D7091" fill-opacity="0.5" stroke="#1c2830" stroke-opacity="0.6" stroke-width="0.95"/>
<circle cx="130.10" cy="760.80" r="4.5" fill="#2D7091" fill-opacity="0.5" stroke="#1c2830" stroke-opacity="0.6" stroke-width="0.95"/>
<circle cx="88.20" cy="762.70" r="4.5" fill="#2D7091" fill-opacity="0.5" stroke="#1c2830" stroke-opacity="0.6" stroke-width="0.95"/>
<circle cx="81.40" cy="766.40" r="4.5" fill="#2D7091" fill-opacity="0.5" stroke="#1c2830" stroke-opacity="0.6" stroke-width="0.95"/>
<circle cx="89.00" cy="767.50" r="4.5" fill="#2D7091" fill-opacity="0.5" stroke="#1c2830" stroke-opacity="0.6" stroke-width="0.95"/>
<circle cx="98.20" cy="774.50" r="4.5" fill="#2D7091" fill-opacity="0.5" stroke="#1c2830" stroke-opacity="0.6" stroke-width="0.95"/>
<circle cx="118.00" cy="779.90" r="4.5" fill="#2D7091" fill-opacity="0.5" stroke="#1c2830" stroke-opacity="0.6" stroke-width="0.95"/>
<circle cx="125.60" cy="785.60" r="4.5" fill="#2D7091" fill-opacity="0.5" stroke="#1c2830" stroke-opacity="0.6" stroke-width="0.95"/>
<circle cx="143.80" cy="777.20" r="4.5" fill="#2D7091" fill-opacity="0.5" stroke="#1c2830" stroke-opacity="0.6" stroke-width="0.95"/>
<circle cx="144.60" cy="783.60" r="4.5" fill="#2D7091" fill-opacity="0.5" stroke="#1c2830" stroke-opacity="0.6" stroke-width="0.95"/>
<circle cx="92.70" cy="813.40" r="4.5" fill="#2D7091" fill-opacity="0.5" stroke="#1c2830" stroke-opacity="0.6" stroke-width="0.95"/>
<circle cx="168.70" cy="771.60" r="4.5" fill="#ED9B2D" fill-opacity="0.5" stroke="#1c2830" stroke-opacity="0.6" stroke-width="0.95"/>
<circle cx="174.40" cy="772.70" r="4.5" fill="#ED9B2D" fill-opacity="0.5" stroke="#1c2830" stroke-opacity="0.6" stroke-width="0.95"/>
<circle cx="194.80" cy="775.90" r="4.5" fill="#ED9B2D" fill-opacity="0.5" stroke="#1c2830" stroke-opacity="0.6" stroke-width="0.95"/>
<circle cx="199.30" cy="772.70" r="4.5" fill="#ED9B2D" fill-opacity="0.5" stroke="#1c2830" stroke-opacity="0.6" stroke-width="0.95"/>
<circle cx="215.90" cy="770.40" r="4.5" fill="#ED9B2D" fill-opacity="0.5" stroke="#1c2830" stroke-opacity="0.6" stroke-width="0.95"/>
<circle cx="228.00" cy="777.20" r="4.5" fill="#ED9B2D" fill-opacity="0.5" stroke="#1c2830" stroke-opacity="0.6" stroke-width="0.95"/>
<circle cx="210.30" cy="782.00" r="4.5" fill="#ED9B2D" fill-opacity="0.5" stroke="#1c2830" stroke-opacity="0.6" stroke-width="0.95"/>
<circle cx="211.40" cy="786.90" r="4.5" fill="#ED9B2D" fill-opacity="0.5" stroke="#1c2830" stroke-opacity="0.6" stroke-width="0.95"/>
<circle cx="219.90" cy="782.80" r="4.5" fill="#ED9B2D" fill-opacity="0.5" stroke="#1c2830" stroke-opacity="0.6" stroke-width="0.95"/>
<circle cx="223.80" cy="792.20" r="4.5" fill="#ED9B2D" fill-opacity="0.5" stroke="#1c2830" stroke-opacity="0.6" stroke-width="0.95"/>
<circle cx="164.70" cy="788.00" r="4.5" fill="#ED9B2D" fill-opacity="0.5" stroke="#1c2830" stroke-opacity="0.6" stroke-width="0.95"/>
<circle cx="181.60" cy="794.90" r="4.5" fill="#ED9B2D" fill-opacity="0.5" stroke="#1c2830" stroke-opacity="0.6" stroke-width="0.95"/>
<circle cx="175.20" cy="800.90" r="4.5" fill="#ED9B2D" fill-opacity="0.5" stroke="#1c2830" stroke-opacity="0.6" stroke-width="0.95"/>
<path d="M106.40,727.00 L106.65,727.70 L106.88,728.40 L107.11,729.10 L107.34,729.80 L107.55,730.50 L107.75,731.20 L107.95,731.90 L108.13,732.60 L108.32,733.30 L108.52,734.00 L108.72,734.70 L108.91,735.40 L109.09,736.10 L109.26,736.80 L109.40,737.50 L109.53,738.20 L109.62,738.90 L109.67,739.60 L109.68,740.30 L109.65,741.00 L109.57,741.70 L109.45,742.40 L109.28,743.10 L109.09,743.80 L108.85,744.50 L108.50,745.20 L107.88,745.90 L106.93,746.60 L105.69,747.30 L104.26,748.00 L102.74,748.70 L101.21,749.40 L99.76,750.10 L98.48,750.80 L97.41,751.50 L96.48,752.20 L95.60,752.90 L94.75,753.60 L93.93,754.30 L93.15,755.00 L92.41,755.70 L91.71,756.40 L91.05,757.10 L90.45,757.80 L89.90,758.50 L89.41,759.20 L88.95,759.90 L88.51,760.60 L88.08,761.30 L87.65,762.00 L87.23,762.70 L86.84,763.40 L86.47,764.10 L86.12,764.80 L85.82,765.50 L85.55,766.20 L85.34,766.90 L85.17,767.60 L85.06,768.30 L85.02,769.00 L85.02,769.70 L85.06,770.40 L85.13,771.10 L85.22,771.80 L85.34,772.50 L85.48,773.20 L85.64,773.90 L85.82,774.60 L86.01,775.30 L86.22,776.00 L86.44,776.70 L86.71,777.40 L87.06,778.10 L87.52,778.80 L88.10,779.50 L88.76,780.20 L89.51,780.90 L90.31,781.60 L91.15,782.30 L92.01,783.00 L92.88,783.70 L93.74,784.40 L94.59,785.10 L95.48,785.80 L96.46,786.50 L97.52,787.20 L98.63,787.90 L99.78,788.60 L100.91,789.30 L101.99,790.00 L103.00,790.70 L103.90,791.40 L104.66,792.10 L105.25,792.80 L105.67,793.50 L106.01,794.20 L106.32,794.90 L106.60,795.60 L106.85,796.30 L107.07,797.00 L107.25,797.70 L107.38,798.40 L107.46,799.10 L107.49,799.80 L107.49,800.50 L107.47,801.20 L107.43,801.90 L107.39,802.60 L107.34,803.30 L107.28,804.00 L107.22,804.70 L107.15,805.40 L107.08,806.10 L107.00,806.80 L106.93,807.50 L106.85,808.20 L106.77,808.90 L106.67,809.60 L106.56,810.30 L106.44,811.00 L106.32,811.70 L106.19,812.40 L106.08,813.10 L106.00,813.40 L116.40,813.40 L116.32,813.10 L116.21,812.40 L116.08,811.70 L115.96,811.00 L115.84,810.30 L115.73,809.60 L115.63,808.90 L115.55,808.20 L115.47,807.50 L115.40,806.80 L115.32,806.10 L115.25,805.40 L115.18,804.70 L115.12,804.00 L115.06,803.30 L115.01,802.60 L114.97,801.90 L114.93,801.20 L114.91,800.50 L114.91,799.80 L114.94,799.10 L115.02,798.40 L115.15,797.70 L115.33,797.00 L115.55,796.30 L115.80,795.60 L116.08,794.90 L116.39,794.20 L116.73,793.50 L117.15,792.80 L117.74,792.10 L118.50,791.40 L119.40,790.70 L120.41,790.00 L121.49,789.30 L122.62,788.60 L123.77,787.90 L124.88,787.20 L125.94,786.50 L126.92,785.80 L127.81,785.10 L128.66,784.40 L129.52,783.70 L130.39,783.00 L131.25,782.30 L132.09,781.60 L132.89,780.90 L133.64,780.20 L134.30,779.50 L134.88,778.80 L135.34,778.10 L135.69,777.40 L135.96,776.70 L136.18,776.00 L136.39,775.30 L136.58,774.60 L136.76,773.90 L136.92,773.20 L137.06,772.50 L137.18,771.80 L137.27,771.10 L137.34,770.40 L137.38,769.70 L137.38,769.00 L137.34,768.30 L137.23,767.60 L137.06,766.90 L136.85,766.20 L136.58,765.50 L136.28,764.80 L135.93,764.10 L135.56,763.40 L135.17,762.70 L134.75,762.00 L134.32,761.30 L133.89,760.60 L133.45,759.90 L132.99,759.20 L132.50,758.50 L131.95,757.80 L131.35,757.10 L130.69,756.40 L129.99,755.70 L129.25,755.00 L128.47,754.30 L127.65,753.60 L126.80,752.90 L125.92,752.20 L124.99,751.50 L123.92,750.80 L122.64,750.10 L121.19,749.40 L119.66,748.70 L118.14,748.00 L116.71,747.30 L115.47,746.60 L114.52,745.90 L113.90,745.20 L113.55,744.50 L113.31,743.80 L113.12,743.10 L112.95,742.40 L112.83,741.70 L112.75,741.00 L112.72,740.30 L112.73,739.60 L112.78,738.90 L112.87,738.20 L113.00,737.50 L113.14,736.80 L113.31,736.10 L113.49,735.40 L113.68,734.70 L113.88,734.00 L114.08,733.30 L114.27,732.60 L114.45,731.90 L114.65,731.20 L114.85,730.50 L115.06,729.80 L115.29,729.10 L115.52,728.40 L115.75,727.70 L116.00,727.00 Z" fill="#2D7091" fill-opacity="0.3" stroke="#2a2a2a" stroke-width="1.0" stroke-linejoin="round"/>
<path d="M163.40,770.40 L161.74,771.10 L160.29,771.80 L159.01,772.50 L158.09,773.20 L157.64,773.90 L157.54,774.60 L157.57,775.30 L157.64,776.00 L157.74,776.70 L157.86,777.40 L158.00,778.10 L158.17,778.80 L158.35,779.50 L158.56,780.20 L158.85,780.90 L159.29,781.60 L159.88,782.30 L160.59,783.00 L161.39,783.70 L162.26,784.40 L163.16,785.10 L164.05,785.80 L164.91,786.50 L165.74,787.20 L166.57,787.90 L167.40,788.60 L168.26,789.30 L169.13,790.00 L170.01,790.70 L170.90,791.40 L171.81,792.10 L172.72,792.80 L173.64,793.50 L174.57,794.20 L175.50,794.90 L176.44,795.60 L177.39,796.30 L178.35,797.00 L179.33,797.70 L180.31,798.40 L181.30,799.10 L182.30,799.80 L183.21,800.50 L183.90,800.90 L206.50,800.90 L207.19,800.50 L208.10,799.80 L209.10,799.10 L210.09,798.40 L211.07,797.70 L212.05,797.00 L213.01,796.30 L213.96,795.60 L214.90,794.90 L215.83,794.20 L216.76,793.50 L217.68,792.80 L218.59,792.10 L219.50,791.40 L220.39,790.70 L221.27,790.00 L222.14,789.30 L223.00,788.60 L223.83,787.90 L224.66,787.20 L225.49,786.50 L226.35,785.80 L227.24,785.10 L228.14,784.40 L229.01,783.70 L229.81,783.00 L230.52,782.30 L231.11,781.60 L231.55,780.90 L231.84,780.20 L232.05,779.50 L232.23,778.80 L232.40,778.10 L232.54,777.40 L232.66,776.70 L232.76,776.00 L232.83,775.30 L232.86,774.60 L232.76,773.90 L232.31,773.20 L231.39,772.50 L230.11,771.80 L228.66,771.10 L227.00,770.40 Z" fill="#ED9B2D" fill-opacity="0.3" stroke="#2a2a2a" stroke-width="1.0" stroke-linejoin="round"/>
</g>
<line x1="60.80" y1="722.50" x2="60.80" y2="818.65" stroke="#383838" stroke-width="1.3"/>
<line x1="60.25" y1="818.10" x2="245.60" y2="818.10" stroke="#383838" stroke-width="1.3"/>
<line x1="57.50" y1="725.20" x2="60.80" y2="725.20" stroke="#383838" stroke-width="1.3"/>
<text x="54.40" y="729.50" font-size="12" text-anchor="end" fill="#111" color="#111">0.0125</text>
<line x1="57.50" y1="742.90" x2="60.80" y2="742.90" stroke="#383838" stroke-width="1.3"/>
<text x="54.40" y="747.20" font-size="12" text-anchor="end" fill="#111" color="#111">0.0100</text>
<line x1="57.50" y1="760.80" x2="60.80" y2="760.80" stroke="#383838" stroke-width="1.3"/>
<text x="54.40" y="765.10" font-size="12" text-anchor="end" fill="#111" color="#111">0.0075</text>
<line x1="57.50" y1="778.00" x2="60.80" y2="778.00" stroke="#383838" stroke-width="1.3"/>
<text x="54.40" y="782.30" font-size="12" text-anchor="end" fill="#111" color="#111">0.0050</text>
<line x1="57.50" y1="795.70" x2="60.80" y2="795.70" stroke="#383838" stroke-width="1.3"/>
<text x="54.40" y="800.00" font-size="12" text-anchor="end" fill="#111" color="#111">0.0025</text>
<line x1="57.50" y1="813.40" x2="60.80" y2="813.40" stroke="#383838" stroke-width="1.3"/>
<text x="54.40" y="817.70" font-size="12" text-anchor="end" fill="#111" color="#111">0.0000</text>
<line x1="111.20" y1="818.10" x2="111.20" y2="821.40" stroke="#383838" stroke-width="1.3"/>
<text x="111.20" y="832.70" font-size="12" text-anchor="middle" fill="#111" color="#111">0</text>
<line x1="195.20" y1="818.10" x2="195.20" y2="821.40" stroke="#383838" stroke-width="1.3"/>
<text x="195.20" y="832.70" font-size="12" text-anchor="middle" fill="#111" color="#111">1</text>
<text x="381.80" y="685.52" font-size="12" text-anchor="middle" fill="#111" color="#111">PWY 6545: pyrimidine</text>
<text x="381.80" y="698.35" font-size="12" text-anchor="middle" fill="#111" color="#111">deoxyribonucleotides de</text>
<text x="381.80" y="711.18" font-size="12" text-anchor="middle" fill="#111" color="#111">novo biosynthesis III</text>
<clipPath id="cp11"><rect x="289.40" y="722.50" width="184.80" height="95.60"/></clipPath>
<g clip-path="url(#cp11)">
<circle cx="359.10" cy="727.00" r="4.5" fill="#2D7091" fill-opacity="0.5" stroke="#1c2830" stroke-opacity="0.6" stroke-width="0.95"/>
<circle cx="340.20" cy="760.30" r="4.5" fill="#2D7091" fill-opacity="0.5" stroke="#1c2830" stroke-opacity="0.6" stroke-width="0.95"/>
<circle cx="314.80" cy="801.30" r="4.5" fill="#2D7091" fill-opacity="0.5" stroke="#1c2830" stroke-opacity="0.6" stroke-width="0.95"/>
<circle cx="309.20" cy="804.60" r="4.5" fill="#2D7091" fill-opacity="0.5" stroke="#1c2830" stroke-opacity="0.6" stroke-width="0.95"/>
<circle cx="350.20" cy="802.60" r="4.5" fill="#2D7091" fill-opacity="0.5" stroke="#1c2830" stroke-opacity="0.6" stroke-width="0.95"/>
<circle cx="310.80" cy="813.40" r="4.5" fill="#2D7091" fill-opacity="0.5" stroke="#1c2830" stroke-opacity="0.6" stroke-width="0.95"/>
<circle cx="315.60" cy="813.40" r="4.5" fill="#2D7091" fill-opacity="0.5" stroke="#1c2830" stroke-opacity="0.6" stroke-width="0.95"/>
<circle cx="320.40" cy="813.40" r="4.5" fill="#2D7091" fill-opacity="0.5" stroke="#1c2830" stroke-opacity="0.6" stroke-width="0.95"/>
<circle cx="341.40" cy="813.40" r="4.5" fill="#2D7091" fill-opacity="0.5" stroke="#1c2830" stroke-opacity="0.6" stroke-width="0.95"/>
<circle cx="342.20" cy="813.40" r="4.5" fill="#2D7091" fill-opacity="0.5" stroke="#1c2830" stroke-opacity="0.6" stroke-width="0.95"/>
<circle cx="345.40" cy="813.40" r="4.5" fill="#2D7091" fill-opacity="0.5" stroke="#1c2830" stroke-opacity="0.6" stroke-width="0.95"/>
<circle cx="394.00" cy="772.70" r="4.5" fill="#ED9B2D" fill-opacity="0.5" stroke="#1c2830" stroke-opacity="0.6" stroke-width="0.95"/>
<circle cx="427.50" cy="774.30" r="4.5" fill="#ED9B2D" fill-opacity="0.5" stroke="#1c2830" stroke-opacity="0.6" stroke-width="0.95"/>
<circle cx="456.00" cy="772.70" r="4.5" fill="#ED9B2D" fill-opacity="0.5" stroke="#1c2830" stroke-opacity="0.6" stroke-width="0.95"/>
<circle cx="413.00" cy="783.60" r="4.5" fill="#ED9B2D" fill-opacity="0.5" stroke="#1c2830" stroke-opacity="0.6" stroke-width="0.95"/>
<circle cx="402.90" cy="793.00" r="4.5" fill="#ED9B2D" fill-opacity="0.5" stroke="#1c2830" stroke-opacity="0.6" stroke-width="0.95"/>
<circle cx="392.90" cy="798.60" r="4.5" fill="#ED9B2D" fill-opacity="0.5" stroke="#1c2830" stroke-opacity="0.6" stroke-width="0.95"/>
<circle cx="423.50" cy="795.40" r="4.5" fill="#ED9B2D" fill-opacity="0.5" stroke="#1c2830" stroke-opacity="0.6" stroke-width="0.95"/>
<circle cx="433.10" cy="793.00" r="4.5" fill="#ED9B2D" fill-opacity="0.5" stroke="#1c2830" stroke-opacity="0.6" stroke-width="0.95"/>
<circle cx="443.60" cy="792.50" r="4.5" fill="#ED9B2D" fill-opacity="0.5" stroke="#1c2830" stroke-opacity="0.6" stroke-width="0.95"/>
<circle cx="413.00" cy="801.30" r="4.5" fill="#ED9B2D" fill-opacity="0.5" stroke="#1c2830" stroke-opacity="0.6" stroke-width="0.95"/>
<circle cx="419.50" cy="800.50" r="4.5" fill="#ED9B2D" fill-opacity="0.5" stroke="#1c2830" stroke-opacity="0.6" stroke-width="0.95"/>
<circle cx="403.00" cy="813.40" r="4.5" fill="#ED9B2D" fill-opacity="0.5" stroke="#1c2830" stroke-opacity="0.6" stroke-width="0.95"/>
<circle cx="443.90" cy="813.40" r="4.5" fill="#ED9B2D" fill-opacity="0.5" stroke="#1c2830" stroke-opacity="0.6" stroke-width="0.95"/>
<path d="M334.20,727.30 L334.69,728.00 L335.15,728.70 L335.61,729.40 L336.06,730.10 L336.50,730.80 L336.94,731.50 L337.38,732.20 L337.85,732.90 L338.36,733.60 L338.83,734.30 L339.21,735.00 L339.45,735.70 L339.53,736.40 L339.55,737.10 L339.54,737.80 L339.53,738.50 L339.52,739.20 L339.50,739.90 L339.49,740.60 L339.46,741.30 L339.44,742.00 L339.41,742.70 L339.38,743.40 L339.35,744.10 L339.31,744.80 L339.28,745.50 L339.23,746.20 L339.19,746.90 L339.14,747.60 L339.08,748.30 L338.97,749.00 L338.80,749.70 L338.57,750.40 L338.31,751.10 L338.01,751.80 L337.70,752.50 L337.39,753.20 L337.09,753.90 L336.80,754.60 L336.49,755.30 L336.16,756.00 L335.81,756.70 L335.47,757.40 L335.15,758.10 L334.89,758.80 L334.72,759.50 L334.65,760.20 L334.73,760.90 L334.98,761.60 L335.36,762.30 L335.83,763.00 L336.35,763.70 L336.87,764.40 L337.34,765.10 L337.73,765.80 L338.08,766.50 L338.41,767.20 L338.73,767.90 L339.03,768.60 L339.27,769.30 L339.44,770.00 L339.53,770.70 L339.55,771.40 L339.55,772.10 L339.55,772.80 L339.55,773.50 L339.55,774.20 L339.55,774.90 L339.55,775.60 L339.55,776.30 L339.55,777.00 L339.55,777.70 L339.55,778.40 L339.55,779.10 L339.55,779.80 L339.55,780.50 L339.55,781.20 L339.55,781.90 L339.55,782.60 L339.55,783.30 L339.55,784.00 L339.55,784.70 L339.55,785.40 L339.55,786.10 L339.55,786.80 L339.55,787.50 L339.55,788.20 L339.55,788.90 L339.54,789.60 L339.49,790.30 L339.30,791.00 L338.95,791.70 L338.48,792.40 L337.93,793.10 L337.30,793.80 L336.51,794.50 L335.56,795.20 L334.49,795.90 L333.34,796.60 L332.16,797.30 L330.96,798.00 L329.75,798.70 L328.49,799.40 L327.18,800.10 L325.81,800.80 L324.41,801.50 L322.98,802.20 L321.55,802.90 L320.12,803.60 L318.71,804.30 L317.30,805.00 L315.89,805.70 L314.48,806.40 L313.06,807.10 L311.64,807.80 L310.22,808.50 L308.77,809.20 L307.18,809.90 L305.46,810.60 L303.83,811.30 L302.66,812.00 L302.13,812.70 L302.01,813.40 L302.00,813.40 L377.60,813.40 L377.59,813.40 L377.47,812.70 L376.94,812.00 L375.77,811.30 L374.14,810.60 L372.42,809.90 L370.83,809.20 L369.38,808.50 L367.96,807.80 L366.54,807.10 L365.12,806.40 L363.71,805.70 L362.30,805.00 L360.89,804.30 L359.48,803.60 L358.05,802.90 L356.62,802.20 L355.19,801.50 L353.79,800.80 L352.42,800.10 L351.11,799.40 L349.85,798.70 L348.64,798.00 L347.44,797.30 L346.26,796.60 L345.11,795.90 L344.04,795.20 L343.09,794.50 L342.30,793.80 L341.67,793.10 L341.12,792.40 L340.65,791.70 L340.30,791.00 L340.11,790.30 L340.06,789.60 L340.05,788.90 L340.05,788.20 L340.05,787.50 L340.05,786.80 L340.05,786.10 L340.05,785.40 L340.05,784.70 L340.05,784.00 L340.05,783.30 L340.05,782.60 L340.05,781.90 L340.05,781.20 L340.05,780.50 L340.05,779.80 L340.05,779.10 L340.05,778.40 L340.05,777.70 L340.05,777.00 L340.05,776.30 L340.05,775.60 L340.05,774.90 L340.05,774.20 L340.05,773.50 L340.05,772.80 L340.05,772.10 L340.05,771.40 L340.07,770.70 L340.16,770.00 L340.33,769.30 L340.57,768.60 L340.87,767.90 L341.19,767.20 L341.52,766.50 L341.87,765.80 L342.26,765.10 L342.73,764.40 L343.25,763.70 L343.77,763.00 L344.24,762.30 L344.62,761.60 L344.87,760.90 L344.95,760.20 L344.88,759.50 L344.71,758.80 L344.45,758.10 L344.13,757.40 L343.79,756.70 L343.44,756.00 L343.11,755.30 L342.80,754.60 L342.51,753.90 L342.21,753.20 L341.90,752.50 L341.59,751.80 L341.29,751.10 L341.03,750.40 L340.80,749.70 L340.63,749.00 L340.52,748.30 L340.46,747.60 L340.41,746.90 L340.37,746.20 L340.32,745.50 L340.29,744.80 L340.25,744.10 L340.22,743.40 L340.19,742.70 L340.16,742.00 L340.14,741.30 L340.11,740.60 L340.10,739.90 L340.08,739.20 L340.07,738.50 L340.06,737.80 L340.05,737.10 L340.07,736.40 L340.15,735.70 L340.39,735.00 L340.77,734.30 L341.24,733.60 L341.75,732.90 L342.22,732.20 L342.66,731.50 L343.10,730.80 L343.54,730.10 L343.99,729.40 L344.45,728.70 L344.91,728.00 L345.40,727.30 Z" fill="#2D7091" fill-opacity="0.3" stroke="#2a2a2a" stroke-width="1.0" stroke-linejoin="round"/>
<path d="M412.40,772.70 L412.71,773.40 L412.94,774.10 L413.11,774.80 L413.21,775.50 L413.27,776.20 L413.28,776.90 L413.23,777.60 L413.08,778.30 L412.80,779.00 L412.41,779.70 L411.94,780.40 L411.41,781.10 L410.83,781.80 L410.24,782.50 L409.63,783.20 L408.99,783.90 L408.23,784.60 L407.35,785.30 L406.38,786.00 L405.36,786.70 L404.35,787.40 L403.39,788.10 L402.53,788.80 L401.82,789.50 L401.26,790.20 L400.80,790.90 L400.38,791.60 L399.99,792.30 L399.67,793.00 L399.42,793.70 L399.28,794.40 L399.31,795.10 L399.58,795.80 L400.12,796.50 L400.86,797.20 L401.74,797.90 L402.67,798.60 L403.59,799.30 L404.51,800.00 L405.52,800.70 L406.65,801.40 L407.85,802.10 L409.06,802.80 L410.23,803.50 L411.30,804.20 L412.19,804.90 L412.86,805.60 L413.30,806.30 L413.59,807.00 L413.84,807.70 L414.06,808.40 L414.26,809.10 L414.44,809.80 L414.59,810.50 L414.71,811.20 L414.81,811.90 L414.86,812.60 L414.89,813.30 L414.90,813.40 L432.70,813.40 L432.71,813.30 L432.74,812.60 L432.79,811.90 L432.89,811.20 L433.01,810.50 L433.16,809.80 L433.34,809.10 L433.54,808.40 L433.76,807.70 L434.01,807.00 L434.30,806.30 L434.74,805.60 L435.41,804.90 L436.30,804.20 L437.37,803.50 L438.54,802.80 L439.75,802.10 L440.95,801.40 L442.08,800.70 L443.09,800.00 L444.01,799.30 L444.93,798.60 L445.86,797.90 L446.74,797.20 L447.48,796.50 L448.02,795.80 L448.29,795.10 L448.32,794.40 L448.18,793.70 L447.93,793.00 L447.61,792.30 L447.22,791.60 L446.80,790.90 L446.34,790.20 L445.78,789.50 L445.07,788.80 L444.21,788.10 L443.25,787.40 L442.24,786.70 L441.22,786.00 L440.25,785.30 L439.37,784.60 L438.61,783.90 L437.97,783.20 L437.36,782.50 L436.77,781.80 L436.19,781.10 L435.66,780.40 L435.19,779.70 L434.80,779.00 L434.52,778.30 L434.37,777.60 L434.32,776.90 L434.33,776.20 L434.39,775.50 L434.49,774.80 L434.66,774.10 L434.89,773.40 L435.20,772.70 Z" fill="#ED9B2D" fill-opacity="0.3" stroke="#2a2a2a" stroke-width="1.0" stroke-linejoin="round"/>
</g>
<line x1="289.40" y1="722.50" x2="289.40" y2="818.65" stroke="#383838" stroke-width="1.3"/>
<line x1="288.85" y1="818.10" x2="474.20" y2="818.10" stroke="#383838" stroke-width="1.3"/>
<line x1="286.10" y1="727.30" x2="289.40" y2="727.30" stroke="#383838" stroke-width="1.3"/>
<text x="283.00" y="731.60" font-size="12" text-anchor="end" fill="#111" color="#111">0.005</text>
<line x1="286.10" y1="744.70" x2="289.40" y2="744.70" stroke="#383838" stroke-width="1.3"/>
<text x="283.00" y="749.00" font-size="12" text-anchor="end" fill="#111" color="#111">0.004</text>
<line x1="286.10" y1="761.90" x2="289.40" y2="761.90" stroke="#383838" stroke-width="1.3"/>
<text x="283.00" y="766.20" font-size="12" text-anchor="end" fill="#111" color="#111">0.003</text>
<line x1="286.10" y1="779.30" x2="289.40" y2="779.30" stroke="#383838" stroke-width="1.3"/>
<text x="283.00" y="783.60" font-size="12" text-anchor="end" fill="#111" color="#111">0.002</text>
<line x1="286.10" y1="796.50" x2="289.40" y2="796.50" stroke="#383838" stroke-width="1.3"/>
<text x="283.00" y="800.80" font-size="12" text-anchor="end" fill="#111" color="#111">0.001</text>
<line x1="286.10" y1="813.40" x2="289.40" y2="813.40" stroke="#383838" stroke-width="1.3"/>
<text x="283.00" y="817.70" font-size="12" text-anchor="end" fill="#111" color="#111">0.000</text>
<line x1="339.80" y1="818.10" x2="339.80" y2="821.40" stroke="#383838" stroke-width="1.3"/>
<text x="339.80" y="832.70" font-size="12" text-anchor="middle" fill="#111" color="#111">0</text>
<line x1="423.80" y1="818.10" x2="423.80" y2="821.40" stroke="#383838" stroke-width="1.3"/>
<text x="423.80" y="832.70" font-size="12" text-anchor="middle" fill="#111" color="#111">1</text>
<text x="616.90" y="685.52" font-size="12" text-anchor="middle" fill="#111" color="#111">PWY 6628: superpathway</text>
<text x="616.90" y="698.35" font-size="12" text-anchor="middle" fill="#111" color="#111">of L phenylalanine</text>
<text x="616.90" y="711.18" font-size="12" text-anchor="middle" fill="#111" color="#111">biosynthesis</text>
<clipPath id="cp12"><rect x="524.50" y="722.50" width="184.80" height="95.60"/></clipPath>
<g clip-path="url(#cp12)">
<circle cx="578.30" cy="727.00" r="4.5" fill="#2D7091" fill-opacity="0.5" stroke="#1c2830" stroke-opacity="0.6" stroke-width="0.95"/>
<circle cx="592.90" cy="748.20" r="4.5" fill="#2D7091" fill-opacity="0.5" stroke="#1c2830" stroke-opacity="0.6" stroke-width="0.95"/>
<circle cx="545.30" cy="775.60" r="4.5" fill="#2D7091" fill-opacity="0.5" stroke="#1c2830" stroke-opacity="0.6" stroke-width="0.95"/>
<circle cx="583.90" cy="780.70" r="4.5" fill="#2D7091" fill-opacity="0.5" stroke="#1c2830" stroke-opacity="0.6" stroke-width="0.95"/>
<circle cx="542.90" cy="813.40" r="4.5" fill="#2D7091" fill-opacity="0.5" stroke="#1c2830" stroke-opacity="0.6" stroke-width="0.95"/>
<circle cx="551.40" cy="813.40" r="4.5" fill="#2D7091" fill-opacity="0.5" stroke="#1c2830" stroke-opacity="0.6" stroke-width="0.95"/>
<circle cx="553.80" cy="813.40" r="4.5" fill="#2D7091" fill-opacity="0.5" stroke="#1c2830" stroke-opacity="0.6" stroke-width="0.95"/>
<circle cx="555.40" cy="813.40" r="4.5" fill="#2D7091" fill-opacity="0.5" stroke="#1c2830" stroke-opacity="0.6" stroke-width="0.95"/>
<circle cx="568.30" cy="813.40" r="4.5" fill="#2D7091" fill-opacity="0.5" stroke="#1c2830" stroke-opacity="0.6" stroke-width="0.95"/>
<circle cx="571.50" cy="813.40" r="4.5" fill="#2D7091" fill-opacity="0.5" stroke="#1c2830" stroke-opacity="0.6" stroke-width="0.95"/>
<circle cx="574.80" cy="813.40" r="4.5" fill="#2D7091" fill-opacity="0.5" stroke="#1c2830" stroke-opacity="0.6" stroke-width="0.95"/>
<circle cx="592.00" cy="813.40" r="4.5" fill="#2D7091" fill-opacity="0.5" stroke="#1c2830" stroke-opacity="0.6" stroke-width="0.95"/>
<circle cx="602.10" cy="813.40" r="4.5" fill="#2D7091" fill-opacity="0.5" stroke="#1c2830" stroke-opacity="0.6" stroke-width="0.95"/>
<circle cx="658.50" cy="797.30" r="4.5" fill="#ED9B2D" fill-opacity="0.5" stroke="#1c2830" stroke-opacity="0.6" stroke-width="0.95"/>
<circle cx="629.50" cy="813.40" r="4.5" fill="#ED9B2D" fill-opacity="0.5" stroke="#1c2830" stroke-opacity="0.6" stroke-width="0.95"/>
<circle cx="635.90" cy="813.40" r="4.5" fill="#ED9B2D" fill-opacity="0.5" stroke="#1c2830" stroke-opacity="0.6" stroke-width="0.95"/>
<circle cx="640.00" cy="813.40" r="4.5" fill="#ED9B2D" fill-opacity="0.5" stroke="#1c2830" stroke-opacity="0.6" stroke-width="0.95"/>
<circle cx="652.90" cy="813.40" r="4.5" fill="#ED9B2D" fill-opacity="0.5" stroke="#1c2830" stroke-opacity="0.6" stroke-width="0.95"/>
<circle cx="664.10" cy="813.40" r="4.5" fill="#ED9B2D" fill-opacity="0.5" stroke="#1c2830" stroke-opacity="0.6" stroke-width="0.95"/>
<circle cx="667.30" cy="813.40" r="4.5" fill="#ED9B2D" fill-opacity="0.5" stroke="#1c2830" stroke-opacity="0.6" stroke-width="0.95"/>
<circle cx="672.20" cy="813.40" r="4.5" fill="#ED9B2D" fill-opacity="0.5" stroke="#1c2830" stroke-opacity="0.6" stroke-width="0.95"/>
<circle cx="681.80" cy="813.40" r="4.5" fill="#ED9B2D" fill-opacity="0.5" stroke="#1c2830" stroke-opacity="0.6" stroke-width="0.95"/>
<circle cx="689.90" cy="813.40" r="4.5" fill="#ED9B2D" fill-opacity="0.5" stroke="#1c2830" stroke-opacity="0.6" stroke-width="0.95"/>
<path d="M573.70,727.00 L573.70,727.70 L573.70,728.40 L573.70,729.10 L573.70,729.80 L573.70,730.50 L573.70,731.20 L573.70,731.90 L573.70,732.60 L573.70,733.30 L573.70,734.00 L573.70,734.70 L573.70,735.40 L573.70,736.10 L573.70,736.80 L573.70,737.50 L573.70,738.20 L573.70,738.90 L573.70,739.60 L573.70,740.30 L573.70,741.00 L573.70,741.70 L573.70,742.40 L573.70,743.10 L573.70,743.80 L573.70,744.50 L573.70,745.20 L573.70,745.90 L573.70,746.60 L573.70,747.30 L573.70,748.00 L573.70,748.70 L573.70,749.40 L573.69,750.10 L573.68,750.80 L573.67,751.50 L573.66,752.20 L573.65,752.90 L573.64,753.60 L573.62,754.30 L573.60,755.00 L573.59,755.70 L573.57,756.40 L573.55,757.10 L573.53,757.80 L573.51,758.50 L573.48,759.20 L573.46,759.90 L573.44,760.60 L573.42,761.30 L573.39,762.00 L573.37,762.70 L573.35,763.40 L573.33,764.10 L573.31,764.80 L573.29,765.50 L573.26,766.20 L573.24,766.90 L573.22,767.60 L573.20,768.30 L573.18,769.00 L573.16,769.70 L573.13,770.40 L573.11,771.10 L573.08,771.80 L573.06,772.50 L573.03,773.20 L573.01,773.90 L572.98,774.60 L572.95,775.30 L572.92,776.00 L572.89,776.70 L572.86,777.40 L572.82,778.10 L572.79,778.80 L572.75,779.50 L572.71,780.20 L572.67,780.90 L572.62,781.60 L572.57,782.30 L572.51,783.00 L572.45,783.70 L572.38,784.40 L572.32,785.10 L572.24,785.80 L572.17,786.50 L572.09,787.20 L572.01,787.90 L571.93,788.60 L571.85,789.30 L571.77,790.00 L571.69,790.70 L571.61,791.40 L571.53,792.10 L571.45,792.80 L571.38,793.50 L571.30,794.20 L571.21,794.90 L571.13,795.60 L571.04,796.30 L570.95,797.00 L570.86,797.70 L570.77,798.40 L570.68,799.10 L570.60,799.80 L570.52,800.50 L570.45,801.20 L570.39,801.90 L570.33,802.60 L570.28,803.30 L570.23,804.00 L570.19,804.70 L570.15,805.40 L570.11,806.10 L570.07,806.80 L570.04,807.50 L570.02,808.20 L570.01,808.90 L570.00,809.60 L570.01,810.30 L570.02,811.00 L570.03,811.70 L570.06,812.40 L570.08,813.10 L570.10,813.40 L579.70,813.40 L579.72,813.10 L579.74,812.40 L579.77,811.70 L579.78,811.00 L579.79,810.30 L579.80,809.60 L579.79,808.90 L579.78,808.20 L579.76,807.50 L579.73,806.80 L579.69,806.10 L579.65,805.40 L579.61,804.70 L579.57,804.00 L579.52,803.30 L579.47,802.60 L579.41,801.90 L579.35,801.20 L579.28,800.50 L579.20,799.80 L579.12,799.10 L579.03,798.40 L578.94,797.70 L578.85,797.00 L578.76,796.30 L578.67,795.60 L578.59,794.90 L578.50,794.20 L578.42,793.50 L578.35,792.80 L578.27,792.10 L578.19,791.40 L578.11,790.70 L578.03,790.00 L577.95,789.30 L577.87,788.60 L577.79,787.90 L577.71,787.20 L577.63,786.50 L577.56,785.80 L577.48,785.10 L577.42,784.40 L577.35,783.70 L577.29,783.00 L577.23,782.30 L577.18,781.60 L577.13,780.90 L577.09,780.20 L577.05,779.50 L577.01,778.80 L576.98,778.10 L576.94,777.40 L576.91,776.70 L576.88,776.00 L576.85,775.30 L576.82,774.60 L576.79,773.90 L576.77,773.20 L576.74,772.50 L576.72,771.80 L576.69,771.10 L576.67,770.40 L576.64,769.70 L576.62,769.00 L576.60,768.30 L576.58,767.60 L576.56,766.90 L576.54,766.20 L576.51,765.50 L576.49,764.80 L576.47,764.10 L576.45,763.40 L576.43,762.70 L576.41,762.00 L576.38,761.30 L576.36,760.60 L576.34,759.90 L576.32,759.20 L576.29,758.50 L576.27,757.80 L576.25,757.10 L576.23,756.40 L576.21,755.70 L576.20,755.00 L576.18,754.30 L576.16,753.60 L576.15,752.90 L576.14,752.20 L576.13,751.50 L576.12,750.80 L576.11,750.10 L576.10,749.40 L576.10,748.70 L576.10,748.00 L576.10,747.30 L576.10,746.60 L576.10,745.90 L576.10,745.20 L576.10,744.50 L576.10,743.80 L576.10,743.10 L576.10,742.40 L576.10,741.70 L576.10,741.00 L576.10,740.30 L576.10,739.60 L576.10,738.90 L576.10,738.20 L576.10,737.50 L576.10,736.80 L576.10,736.10 L576.10,735.40 L576.10,734.70 L576.10,734.00 L576.10,733.30 L576.10,732.60 L576.10,731.90 L576.10,731.20 L576.10,730.50 L576.10,729.80 L576.10,729.10 L576.10,728.40 L576.10,727.70 L576.10,727.00 Z" fill="#2D7091" fill-opacity="0.3" stroke="#2a2a2a" stroke-width="1.0" stroke-linejoin="round"/>
<path d="M656.10,798.40 L656.72,799.10 L657.24,799.80 L657.63,800.50 L657.84,801.20 L657.89,801.90 L657.89,802.60 L657.87,803.30 L657.84,804.00 L657.80,804.70 L657.65,805.40 L656.69,806.10 L653.63,806.80 L648.21,807.50 L641.45,808.20 L635.42,808.90 L631.02,809.60 L627.68,810.30 L624.99,811.00 L622.82,811.70 L621.59,812.40 L621.75,813.10 L622.90,813.60 L694.90,813.60 L696.05,813.10 L696.21,812.40 L694.98,811.70 L692.81,811.00 L690.12,810.30 L686.78,809.60 L682.38,808.90 L676.35,808.20 L669.59,807.50 L664.17,806.80 L661.11,806.10 L660.15,805.40 L660.00,804.70 L659.96,804.00 L659.93,803.30 L659.91,802.60 L659.91,801.90 L659.96,801.20 L660.17,800.50 L660.56,799.80 L661.08,799.10 L661.70,798.40 Z" fill="#ED9B2D" fill-opacity="0.3" stroke="#2a2a2a" stroke-width="1.0" stroke-linejoin="round"/>
</g>
<line x1="524.50" y1="722.50" x2="524.50" y2="818.65" stroke="#383838" stroke-width="1.3"/>
<line x1="523.95" y1="818.10" x2="709.30" y2="818.10" stroke="#383838" stroke-width="1.3"/>
<line x1="521.20" y1="743.40" x2="524.50" y2="743.40" stroke="#383838" stroke-width="1.3"/>
<text x="518.10" y="747.70" font-size="12" text-anchor="end" fill="#111" color="#111">0.003</text>
<line x1="521.20" y1="767.20" x2="524.50" y2="767.20" stroke="#383838" stroke-width="1.3"/>
<text x="518.10" y="771.50" font-size="12" text-anchor="end" fill="#111" color="#111">0.002</text>
<line x1="521.20" y1="790.40" x2="524.50" y2="790.40" stroke="#383838" stroke-width="1.3"/>
<text x="518.10" y="794.70" font-size="12" text-anchor="end" fill="#111" color="#111">0.001</text>
<line x1="521.20" y1="813.40" x2="524.50" y2="813.40" stroke="#383838" stroke-width="1.3"/>
<text x="518.10" y="817.70" font-size="12" text-anchor="end" fill="#111" color="#111">0.000</text>
<line x1="574.90" y1="818.10" x2="574.90" y2="821.40" stroke="#383838" stroke-width="1.3"/>
<text x="574.90" y="832.70" font-size="12" text-anchor="middle" fill="#111" color="#111">0</text>
<line x1="658.90" y1="818.10" x2="658.90" y2="821.40" stroke="#383838" stroke-width="1.3"/>
<text x="658.90" y="832.70" font-size="12" text-anchor="middle" fill="#111" color="#111">1</text>
<text x="845.00" y="691.94" font-size="12" text-anchor="middle" fill="#111" color="#111">PWY 6859: all trans</text>
<text x="845.00" y="704.77" font-size="12" text-anchor="middle" fill="#111" color="#111">farnesol biosynthesis</text>
<clipPath id="cp13"><rect x="752.60" y="722.50" width="184.80" height="95.60"/></clipPath>
<g clip-path="url(#cp13)">
<circle cx="777.30" cy="727.30" r="4.5" fill="#2D7091" fill-opacity="0.5" stroke="#1c2830" stroke-opacity="0.6" stroke-width="0.95"/>
<circle cx="785.40" cy="734.50" r="4.5" fill="#2D7091" fill-opacity="0.5" stroke="#1c2830" stroke-opacity="0.6" stroke-width="0.95"/>
<circle cx="833.80" cy="767.90" r="4.5" fill="#2D7091" fill-opacity="0.5" stroke="#1c2830" stroke-opacity="0.6" stroke-width="0.95"/>
<circle cx="788.70" cy="790.40" r="4.5" fill="#2D7091" fill-opacity="0.5" stroke="#1c2830" stroke-opacity="0.6" stroke-width="0.95"/>
<circle cx="794.70" cy="793.60" r="4.5" fill="#2D7091" fill-opacity="0.5" stroke="#1c2830" stroke-opacity="0.6" stroke-width="0.95"/>
<circle cx="810.00" cy="793.60" r="4.5" fill="#2D7091" fill-opacity="0.5" stroke="#1c2830" stroke-opacity="0.6" stroke-width="0.95"/>
<circle cx="829.00" cy="789.00" r="4.5" fill="#2D7091" fill-opacity="0.5" stroke="#1c2830" stroke-opacity="0.6" stroke-width="0.95"/>
<circle cx="827.70" cy="795.70" r="4.5" fill="#2D7091" fill-opacity="0.5" stroke="#1c2830" stroke-opacity="0.6" stroke-width="0.95"/>
<circle cx="805.50" cy="802.60" r="4.5" fill="#2D7091" fill-opacity="0.5" stroke="#1c2830" stroke-opacity="0.6" stroke-width="0.95"/>
<circle cx="781.30" cy="808.10" r="4.5" fill="#2D7091" fill-opacity="0.5" stroke="#1c2830" stroke-opacity="0.6" stroke-width="0.95"/>
<circle cx="789.90" cy="805.90" r="4.5" fill="#2D7091" fill-opacity="0.5" stroke="#1c2830" stroke-opacity="0.6" stroke-width="0.95"/>
<circle cx="794.20" cy="813.40" r="4.5" fill="#2D7091" fill-opacity="0.5" stroke="#1c2830" stroke-opacity="0.6" stroke-width="0.95"/>
<circle cx="855.10" cy="792.20" r="4.5" fill="#ED9B2D" fill-opacity="0.5" stroke="#1c2830" stroke-opacity="0.6" stroke-width="0.95"/>
<circle cx="858.60" cy="801.00" r="4.5" fill="#ED9B2D" fill-opacity="0.5" stroke="#1c2830" stroke-opacity="0.6" stroke-width="0.95"/>
<circle cx="883.70" cy="797.30" r="4.5" fill="#ED9B2D" fill-opacity="0.5" stroke="#1c2830" stroke-opacity="0.6" stroke-width="0.95"/>
<circle cx="911.90" cy="798.40" r="4.5" fill="#ED9B2D" fill-opacity="0.5" stroke="#1c2830" stroke-opacity="0.6" stroke-width="0.95"/>
<circle cx="895.30" cy="804.60" r="4.5" fill="#ED9B2D" fill-opacity="0.5" stroke="#1c2830" stroke-opacity="0.6" stroke-width="0.95"/>
<circle cx="869.60" cy="807.50" r="4.5" fill="#ED9B2D" fill-opacity="0.5" stroke="#1c2830" stroke-opacity="0.6" stroke-width="0.95"/>
<circle cx="875.20" cy="809.40" r="4.5" fill="#ED9B2D" fill-opacity="0.5" stroke="#1c2830" stroke-opacity="0.6" stroke-width="0.95"/>
<circle cx="867.20" cy="812.60" r="4.5" fill="#ED9B2D" fill-opacity="0.5" stroke="#1c2830" stroke-opacity="0.6" stroke-width="0.95"/>
<circle cx="900.20" cy="809.70" r="4.5" fill="#ED9B2D" fill-opacity="0.5" stroke="#1c2830" stroke-opacity="0.6" stroke-width="0.95"/>
<circle cx="898.60" cy="811.80" r="4.5" fill="#ED9B2D" fill-opacity="0.5" stroke="#1c2830" stroke-opacity="0.6" stroke-width="0.95"/>
<circle cx="912.30" cy="809.10" r="4.5" fill="#ED9B2D" fill-opacity="0.5" stroke="#1c2830" stroke-opacity="0.6" stroke-width="0.95"/>
<circle cx="918.70" cy="806.20" r="4.5" fill="#ED9B2D" fill-opacity="0.5" stroke="#1c2830" stroke-opacity="0.6" stroke-width="0.95"/>
<circle cx="917.10" cy="809.40" r="4.5" fill="#ED9B2D" fill-opacity="0.5" stroke="#1c2830" stroke-opacity="0.6" stroke-width="0.95"/>
<path d="M799.40,727.00 L799.41,727.70 L799.43,728.40 L799.45,729.10 L799.49,729.80 L799.54,730.50 L799.59,731.20 L799.64,731.90 L799.70,732.60 L799.77,733.30 L799.84,734.00 L799.93,734.70 L800.06,735.40 L800.20,736.10 L800.36,736.80 L800.53,737.50 L800.71,738.20 L800.88,738.90 L801.06,739.60 L801.21,740.30 L801.36,741.00 L801.48,741.70 L801.59,742.40 L801.70,743.10 L801.81,743.80 L801.91,744.50 L802.02,745.20 L802.12,745.90 L802.22,746.60 L802.32,747.30 L802.41,748.00 L802.49,748.70 L802.56,749.40 L802.62,750.10 L802.67,750.80 L802.71,751.50 L802.73,752.20 L802.74,752.90 L802.74,753.60 L802.71,754.30 L802.67,755.00 L802.62,755.70 L802.56,756.40 L802.48,757.10 L802.40,757.80 L802.30,758.50 L802.21,759.20 L802.11,759.90 L802.00,760.60 L801.90,761.30 L801.80,762.00 L801.70,762.70 L801.61,763.40 L801.53,764.10 L801.45,764.80 L801.37,765.50 L801.31,766.20 L801.24,766.90 L801.18,767.60 L801.12,768.30 L801.06,769.00 L801.00,769.70 L800.94,770.40 L800.88,771.10 L800.81,771.80 L800.73,772.50 L800.65,773.20 L800.56,773.90 L800.46,774.60 L800.35,775.30 L800.23,776.00 L800.09,776.70 L799.92,777.40 L799.66,778.10 L799.29,778.80 L798.82,779.50 L798.28,780.20 L797.69,780.90 L797.06,781.60 L796.42,782.30 L795.79,783.00 L795.20,783.70 L794.66,784.40 L794.17,785.10 L793.73,785.80 L793.28,786.50 L792.82,787.20 L792.36,787.90 L791.91,788.60 L791.48,789.30 L791.10,790.00 L790.76,790.70 L790.48,791.40 L790.28,792.10 L790.16,792.80 L790.12,793.50 L790.15,794.20 L790.23,794.90 L790.35,795.60 L790.50,796.30 L790.68,797.00 L790.89,797.70 L791.11,798.40 L791.34,799.10 L791.58,799.80 L791.82,800.50 L792.07,801.20 L792.34,801.90 L792.64,802.60 L792.97,803.30 L793.34,804.00 L793.72,804.70 L794.11,805.40 L794.50,806.10 L794.88,806.80 L795.24,807.50 L795.59,808.20 L795.93,808.90 L796.26,809.60 L796.59,810.30 L796.91,811.00 L797.23,811.70 L797.55,812.40 L797.82,813.10 L798.00,813.40 L808.00,813.40 L808.18,813.10 L808.45,812.40 L808.77,811.70 L809.09,811.00 L809.41,810.30 L809.74,809.60 L810.07,808.90 L810.41,808.20 L810.76,807.50 L811.12,806.80 L811.50,806.10 L811.89,805.40 L812.28,804.70 L812.66,804.00 L813.03,803.30 L813.36,802.60 L813.66,801.90 L813.93,801.20 L814.18,800.50 L814.42,799.80 L814.66,799.10 L814.89,798.40 L815.11,797.70 L815.32,797.00 L815.50,796.30 L815.65,795.60 L815.77,794.90 L815.85,794.20 L815.88,793.50 L815.84,792.80 L815.72,792.10 L815.52,791.40 L815.24,790.70 L814.90,790.00 L814.52,789.30 L814.09,788.60 L813.64,787.90 L813.18,787.20 L812.72,786.50 L812.27,785.80 L811.83,785.10 L811.34,784.40 L810.80,783.70 L810.21,783.00 L809.58,782.30 L808.94,781.60 L808.31,780.90 L807.72,780.20 L807.18,779.50 L806.71,778.80 L806.34,778.10 L806.08,777.40 L805.91,776.70 L805.77,776.00 L805.65,775.30 L805.54,774.60 L805.44,773.90 L805.35,773.20 L805.27,772.50 L805.19,771.80 L805.12,771.10 L805.06,770.40 L805.00,769.70 L804.94,769.00 L804.88,768.30 L804.82,767.60 L804.76,766.90 L804.69,766.20 L804.63,765.50 L804.55,764.80 L804.47,764.10 L804.39,763.40 L804.30,762.70 L804.20,762.00 L804.10,761.30 L804.00,760.60 L803.89,759.90 L803.79,759.20 L803.70,758.50 L803.60,757.80 L803.52,757.10 L803.44,756.40 L803.38,755.70 L803.33,755.00 L803.29,754.30 L803.26,753.60 L803.26,752.90 L803.27,752.20 L803.29,751.50 L803.33,750.80 L803.38,750.10 L803.44,749.40 L803.51,748.70 L803.59,748.00 L803.68,747.30 L803.78,746.60 L803.88,745.90 L803.98,745.20 L804.09,744.50 L804.19,743.80 L804.30,743.10 L804.41,742.40 L804.52,741.70 L804.64,741.00 L804.79,740.30 L804.94,739.60 L805.12,738.90 L805.29,738.20 L805.47,737.50 L805.64,736.80 L805.80,736.10 L805.94,735.40 L806.07,734.70 L806.16,734.00 L806.23,733.30 L806.30,732.60 L806.36,731.90 L806.41,731.20 L806.46,730.50 L806.51,729.80 L806.55,729.10 L806.57,728.40 L806.59,727.70 L806.60,727.00 Z" fill="#2D7091" fill-opacity="0.3" stroke="#2a2a2a" stroke-width="1.0" stroke-linejoin="round"/>
<path d="M880.20,792.50 L879.30,793.20 L878.46,793.90 L877.60,794.60 L876.75,795.30 L875.91,796.00 L875.09,796.70 L874.33,797.40 L873.62,798.10 L872.91,798.80 L872.16,799.50 L871.30,800.20 L870.27,800.90 L868.92,801.60 L867.10,802.30 L864.89,803.00 L862.53,803.70 L860.24,804.40 L857.98,805.10 L855.63,805.80 L853.30,806.50 L851.28,807.20 L849.90,807.90 L849.67,808.60 L851.26,809.30 L854.51,810.00 L858.27,810.70 L861.65,811.40 L864.67,812.10 L867.40,812.80 L870.00,813.40 L904.00,813.40 L906.60,812.80 L909.33,812.10 L912.35,811.40 L915.73,810.70 L919.49,810.00 L922.74,809.30 L924.33,808.60 L924.10,807.90 L922.72,807.20 L920.70,806.50 L918.37,805.80 L916.02,805.10 L913.76,804.40 L911.47,803.70 L909.11,803.00 L906.90,802.30 L905.08,801.60 L903.73,800.90 L902.70,800.20 L901.84,799.50 L901.09,798.80 L900.38,798.10 L899.67,797.40 L898.91,796.70 L898.09,796.00 L897.25,795.30 L896.40,794.60 L895.54,793.90 L894.70,793.20 L893.80,792.50 Z" fill="#ED9B2D" fill-opacity="0.3" stroke="#2a2a2a" stroke-width="1.0" stroke-linejoin="round"/>
</g>
<line x1="752.60" y1="722.50" x2="752.60" y2="818.65" stroke="#383838" stroke-width="1.3"/>
<line x1="752.05" y1="818.10" x2="937.40" y2="818.10" stroke="#383838" stroke-width="1.3"/>
<line x1="749.30" y1="730.20" x2="752.60" y2="730.20" stroke="#383838" stroke-width="1.3"/>
<text x="746.20" y="734.50" font-size="12" text-anchor="end" fill="#111" color="#111">0.012</text>
<line x1="749.30" y1="758.20" x2="752.60" y2="758.20" stroke="#383838" stroke-width="1.3"/>
<text x="746.20" y="762.50" font-size="12" text-anchor="end" fill="#111" color="#111">0.008</text>
<line x1="749.30" y1="785.70" x2="752.60" y2="785.70" stroke="#383838" stroke-width="1.3"/>
<text x="746.20" y="790.00" font-size="12" text-anchor="end" fill="#111" color="#111">0.004</text>
<line x1="749.30" y1="813.40" x2="752.60" y2="813.40" stroke="#383838" stroke-width="1.3"/>
<text x="746.20" y="817.70" font-size="12" text-anchor="end" fill="#111" color="#111">0.000</text>
<line x1="803.00" y1="818.10" x2="803.00" y2="821.40" stroke="#383838" stroke-width="1.3"/>
<text x="803.00" y="832.70" font-size="12" text-anchor="middle" fill="#111" color="#111">0</text>
<line x1="887.00" y1="818.10" x2="887.00" y2="821.40" stroke="#383838" stroke-width="1.3"/>
<text x="887.00" y="832.70" font-size="12" text-anchor="middle" fill="#111" color="#111">1</text>
<text x="1073.40" y="691.94" font-size="12" text-anchor="middle" fill="#111" color="#111">VALSYN PWY: L valine</text>
<text x="1073.40" y="704.77" font-size="12" text-anchor="middle" fill="#111" color="#111">biosynthesis</text>
<clipPath id="cp14"><rect x="981.00" y="722.50" width="184.80" height="95.60"/></clipPath>
<g clip-path="url(#cp14)">
<circle cx="1027.50" cy="727.00" r="4.5" fill="#2D7091" fill-opacity="0.5" stroke="#1c2830" stroke-opacity="0.6" stroke-width="0.95"/>
<circle cx="1040.10" cy="762.70" r="4.5" fill="#2D7091" fill-opacity="0.5" stroke="#1c2830" stroke-opacity="0.6" stroke-width="0.95"/>
<circle cx="1023.80" cy="773.20" r="4.5" fill="#2D7091" fill-opacity="0.5" stroke="#1c2830" stroke-opacity="0.6" stroke-width="0.95"/>
<circle cx="1049.80" cy="778.80" r="4.5" fill="#2D7091" fill-opacity="0.5" stroke="#1c2830" stroke-opacity="0.6" stroke-width="0.95"/>
<circle cx="1064.20" cy="783.30" r="4.5" fill="#2D7091" fill-opacity="0.5" stroke="#1c2830" stroke-opacity="0.6" stroke-width="0.95"/>
<circle cx="1040.90" cy="788.10" r="4.5" fill="#2D7091" fill-opacity="0.5" stroke="#1c2830" stroke-opacity="0.6" stroke-width="0.95"/>
<circle cx="998.90" cy="793.00" r="4.5" fill="#2D7091" fill-opacity="0.5" stroke="#1c2830" stroke-opacity="0.6" stroke-width="0.95"/>
<circle cx="1004.20" cy="799.40" r="4.5" fill="#2D7091" fill-opacity="0.5" stroke="#1c2830" stroke-opacity="0.6" stroke-width="0.95"/>
<circle cx="1015.10" cy="793.00" r="4.5" fill="#2D7091" fill-opacity="0.5" stroke="#1c2830" stroke-opacity="0.6" stroke-width="0.95"/>
<circle cx="1021.90" cy="795.70" r="4.5" fill="#2D7091" fill-opacity="0.5" stroke="#1c2830" stroke-opacity="0.6" stroke-width="0.95"/>
<circle cx="1028.00" cy="800.50" r="4.5" fill="#2D7091" fill-opacity="0.5" stroke="#1c2830" stroke-opacity="0.6" stroke-width="0.95"/>
<circle cx="1061.30" cy="796.50" r="4.5" fill="#2D7091" fill-opacity="0.5" stroke="#1c2830" stroke-opacity="0.6" stroke-width="0.95"/>
<circle cx="1102.40" cy="783.30" r="4.5" fill="#ED9B2D" fill-opacity="0.5" stroke="#1c2830" stroke-opacity="0.6" stroke-width="0.95"/>
<circle cx="1135.40" cy="784.40" r="4.5" fill="#ED9B2D" fill-opacity="0.5" stroke="#1c2830" stroke-opacity="0.6" stroke-width="0.95"/>
<circle cx="1127.90" cy="790.10" r="4.5" fill="#ED9B2D" fill-opacity="0.5" stroke="#1c2830" stroke-opacity="0.6" stroke-width="0.95"/>
<circle cx="1082.30" cy="795.70" r="4.5" fill="#ED9B2D" fill-opacity="0.5" stroke="#1c2830" stroke-opacity="0.6" stroke-width="0.95"/>
<circle cx="1087.90" cy="799.70" r="4.5" fill="#ED9B2D" fill-opacity="0.5" stroke="#1c2830" stroke-opacity="0.6" stroke-width="0.95"/>
<circle cx="1094.40" cy="801.30" r="4.5" fill="#ED9B2D" fill-opacity="0.5" stroke="#1c2830" stroke-opacity="0.6" stroke-width="0.95"/>
<circle cx="1092.70" cy="803.00" r="4.5" fill="#ED9B2D" fill-opacity="0.5" stroke="#1c2830" stroke-opacity="0.6" stroke-width="0.95"/>
<circle cx="1082.30" cy="806.20" r="4.5" fill="#ED9B2D" fill-opacity="0.5" stroke="#1c2830" stroke-opacity="0.6" stroke-width="0.95"/>
<circle cx="1114.50" cy="800.50" r="4.5" fill="#ED9B2D" fill-opacity="0.5" stroke="#1c2830" stroke-opacity="0.6" stroke-width="0.95"/>
<circle cx="1115.30" cy="801.70" r="4.5" fill="#ED9B2D" fill-opacity="0.5" stroke="#1c2830" stroke-opacity="0.6" stroke-width="0.95"/>
<circle cx="1143.20" cy="806.20" r="4.5" fill="#ED9B2D" fill-opacity="0.5" stroke="#1c2830" stroke-opacity="0.6" stroke-width="0.95"/>
<circle cx="1138.60" cy="813.40" r="4.5" fill="#ED9B2D" fill-opacity="0.5" stroke="#1c2830" stroke-opacity="0.6" stroke-width="0.95"/>
<path d="M1029.10,727.30 L1029.21,728.00 L1029.32,728.70 L1029.44,729.40 L1029.55,730.10 L1029.67,730.80 L1029.79,731.50 L1029.92,732.20 L1030.07,732.90 L1030.24,733.60 L1030.41,734.30 L1030.59,735.00 L1030.76,735.70 L1030.91,736.40 L1031.03,737.10 L1031.10,737.80 L1031.14,738.50 L1031.15,739.20 L1031.15,739.90 L1031.15,740.60 L1031.15,741.30 L1031.15,742.00 L1031.15,742.70 L1031.15,743.40 L1031.15,744.10 L1031.15,744.80 L1031.15,745.50 L1031.15,746.20 L1031.15,746.90 L1031.15,747.60 L1031.13,748.30 L1031.05,749.00 L1030.90,749.70 L1030.67,750.40 L1030.40,751.10 L1030.09,751.80 L1029.77,752.50 L1029.45,753.20 L1029.16,753.90 L1028.91,754.60 L1028.69,755.30 L1028.48,756.00 L1028.28,756.70 L1028.09,757.40 L1027.90,758.10 L1027.71,758.80 L1027.53,759.50 L1027.34,760.20 L1027.16,760.90 L1026.97,761.60 L1026.78,762.30 L1026.58,763.00 L1026.38,763.70 L1026.17,764.40 L1025.95,765.10 L1025.74,765.80 L1025.51,766.50 L1025.29,767.20 L1025.06,767.90 L1024.83,768.60 L1024.60,769.30 L1024.36,770.00 L1024.12,770.70 L1023.87,771.40 L1023.62,772.10 L1023.36,772.80 L1023.09,773.50 L1022.82,774.20 L1022.52,774.90 L1022.21,775.60 L1021.89,776.30 L1021.55,777.00 L1021.21,777.70 L1020.86,778.40 L1020.51,779.10 L1020.17,779.80 L1019.83,780.50 L1019.50,781.20 L1019.19,781.90 L1018.89,782.60 L1018.62,783.30 L1018.35,784.00 L1018.08,784.70 L1017.81,785.40 L1017.53,786.10 L1017.26,786.80 L1017.00,787.50 L1016.76,788.20 L1016.55,788.90 L1016.37,789.60 L1016.23,790.30 L1016.15,791.00 L1016.11,791.70 L1016.12,792.40 L1016.15,793.10 L1016.20,793.80 L1016.26,794.50 L1016.34,795.20 L1016.42,795.90 L1016.53,796.60 L1016.68,797.30 L1016.89,798.00 L1017.15,798.70 L1017.45,799.40 L1017.78,800.10 L1018.06,800.80 L1018.20,800.90 L1044.60,800.90 L1044.74,800.80 L1045.02,800.10 L1045.35,799.40 L1045.65,798.70 L1045.91,798.00 L1046.12,797.30 L1046.27,796.60 L1046.38,795.90 L1046.46,795.20 L1046.54,794.50 L1046.60,793.80 L1046.65,793.10 L1046.68,792.40 L1046.69,791.70 L1046.65,791.00 L1046.57,790.30 L1046.43,789.60 L1046.25,788.90 L1046.04,788.20 L1045.80,787.50 L1045.54,786.80 L1045.27,786.10 L1044.99,785.40 L1044.72,784.70 L1044.45,784.00 L1044.18,783.30 L1043.91,782.60 L1043.61,781.90 L1043.30,781.20 L1042.97,780.50 L1042.63,779.80 L1042.29,779.10 L1041.94,778.40 L1041.59,777.70 L1041.25,777.00 L1040.91,776.30 L1040.59,775.60 L1040.28,774.90 L1039.98,774.20 L1039.71,773.50 L1039.44,772.80 L1039.18,772.10 L1038.93,771.40 L1038.68,770.70 L1038.44,770.00 L1038.20,769.30 L1037.97,768.60 L1037.74,767.90 L1037.51,767.20 L1037.29,766.50 L1037.06,765.80 L1036.85,765.10 L1036.63,764.40 L1036.42,763.70 L1036.22,763.00 L1036.02,762.30 L1035.83,761.60 L1035.64,760.90 L1035.46,760.20 L1035.27,759.50 L1035.09,758.80 L1034.90,758.10 L1034.71,757.40 L1034.52,756.70 L1034.32,756.00 L1034.11,755.30 L1033.89,754.60 L1033.64,753.90 L1033.35,753.20 L1033.03,752.50 L1032.71,751.80 L1032.40,751.10 L1032.13,750.40 L1031.90,749.70 L1031.75,749.00 L1031.67,748.30 L1031.65,747.60 L1031.65,746.90 L1031.65,746.20 L1031.65,745.50 L1031.65,744.80 L1031.65,744.10 L1031.65,743.40 L1031.65,742.70 L1031.65,742.00 L1031.65,741.30 L1031.65,740.60 L1031.65,739.90 L1031.65,739.20 L1031.66,738.50 L1031.70,737.80 L1031.77,737.10 L1031.89,736.40 L1032.04,735.70 L1032.21,735.00 L1032.39,734.30 L1032.56,733.60 L1032.73,732.90 L1032.88,732.20 L1033.01,731.50 L1033.13,730.80 L1033.25,730.10 L1033.36,729.40 L1033.48,728.70 L1033.59,728.00 L1033.70,727.30 Z" fill="#2D7091" fill-opacity="0.3" stroke="#2a2a2a" stroke-width="1.0" stroke-linejoin="round"/>
<path d="M1104.10,783.30 L1104.60,784.00 L1105.06,784.70 L1105.52,785.40 L1105.98,786.10 L1106.45,786.80 L1106.94,787.50 L1107.47,788.20 L1108.01,788.90 L1108.52,789.60 L1108.94,790.30 L1109.21,791.00 L1109.11,791.70 L1108.18,792.40 L1106.25,793.10 L1103.66,793.80 L1100.94,794.50 L1098.38,795.20 L1095.88,795.90 L1093.33,796.60 L1090.80,797.30 L1088.40,798.00 L1086.22,798.70 L1084.16,799.40 L1082.13,800.10 L1080.24,800.80 L1078.73,801.50 L1077.88,802.20 L1078.08,802.90 L1079.62,803.60 L1082.31,804.30 L1085.63,805.00 L1089.05,805.70 L1092.34,806.40 L1095.76,807.10 L1099.37,807.80 L1102.83,808.50 L1105.66,809.20 L1107.47,809.90 L1108.32,810.60 L1108.71,811.30 L1108.96,812.00 L1109.11,812.70 L1109.18,813.40 L1109.20,813.40 L1121.60,813.40 L1121.62,813.40 L1121.69,812.70 L1121.84,812.00 L1122.09,811.30 L1122.48,810.60 L1123.33,809.90 L1125.14,809.20 L1127.97,808.50 L1131.43,807.80 L1135.04,807.10 L1138.46,806.40 L1141.75,805.70 L1145.17,805.00 L1148.49,804.30 L1151.18,803.60 L1152.72,802.90 L1152.92,802.20 L1152.07,801.50 L1150.56,800.80 L1148.67,800.10 L1146.64,799.40 L1144.58,798.70 L1142.40,798.00 L1140.00,797.30 L1137.47,796.60 L1134.92,795.90 L1132.42,795.20 L1129.86,794.50 L1127.14,793.80 L1124.55,793.10 L1122.62,792.40 L1121.69,791.70 L1121.59,791.00 L1121.86,790.30 L1122.28,789.60 L1122.79,788.90 L1123.33,788.20 L1123.86,787.50 L1124.35,786.80 L1124.82,786.10 L1125.28,785.40 L1125.74,784.70 L1126.20,784.00 L1126.70,783.30 Z" fill="#ED9B2D" fill-opacity="0.3" stroke="#2a2a2a" stroke-width="1.0" stroke-linejoin="round"/>
</g>
<line x1="981.00" y1="722.50" x2="981.00" y2="818.65" stroke="#383838" stroke-width="1.3"/>
<line x1="980.45" y1="818.10" x2="1165.80" y2="818.10" stroke="#383838" stroke-width="1.3"/>
<line x1="977.70" y1="727.30" x2="981.00" y2="727.30" stroke="#383838" stroke-width="1.3"/>
<text x="974.60" y="731.60" font-size="12" text-anchor="end" fill="#111" color="#111">0.025</text>
<line x1="977.70" y1="749.80" x2="981.00" y2="749.80" stroke="#383838" stroke-width="1.3"/>
<text x="974.60" y="754.10" font-size="12" text-anchor="end" fill="#111" color="#111">0.020</text>
<line x1="977.70" y1="772.40" x2="981.00" y2="772.40" stroke="#383838" stroke-width="1.3"/>
<text x="974.60" y="776.70" font-size="12" text-anchor="end" fill="#111" color="#111">0.015</text>
<line x1="977.70" y1="794.90" x2="981.00" y2="794.90" stroke="#383838" stroke-width="1.3"/>
<text x="974.60" y="799.20" font-size="12" text-anchor="end" fill="#111" color="#111">0.010</text>
<line x1="977.70" y1="817.10" x2="981.00" y2="817.10" stroke="#383838" stroke-width="1.3"/>
<text x="974.60" y="821.40" font-size="12" text-anchor="end" fill="#111" color="#111">0.005</text>
<line x1="1031.40" y1="818.10" x2="1031.40" y2="821.40" stroke="#383838" stroke-width="1.3"/>
<text x="1031.40" y="832.70" font-size="12" text-anchor="middle" fill="#111" color="#111">0</text>
<line x1="1115.40" y1="818.10" x2="1115.40" y2="821.40" stroke="#383838" stroke-width="1.3"/>
<text x="1115.40" y="832.70" font-size="12" text-anchor="middle" fill="#111" color="#111">1</text>
<text x="1179.5" y="578.9" font-size="14" fill="#000" color="#000">class</text>
<rect x="1180.4" y="588.30" width="14" height="14" fill="#2D7091" fill-opacity="0.3" stroke="#2b2b2b" stroke-width="1"/>
<circle cx="1187.4" cy="595.30" r="4.5" fill="#2D7091" fill-opacity="0.5" stroke="#1c2830" stroke-opacity="0.6" stroke-width="0.95"/>
<text x="1201.8" y="599.50" font-size="12" fill="#111" color="#111">0</text>
<rect x="1180.4" y="604.30" width="14" height="14" fill="#ED9B2D" fill-opacity="0.3" stroke="#2b2b2b" stroke-width="1"/>
<circle cx="1187.4" cy="611.30" r="4.5" fill="#ED9B2D" fill-opacity="0.5" stroke="#1c2830" stroke-opacity="0.6" stroke-width="0.95"/>
<text x="1201.8" y="615.50" font-size="12" fill="#111" color="#111">1</text>
</svg>
</body></html>
